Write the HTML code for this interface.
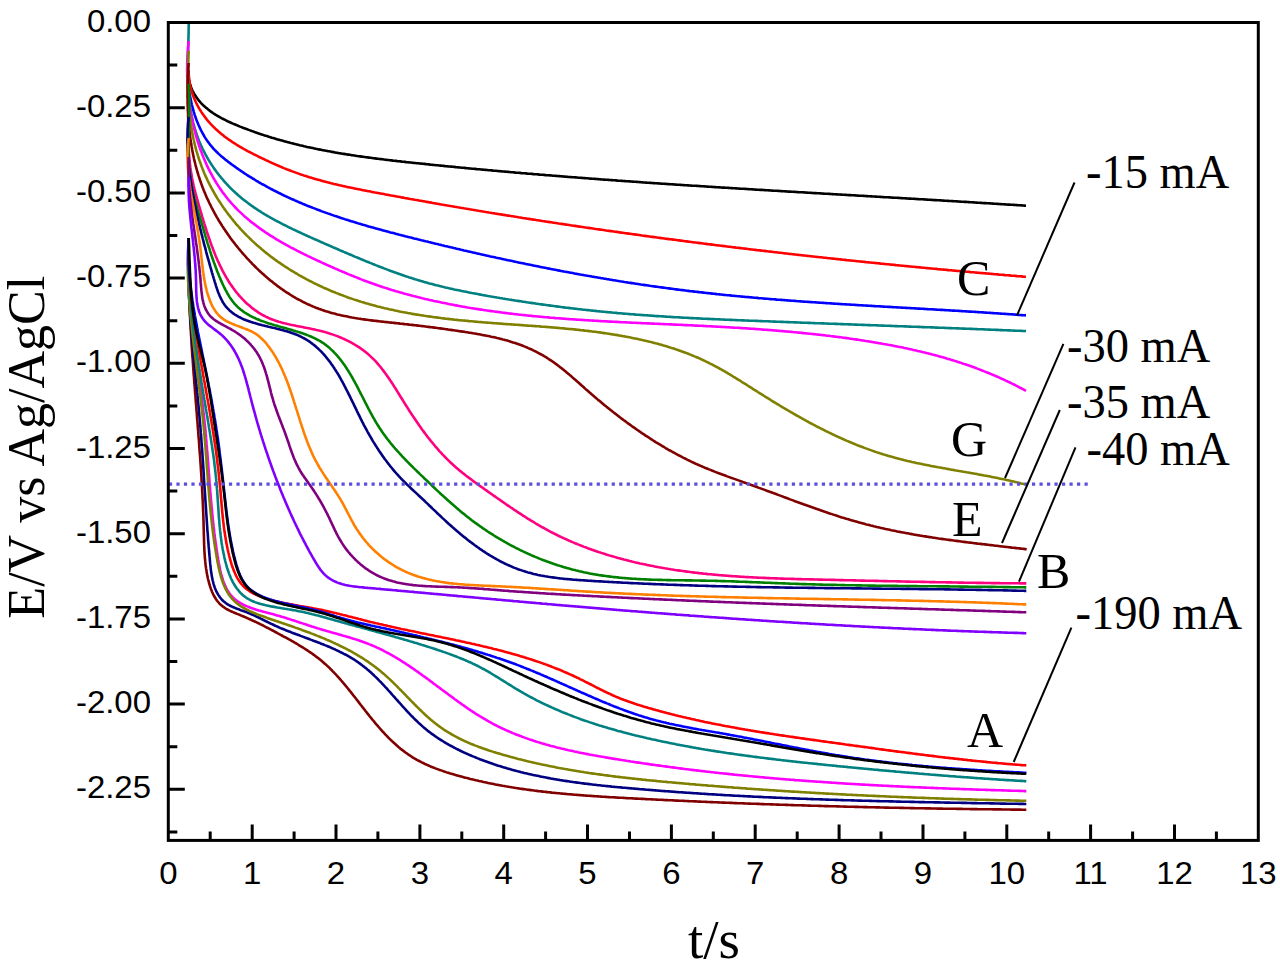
<!DOCTYPE html>
<html><head><meta charset="utf-8"><title>Chronopotentiometry</title>
<style>html,body{margin:0;padding:0;background:#fff;width:1280px;height:969px;overflow:hidden}svg{display:block}</style>
</head><body>
<svg width="1280" height="969" viewBox="0 0 1280 969"><path d="M188.7 78.0L189.0 79.6 189.3 81.1 189.6 82.6 190.0 84.1 190.5 85.5 191.0 87.0 191.5 88.3 192.1 89.7 192.7 91.0 193.4 92.3 194.1 93.6 194.8 94.8 195.6 96.0 196.4 97.2 197.2 98.4 198.1 99.5 198.9 100.6 199.9 101.7 200.8 102.8 201.8 103.8 202.8 104.8 203.8 105.8 204.9 106.8 206.0 107.7 207.1 108.6 208.2 109.5 209.4 110.4 210.5 111.3 211.7 112.1 212.9 113.0 214.2 113.8 215.4 114.6 216.7 115.4 218.0 116.1 219.3 116.9 220.6 117.6 221.9 118.3 223.3 119.0 224.6 119.7 226.0 120.4 227.3 121.1 228.7 121.7 230.1 122.3 231.5 123.0 232.9 123.6 234.4 124.2 235.8 124.8 237.2 125.4 238.6 126.0 240.1 126.6 241.5 127.1 242.9 127.7 244.4 128.2 245.8 128.8 247.2 129.3 248.7 129.9 250.1 130.4 251.6 130.9 253.0 131.4 254.5 132.0 255.9 132.5 257.3 133.0 258.8 133.5 260.2 133.9 261.7 134.4 263.1 134.9 264.6 135.4 266.0 135.8 267.5 136.3 268.9 136.8 270.4 137.2 271.8 137.7 273.3 138.1 274.8 138.5 276.2 139.0 277.7 139.4 279.1 139.8 280.6 140.2 282.0 140.6 283.5 141.0 285.0 141.4 286.4 141.8 287.9 142.2 289.3 142.6 290.8 143.0 292.3 143.3 293.7 143.7 295.2 144.1 296.7 144.4 298.1 144.8 299.6 145.2 301.1 145.5 302.5 145.8 304.0 146.2 305.5 146.5 306.9 146.9 308.4 147.2 309.9 147.5 311.3 147.8 312.8 148.1 314.3 148.4 315.8 148.8 317.2 149.1 318.7 149.4 320.2 149.6 321.7 149.9 323.1 150.2 324.6 150.5 326.1 150.8 327.6 151.1 329.0 151.3 330.5 151.6 332.0 151.9 333.5 152.1 334.9 152.4 336.4 152.7 337.9 152.9 339.4 153.2 340.9 153.4 342.4 153.7 343.8 153.9 345.3 154.1 346.8 154.4 348.3 154.6 349.8 154.8 351.2 155.1 352.7 155.3 354.2 155.5 355.7 155.7 357.2 156.0 358.7 156.2 360.2 156.4 361.6 156.6 363.1 156.8 364.6 157.0 366.1 157.2 367.6 157.4 369.1 157.6 370.6 157.8 372.1 158.0 373.5 158.2 375.0 158.4 376.5 158.6 378.0 158.8 379.5 159.0 381.0 159.1 382.5 159.3 384.0 159.5 385.5 159.7 387.0 159.9 388.4 160.0 389.9 160.2 391.4 160.4 392.9 160.6 394.4 160.7 395.9 160.9 397.4 161.1 398.9 161.2 400.4 161.4 401.9 161.6 403.4 161.7 404.9 161.9 406.3 162.1 407.8 162.2 409.3 162.4 410.8 162.5 412.3 162.7 413.8 162.9 415.3 163.0 416.8 163.2 418.3 163.3 419.8 163.5 421.3 163.6 422.8 163.8 424.3 163.9 425.8 164.1 427.3 164.3 428.8 164.4 430.3 164.6 431.7 164.7 433.2 164.9 434.7 165.0 436.2 165.2 437.7 165.3 439.2 165.5 440.7 165.6 442.2 165.8 443.7 165.9 445.2 166.1 446.7 166.2 448.2 166.4 449.7 166.5 451.2 166.6 452.7 166.8 454.2 166.9 455.7 167.1 457.2 167.2 458.7 167.4 460.2 167.5 461.6 167.7 463.1 167.8 464.6 167.9 466.1 168.1 467.6 168.2 469.1 168.4 470.6 168.5 472.1 168.7 473.6 168.8 475.1 168.9 476.6 169.1 478.1 169.2 479.6 169.3 481.1 169.5 482.6 169.6 484.1 169.8 485.6 169.9 487.1 170.0 488.6 170.2 490.1 170.3 491.6 170.4 493.1 170.6 494.6 170.7 496.1 170.8 497.6 171.0 499.1 171.1 500.6 171.2 502.1 171.4 503.6 171.5 505.1 171.6 506.6 171.8 508.0 171.9 509.5 172.0 511.0 172.2 512.5 172.3 514.0 172.4 515.5 172.6 517.0 172.7 518.5 172.8 520.0 172.9 521.5 173.1 523.0 173.2 524.5 173.3 526.0 173.4 527.5 173.6 529.0 173.7 530.5 173.8 532.0 173.9 533.5 174.1 535.0 174.2 536.5 174.3 538.0 174.4 539.5 174.6 541.0 174.7 542.5 174.8 544.0 174.9 545.5 175.1 547.0 175.2 548.5 175.3 550.0 175.4 551.5 175.5 553.0 175.7 554.5 175.8 556.0 175.9 557.5 176.0 559.0 176.1 560.5 176.3 562.0 176.4 563.5 176.5 565.0 176.6 566.5 176.7 568.0 176.9 569.5 177.0 571.0 177.1 572.5 177.2 574.0 177.3 575.5 177.4 577.0 177.5 578.5 177.7 580.0 177.8 581.5 177.9 583.0 178.0 584.5 178.1 586.0 178.2 587.5 178.3 589.0 178.5 590.5 178.6 592.0 178.7 593.5 178.8 595.0 178.9 596.5 179.0 598.0 179.1 599.5 179.2 601.0 179.4 602.5 179.5 604.0 179.6 605.5 179.7 607.0 179.8 608.5 179.9 610.0 180.0 611.5 180.1 613.0 180.2 614.5 180.3 616.0 180.4 617.5 180.6 619.0 180.7 620.5 180.8 622.0 180.9 623.5 181.0 625.0 181.1 626.5 181.2 628.0 181.3 629.5 181.4 631.0 181.5 632.5 181.6 634.0 181.7 635.5 181.8 637.0 181.9 638.5 182.0 640.0 182.1 641.5 182.2 643.0 182.4 644.5 182.5 646.0 182.6 647.5 182.7 649.0 182.8 650.5 182.9 652.0 183.0 653.5 183.1 655.0 183.2 656.5 183.3 658.0 183.4 659.5 183.5 661.0 183.6 662.5 183.7 664.0 183.8 665.5 183.9 667.0 184.0 668.6 184.1 670.1 184.2 671.6 184.3 673.1 184.4 674.6 184.5 676.1 184.6 677.6 184.7 679.1 184.8 680.6 184.9 682.1 185.0 683.6 185.1 685.1 185.2 686.6 185.3 688.1 185.4 689.6 185.5 691.1 185.6 692.6 185.7 694.1 185.7 695.6 185.8 697.1 185.9 698.6 186.0 700.1 186.1 701.6 186.2 703.1 186.3 704.6 186.4 706.1 186.5 707.6 186.6 709.1 186.7 710.6 186.8 712.1 186.9 713.6 187.0 715.1 187.1 716.6 187.2 718.1 187.3 719.6 187.4 721.1 187.5 722.6 187.6 724.1 187.6 725.6 187.7 727.1 187.8 728.6 187.9 730.1 188.0 731.6 188.1 733.1 188.2 734.7 188.3 736.2 188.4 737.7 188.5 739.2 188.6 740.7 188.7 742.2 188.8 743.7 188.8 745.2 188.9 746.7 189.0 748.2 189.1 749.7 189.2 751.2 189.3 752.7 189.4 754.2 189.5 755.7 189.6 757.2 189.7 758.7 189.8 760.2 189.9 761.7 189.9 763.2 190.0 764.7 190.1 766.2 190.2 767.7 190.3 769.2 190.4 770.7 190.5 772.2 190.6 773.7 190.7 775.2 190.8 776.7 190.8 778.2 190.9 779.7 191.0 781.2 191.1 782.7 191.2 784.2 191.3 785.7 191.4 787.2 191.5 788.7 191.6 790.3 191.6 791.8 191.7 793.3 191.8 794.8 191.9 796.3 192.0 797.8 192.1 799.3 192.2 800.8 192.3 802.3 192.3 803.8 192.4 805.3 192.5 806.8 192.6 808.3 192.7 809.8 192.8 811.3 192.9 812.8 193.0 814.3 193.1 815.8 193.1 817.3 193.2 818.8 193.3 820.3 193.4 821.8 193.5 823.3 193.6 824.8 193.7 826.3 193.8 827.8 193.8 829.3 193.9 830.8 194.0 832.3 194.1 833.8 194.2 835.3 194.3 836.8 194.4 838.3 194.5 839.8 194.5 841.3 194.6 842.8 194.7 844.3 194.8 845.9 194.9 847.4 195.0 848.9 195.1 850.4 195.1 851.9 195.2 853.4 195.3 854.9 195.4 856.4 195.5 857.9 195.6 859.4 195.7 860.9 195.8 862.4 195.8 863.9 195.9 865.4 196.0 866.9 196.1 868.4 196.2 869.9 196.3 871.4 196.4 872.9 196.5 874.4 196.5 875.9 196.6 877.4 196.7 878.9 196.8 880.4 196.9 881.9 197.0 883.4 197.1 884.9 197.2 886.4 197.2 887.9 197.3 889.4 197.4 890.9 197.5 892.4 197.6 893.9 197.7 895.4 197.8 896.9 197.8 898.4 197.9 899.9 198.0 901.4 198.1 902.9 198.2 904.4 198.3 905.9 198.4 907.4 198.5 908.9 198.6 910.4 198.6 911.9 198.7 913.5 198.8 915.0 198.9 916.5 199.0 918.0 199.1 919.5 199.2 921.0 199.3 922.5 199.3 924.0 199.4 925.5 199.5 927.0 199.6 928.5 199.7 930.0 199.8 931.5 199.9 933.0 200.0 934.5 200.1 936.0 200.1 937.5 200.2 939.0 200.3 940.5 200.4 942.0 200.5 943.5 200.6 945.0 200.7 946.5 200.8 948.0 200.9 949.5 201.0 951.0 201.0 952.5 201.1 954.0 201.2 955.5 201.3 957.0 201.4 958.5 201.5 960.0 201.6 961.5 201.7 963.0 201.8 964.5 201.9 966.0 201.9 967.5 202.0 969.0 202.1 970.5 202.2 972.0 202.3 973.5 202.4 975.0 202.5 976.5 202.6 978.0 202.7 979.5 202.8 981.0 202.9 982.5 203.0 984.0 203.1 985.5 203.1 987.0 203.2 988.5 203.3 990.0 203.4 991.5 203.5 993.0 203.6 994.5 203.7 996.0 203.8 997.5 203.9 999.0 204.0 1000.5 204.1 1002.0 204.2 1003.5 204.3 1005.0 204.4 1006.5 204.5 1008.0 204.6 1009.5 204.6 1011.0 204.7 1012.5 204.8 1014.0 204.9 1015.5 205.0 1017.0 205.1 1018.5 205.2 1020.0 205.3 1021.5 205.4 1023.0 205.5 1024.5 205.6 1026.0 205.7" stroke="#000000" stroke-width="2.6" fill="none" stroke-linejoin="round"/>
<path d="M188.7 70.0L188.7 71.5 188.7 73.1 188.8 74.6 188.9 76.1 189.0 77.6 189.1 79.1 189.3 80.6 189.6 82.1 189.8 83.6 190.1 85.1 190.4 86.5 190.8 88.0 191.1 89.4 191.5 90.9 192.0 92.3 192.4 93.7 192.9 95.1 193.4 96.5 194.0 97.9 194.6 99.3 195.1 100.6 195.8 102.0 196.4 103.3 197.1 104.7 197.8 106.0 198.5 107.3 199.2 108.6 200.0 109.8 200.8 111.1 201.6 112.4 202.4 113.6 203.3 114.8 204.2 116.0 205.1 117.2 206.0 118.4 206.9 119.6 207.8 120.7 208.8 121.9 209.8 123.0 210.8 124.1 211.8 125.2 212.8 126.2 213.9 127.3 215.0 128.3 216.0 129.3 217.1 130.3 218.2 131.3 219.4 132.3 220.5 133.3 221.7 134.2 222.8 135.1 224.0 136.1 225.2 137.0 226.4 137.8 227.6 138.7 228.8 139.6 230.0 140.4 231.3 141.3 232.5 142.1 233.8 142.9 235.0 143.7 236.3 144.5 237.6 145.3 238.9 146.1 240.2 146.8 241.5 147.6 242.8 148.4 244.1 149.1 245.5 149.8 246.8 150.6 248.1 151.3 249.5 152.0 250.8 152.7 252.2 153.4 253.5 154.1 254.9 154.8 256.2 155.4 257.6 156.1 259.0 156.8 260.3 157.5 261.7 158.1 263.1 158.8 264.4 159.4 265.8 160.1 267.2 160.7 268.6 161.4 269.9 162.0 271.3 162.6 272.7 163.3 274.1 163.9 275.5 164.5 276.9 165.1 278.3 165.7 279.6 166.3 281.0 166.9 282.4 167.5 283.8 168.1 285.2 168.6 286.6 169.2 288.0 169.7 289.4 170.3 290.8 170.8 292.3 171.4 293.7 171.9 295.1 172.4 296.5 172.9 297.9 173.4 299.3 173.9 300.8 174.4 302.2 174.9 303.6 175.4 305.0 175.8 306.5 176.3 307.9 176.7 309.3 177.2 310.7 177.6 312.2 178.1 313.6 178.5 315.1 178.9 316.5 179.3 317.9 179.7 319.4 180.1 320.8 180.5 322.3 180.9 323.7 181.3 325.2 181.7 326.6 182.1 328.1 182.4 329.5 182.8 331.0 183.2 332.4 183.5 333.9 183.9 335.3 184.2 336.8 184.6 338.3 184.9 339.7 185.3 341.2 185.6 342.6 185.9 344.1 186.2 345.6 186.6 347.0 186.9 348.5 187.2 350.0 187.5 351.4 187.8 352.9 188.1 354.4 188.4 355.8 188.7 357.3 189.0 358.8 189.3 360.3 189.6 361.7 189.9 363.2 190.2 364.7 190.5 366.1 190.8 367.6 191.1 369.1 191.3 370.6 191.6 372.0 191.9 373.5 192.2 375.0 192.5 376.5 192.7 377.9 193.0 379.4 193.3 380.9 193.6 382.4 193.8 383.9 194.1 385.3 194.4 386.8 194.7 388.3 194.9 389.8 195.2 391.2 195.5 392.7 195.7 394.2 196.0 395.7 196.3 397.1 196.6 398.6 196.8 400.1 197.1 401.6 197.4 403.1 197.6 404.5 197.9 406.0 198.2 407.5 198.4 409.0 198.7 410.4 199.0 411.9 199.2 413.4 199.5 414.9 199.8 416.4 200.0 417.8 200.3 419.3 200.6 420.8 200.8 422.3 201.1 423.7 201.3 425.2 201.6 426.7 201.9 428.2 202.1 429.7 202.4 431.1 202.6 432.6 202.9 434.1 203.2 435.6 203.4 437.1 203.7 438.5 203.9 440.0 204.2 441.5 204.5 443.0 204.7 444.5 205.0 445.9 205.2 447.4 205.5 448.9 205.7 450.4 206.0 451.9 206.2 453.3 206.5 454.8 206.8 456.3 207.0 457.8 207.3 459.3 207.5 460.7 207.8 462.2 208.0 463.7 208.3 465.2 208.5 466.7 208.8 468.2 209.0 469.6 209.3 471.1 209.5 472.6 209.8 474.1 210.0 475.6 210.3 477.0 210.5 478.5 210.8 480.0 211.0 481.5 211.2 483.0 211.5 484.5 211.7 485.9 212.0 487.4 212.2 488.9 212.5 490.4 212.7 491.9 213.0 493.3 213.2 494.8 213.4 496.3 213.7 497.8 213.9 499.3 214.2 500.8 214.4 502.2 214.6 503.7 214.9 505.2 215.1 506.7 215.4 508.2 215.6 509.7 215.8 511.1 216.1 512.6 216.3 514.1 216.5 515.6 216.8 517.1 217.0 518.6 217.3 520.1 217.5 521.5 217.7 523.0 218.0 524.5 218.2 526.0 218.4 527.5 218.7 529.0 218.9 530.4 219.1 531.9 219.4 533.4 219.6 534.9 219.8 536.4 220.1 537.9 220.3 539.4 220.5 540.8 220.7 542.3 221.0 543.8 221.2 545.3 221.4 546.8 221.7 548.3 221.9 549.7 222.1 551.2 222.3 552.7 222.6 554.2 222.8 555.7 223.0 557.2 223.2 558.7 223.5 560.1 223.7 561.6 223.9 563.1 224.1 564.6 224.4 566.1 224.6 567.6 224.8 569.1 225.0 570.6 225.3 572.0 225.5 573.5 225.7 575.0 225.9 576.5 226.1 578.0 226.4 579.5 226.6 581.0 226.8 582.4 227.0 583.9 227.2 585.4 227.5 586.9 227.7 588.4 227.9 589.9 228.1 591.4 228.3 592.9 228.5 594.3 228.8 595.8 229.0 597.3 229.2 598.8 229.4 600.3 229.6 601.8 229.8 603.3 230.0 604.8 230.2 606.2 230.5 607.7 230.7 609.2 230.9 610.7 231.1 612.2 231.3 613.7 231.5 615.2 231.7 616.7 231.9 618.2 232.1 619.6 232.4 621.1 232.6 622.6 232.8 624.1 233.0 625.6 233.2 627.1 233.4 628.6 233.6 630.1 233.8 631.6 234.0 633.0 234.2 634.5 234.4 636.0 234.6 637.5 234.8 639.0 235.0 640.5 235.2 642.0 235.5 643.5 235.7 645.0 235.9 646.4 236.1 647.9 236.3 649.4 236.5 650.9 236.7 652.4 236.9 653.9 237.1 655.4 237.3 656.9 237.5 658.4 237.7 659.9 237.9 661.3 238.1 662.8 238.3 664.3 238.5 665.8 238.7 667.3 238.9 668.8 239.1 670.3 239.3 671.8 239.4 673.3 239.6 674.8 239.8 676.3 240.0 677.7 240.2 679.2 240.4 680.7 240.6 682.2 240.8 683.7 241.0 685.2 241.2 686.7 241.4 688.2 241.6 689.7 241.8 691.2 242.0 692.7 242.2 694.1 242.4 695.6 242.5 697.1 242.7 698.6 242.9 700.1 243.1 701.6 243.3 703.1 243.5 704.6 243.7 706.1 243.9 707.6 244.1 709.1 244.2 710.6 244.4 712.0 244.6 713.5 244.8 715.0 245.0 716.5 245.2 718.0 245.4 719.5 245.5 721.0 245.7 722.5 245.9 724.0 246.1 725.5 246.3 727.0 246.5 728.5 246.7 730.0 246.8 731.4 247.0 732.9 247.2 734.4 247.4 735.9 247.6 737.4 247.7 738.9 247.9 740.4 248.1 741.9 248.3 743.4 248.5 744.9 248.6 746.4 248.8 747.9 249.0 749.4 249.2 750.8 249.4 752.3 249.5 753.8 249.7 755.3 249.9 756.8 250.1 758.3 250.2 759.8 250.4 761.3 250.6 762.8 250.8 764.3 250.9 765.8 251.1 767.3 251.3 768.8 251.5 770.3 251.6 771.8 251.8 773.2 252.0 774.7 252.2 776.2 252.3 777.7 252.5 779.2 252.7 780.7 252.8 782.2 253.0 783.7 253.2 785.2 253.4 786.7 253.5 788.2 253.7 789.7 253.9 791.2 254.0 792.7 254.2 794.2 254.4 795.7 254.5 797.1 254.7 798.6 254.9 800.1 255.0 801.6 255.2 803.1 255.4 804.6 255.5 806.1 255.7 807.6 255.9 809.1 256.0 810.6 256.2 812.1 256.4 813.6 256.5 815.1 256.7 816.6 256.9 818.1 257.0 819.6 257.2 821.1 257.3 822.6 257.5 824.0 257.7 825.5 257.8 827.0 258.0 828.5 258.2 830.0 258.3 831.5 258.5 833.0 258.6 834.5 258.8 836.0 259.0 837.5 259.1 839.0 259.3 840.5 259.4 842.0 259.6 843.5 259.7 845.0 259.9 846.5 260.1 848.0 260.2 849.5 260.4 851.0 260.5 852.5 260.7 853.9 260.8 855.4 261.0 856.9 261.2 858.4 261.3 859.9 261.5 861.4 261.6 862.9 261.8 864.4 261.9 865.9 262.1 867.4 262.2 868.9 262.4 870.4 262.5 871.9 262.7 873.4 262.8 874.9 263.0 876.4 263.1 877.9 263.3 879.4 263.4 880.9 263.6 882.4 263.7 883.9 263.9 885.4 264.0 886.8 264.2 888.3 264.3 889.8 264.5 891.3 264.6 892.8 264.8 894.3 264.9 895.8 265.1 897.3 265.2 898.8 265.4 900.3 265.5 901.8 265.7 903.3 265.8 904.8 266.0 906.3 266.1 907.8 266.2 909.3 266.4 910.8 266.5 912.3 266.7 913.8 266.8 915.3 267.0 916.8 267.1 918.3 267.3 919.8 267.4 921.3 267.5 922.7 267.7 924.2 267.8 925.7 268.0 927.2 268.1 928.7 268.2 930.2 268.4 931.7 268.5 933.2 268.7 934.7 268.8 936.2 268.9 937.7 269.1 939.2 269.2 940.7 269.4 942.2 269.5 943.7 269.6 945.2 269.8 946.7 269.9 948.2 270.1 949.7 270.2 951.2 270.3 952.7 270.5 954.2 270.6 955.7 270.7 957.2 270.9 958.7 271.0 960.2 271.1 961.7 271.3 963.1 271.4 964.6 271.5 966.1 271.7 967.6 271.8 969.1 271.9 970.6 272.1 972.1 272.2 973.6 272.3 975.1 272.5 976.6 272.6 978.1 272.7 979.6 272.9 981.1 273.0 982.6 273.1 984.1 273.3 985.6 273.4 987.1 273.5 988.6 273.6 990.1 273.8 991.6 273.9 993.1 274.0 994.6 274.2 996.1 274.3 997.6 274.4 999.1 274.6 1000.6 274.7 1002.1 274.8 1003.6 274.9 1005.0 275.1 1006.5 275.2 1008.0 275.3 1009.5 275.4 1011.0 275.6 1012.5 275.7 1014.0 275.8 1015.5 275.9 1017.0 276.1 1018.5 276.2 1020.0 276.3 1021.5 276.4 1023.0 276.6 1024.5 276.7 1026.0 276.8" stroke="#ff0000" stroke-width="2.6" fill="none" stroke-linejoin="round"/>
<path d="M188.7 88.0L188.9 89.5 189.1 90.9 189.4 92.4 189.6 93.9 189.9 95.4 190.2 96.9 190.5 98.3 190.8 99.8 191.1 101.3 191.4 102.8 191.7 104.3 192.1 105.8 192.5 107.2 192.9 108.7 193.3 110.2 193.7 111.7 194.2 113.1 194.6 114.6 195.1 116.0 195.6 117.5 196.1 118.9 196.6 120.3 197.2 121.7 197.8 123.1 198.3 124.5 199.0 125.9 199.6 127.3 200.2 128.7 200.9 130.0 201.6 131.4 202.3 132.7 203.0 134.0 203.8 135.3 204.5 136.6 205.3 137.9 206.1 139.1 207.0 140.4 207.8 141.6 208.7 142.8 209.6 144.0 210.5 145.2 211.5 146.3 212.4 147.4 213.4 148.6 214.4 149.7 215.5 150.7 216.5 151.8 217.6 152.8 218.7 153.9 219.8 154.9 220.9 155.9 222.0 156.8 223.2 157.8 224.4 158.8 225.5 159.7 226.7 160.6 227.9 161.6 229.1 162.5 230.3 163.4 231.5 164.3 232.7 165.2 234.0 166.0 235.2 166.9 236.4 167.8 237.6 168.6 238.9 169.5 240.1 170.3 241.3 171.2 242.6 172.0 243.8 172.8 245.1 173.7 246.3 174.5 247.6 175.3 248.8 176.1 250.1 176.9 251.4 177.7 252.6 178.5 253.9 179.2 255.2 180.0 256.5 180.8 257.8 181.5 259.0 182.3 260.3 183.0 261.6 183.8 262.9 184.5 264.2 185.2 265.5 185.9 266.8 186.7 268.1 187.4 269.5 188.1 270.8 188.8 272.1 189.5 273.4 190.2 274.7 190.8 276.1 191.5 277.4 192.2 278.7 192.8 280.1 193.5 281.4 194.2 282.7 194.8 284.1 195.5 285.4 196.1 286.8 196.7 288.1 197.4 289.5 198.0 290.8 198.6 292.2 199.2 293.6 199.8 294.9 200.4 296.3 201.0 297.7 201.6 299.0 202.2 300.4 202.8 301.8 203.4 303.2 204.0 304.5 204.5 305.9 205.1 307.3 205.7 308.7 206.2 310.1 206.8 311.5 207.3 312.9 207.9 314.3 208.4 315.7 208.9 317.1 209.5 318.5 210.0 319.9 210.5 321.3 211.1 322.7 211.6 324.1 212.1 325.5 212.6 326.9 213.1 328.3 213.6 329.8 214.1 331.2 214.6 332.6 215.1 334.0 215.6 335.4 216.1 336.9 216.5 338.3 217.0 339.7 217.5 341.1 218.0 342.6 218.4 344.0 218.9 345.4 219.4 346.9 219.8 348.3 220.3 349.8 220.7 351.2 221.2 352.6 221.6 354.1 222.1 355.5 222.5 357.0 222.9 358.4 223.4 359.9 223.8 361.3 224.2 362.8 224.7 364.2 225.1 365.7 225.5 367.1 225.9 368.6 226.4 370.0 226.8 371.5 227.2 372.9 227.6 374.4 228.0 375.8 228.4 377.3 228.8 378.8 229.2 380.2 229.6 381.7 230.0 383.1 230.4 384.6 230.8 386.1 231.2 387.5 231.6 389.0 232.0 390.5 232.4 391.9 232.7 393.4 233.1 394.9 233.5 396.3 233.9 397.8 234.3 399.3 234.7 400.7 235.0 402.2 235.4 403.7 235.8 405.1 236.2 406.6 236.5 408.1 236.9 409.6 237.3 411.0 237.6 412.5 238.0 414.0 238.4 415.4 238.7 416.9 239.1 418.4 239.5 419.8 239.8 421.3 240.2 422.8 240.5 424.2 240.9 425.7 241.3 427.2 241.6 428.7 242.0 430.1 242.3 431.6 242.7 433.1 243.1 434.5 243.4 436.0 243.8 437.5 244.1 438.9 244.5 440.4 244.8 441.9 245.2 443.4 245.5 444.8 245.9 446.3 246.2 447.8 246.6 449.2 246.9 450.7 247.3 452.2 247.6 453.6 248.0 455.1 248.3 456.6 248.7 458.0 249.0 459.5 249.3 461.0 249.7 462.5 250.0 463.9 250.4 465.4 250.7 466.9 251.1 468.3 251.4 469.8 251.7 471.3 252.1 472.7 252.4 474.2 252.7 475.7 253.1 477.1 253.4 478.6 253.7 480.1 254.1 481.6 254.4 483.0 254.7 484.5 255.1 486.0 255.4 487.4 255.7 488.9 256.0 490.4 256.4 491.8 256.7 493.3 257.0 494.8 257.3 496.3 257.7 497.7 258.0 499.2 258.3 500.7 258.6 502.1 258.9 503.6 259.3 505.1 259.6 506.5 259.9 508.0 260.2 509.5 260.5 511.0 260.8 512.4 261.1 513.9 261.4 515.4 261.8 516.8 262.1 518.3 262.4 519.8 262.7 521.2 263.0 522.7 263.3 524.2 263.6 525.7 263.9 527.1 264.2 528.6 264.5 530.1 264.8 531.5 265.1 533.0 265.4 534.5 265.7 536.0 266.0 537.4 266.3 538.9 266.6 540.4 266.9 541.8 267.2 543.3 267.5 544.8 267.8 546.3 268.1 547.7 268.4 549.2 268.6 550.7 268.9 552.2 269.2 553.6 269.5 555.1 269.8 556.6 270.1 558.0 270.4 559.5 270.6 561.0 270.9 562.5 271.2 563.9 271.5 565.4 271.7 566.9 272.0 568.4 272.3 569.8 272.6 571.3 272.8 572.8 273.1 574.3 273.4 575.7 273.7 577.2 273.9 578.7 274.2 580.2 274.5 581.6 274.7 583.1 275.0 584.6 275.3 586.1 275.5 587.5 275.8 589.0 276.0 590.5 276.3 592.0 276.6 593.4 276.8 594.9 277.1 596.4 277.3 597.9 277.6 599.3 277.8 600.8 278.1 602.3 278.3 603.8 278.6 605.3 278.8 606.7 279.1 608.2 279.3 609.7 279.6 611.2 279.8 612.6 280.1 614.1 280.3 615.6 280.5 617.1 280.8 618.6 281.0 620.0 281.3 621.5 281.5 623.0 281.7 624.5 282.0 626.0 282.2 627.4 282.4 628.9 282.7 630.4 282.9 631.9 283.1 633.4 283.3 634.9 283.6 636.3 283.8 637.8 284.0 639.3 284.2 640.8 284.5 642.3 284.7 643.7 284.9 645.2 285.1 646.7 285.3 648.2 285.5 649.7 285.8 651.2 286.0 652.6 286.2 654.1 286.4 655.6 286.6 657.1 286.8 658.6 287.0 660.1 287.2 661.6 287.4 663.0 287.6 664.5 287.8 666.0 288.0 667.5 288.2 669.0 288.4 670.5 288.6 672.0 288.8 673.5 289.0 674.9 289.2 676.4 289.4 677.9 289.6 679.4 289.8 680.9 290.0 682.4 290.1 683.9 290.3 685.4 290.5 686.9 290.7 688.3 290.9 689.8 291.1 691.3 291.2 692.8 291.4 694.3 291.6 695.8 291.8 697.3 291.9 698.8 292.1 700.3 292.3 701.8 292.4 703.3 292.6 704.8 292.8 706.2 293.0 707.7 293.1 709.2 293.3 710.7 293.4 712.2 293.6 713.7 293.8 715.2 293.9 716.7 294.1 718.2 294.2 719.7 294.4 721.2 294.5 722.7 294.7 724.2 294.9 725.7 295.0 727.2 295.2 728.7 295.3 730.2 295.4 731.7 295.6 733.2 295.7 734.7 295.9 736.2 296.0 737.7 296.2 739.2 296.3 740.7 296.5 742.2 296.6 743.7 296.7 745.2 296.9 746.7 297.0 748.2 297.1 749.7 297.3 751.2 297.4 752.7 297.5 754.2 297.7 755.7 297.8 757.2 297.9 758.7 298.1 760.2 298.2 761.7 298.3 763.2 298.5 764.7 298.6 766.2 298.7 767.7 298.8 769.2 299.0 770.7 299.1 772.2 299.2 773.7 299.3 775.2 299.4 776.7 299.6 778.2 299.7 779.7 299.8 781.2 299.9 782.7 300.0 784.2 300.1 785.7 300.3 787.2 300.4 788.7 300.5 790.2 300.6 791.7 300.7 793.2 300.8 794.7 300.9 796.2 301.0 797.7 301.2 799.2 301.3 800.7 301.4 802.2 301.5 803.7 301.6 805.2 301.7 806.7 301.8 808.2 301.9 809.7 302.0 811.3 302.1 812.8 302.2 814.3 302.3 815.8 302.4 817.3 302.5 818.8 302.6 820.3 302.7 821.8 302.8 823.3 302.9 824.8 303.0 826.3 303.1 827.8 303.2 829.3 303.3 830.8 303.4 832.3 303.5 833.8 303.6 835.3 303.7 836.8 303.8 838.3 303.9 839.9 304.0 841.4 304.1 842.9 304.2 844.4 304.3 845.9 304.4 847.4 304.5 848.9 304.5 850.4 304.6 851.9 304.7 853.4 304.8 854.9 304.9 856.4 305.0 857.9 305.1 859.4 305.2 860.9 305.3 862.4 305.4 863.9 305.5 865.4 305.5 867.0 305.6 868.5 305.7 870.0 305.8 871.5 305.9 873.0 306.0 874.5 306.1 876.0 306.2 877.5 306.2 879.0 306.3 880.5 306.4 882.0 306.5 883.5 306.6 885.0 306.7 886.5 306.8 888.0 306.9 889.5 306.9 891.0 307.0 892.5 307.1 894.1 307.2 895.6 307.3 897.1 307.4 898.6 307.5 900.1 307.5 901.6 307.6 903.1 307.7 904.6 307.8 906.1 307.9 907.6 308.0 909.1 308.0 910.6 308.1 912.1 308.2 913.6 308.3 915.1 308.4 916.6 308.5 918.1 308.6 919.6 308.6 921.1 308.7 922.6 308.8 924.1 308.9 925.6 309.0 927.1 309.1 928.6 309.2 930.2 309.2 931.7 309.3 933.2 309.4 934.7 309.5 936.2 309.6 937.7 309.7 939.2 309.8 940.7 309.9 942.2 309.9 943.7 310.0 945.2 310.1 946.7 310.2 948.2 310.3 949.7 310.4 951.2 310.5 952.7 310.6 954.2 310.6 955.7 310.7 957.2 310.8 958.7 310.9 960.2 311.0 961.7 311.1 963.2 311.2 964.7 311.3 966.2 311.4 967.7 311.5 969.2 311.6 970.7 311.6 972.2 311.7 973.7 311.8 975.2 311.9 976.7 312.0 978.2 312.1 979.7 312.2 981.2 312.3 982.7 312.4 984.2 312.5 985.7 312.6 987.2 312.7 988.7 312.8 990.2 312.9 991.6 313.0 993.1 313.1 994.6 313.2 996.1 313.3 997.6 313.4 999.1 313.5 1000.6 313.6 1002.1 313.7 1003.6 313.8 1005.1 313.9 1006.6 314.0 1008.1 314.1 1009.6 314.2 1011.1 314.3 1012.6 314.4 1014.1 314.5 1015.6 314.6 1017.0 314.7 1018.5 314.9 1020.0 315.0 1021.5 315.1 1023.0 315.2 1024.5 315.3 1026.0 315.4" stroke="#0000ff" stroke-width="2.6" fill="none" stroke-linejoin="round"/>
<path d="M188.7 95.0L188.7 96.5 188.6 98.0 188.6 99.5 188.6 101.0 188.5 102.5 188.5 104.0 188.4 105.5 188.4 107.0 188.4 108.6 188.3 110.1 188.3 111.6 188.3 113.1 188.3 114.6 188.2 116.1 188.2 117.6 188.2 119.2 188.2 120.7 188.2 122.2 188.1 123.7 188.1 125.2 188.1 126.7 188.1 128.2 188.1 129.8 188.2 131.3 188.2 132.8 188.2 134.3 188.2 135.8 188.2 137.3 188.3 138.8 188.3 140.3 188.4 141.8 188.4 143.3 188.5 144.9 188.6 146.4 188.6 147.9 188.7 149.4 188.8 150.9 188.9 152.4 189.0 153.9 189.1 155.3 189.2 156.8 189.4 158.3 189.5 159.8 189.7 161.3 189.8 162.8 190.0 164.3 190.2 165.7 190.3 167.2 190.5 168.7 190.7 170.2 191.0 171.6 191.2 173.1 191.4 174.6 191.7 176.0 191.9 177.5 192.2 178.9 192.5 180.4 192.8 181.8 193.1 183.3 193.4 184.7 193.7 186.1 194.1 187.6 194.4 189.0 194.8 190.4 195.1 191.9 195.5 193.3 195.9 194.7 196.3 196.1 196.7 197.6 197.1 199.0 197.5 200.4 197.9 201.9 198.3 203.3 198.7 204.7 199.1 206.2 199.6 207.6 200.0 209.1 200.4 210.5 200.8 211.9 201.3 213.4 201.7 214.9 202.1 216.3 202.6 217.8 203.0 219.2 203.4 220.7 203.9 222.1 204.3 223.6 204.8 225.1 205.2 226.5 205.7 228.0 206.2 229.5 206.6 230.9 207.1 232.4 207.6 233.9 208.1 235.3 208.6 236.8 209.1 238.2 209.6 239.7 210.1 241.1 210.6 242.6 211.1 244.0 211.6 245.5 212.2 246.9 212.7 248.3 213.2 249.8 213.8 251.2 214.4 252.6 214.9 254.0 215.5 255.5 216.1 256.9 216.7 258.3 217.3 259.7 217.9 261.1 218.6 262.4 219.2 263.8 219.8 265.2 220.5 266.5 221.2 267.9 221.8 269.2 222.5 270.6 223.2 271.9 223.9 273.2 224.7 274.6 225.4 275.9 226.1 277.2 226.9 278.4 227.7 279.7 228.4 281.0 229.2 282.2 230.0 283.5 230.9 284.7 231.7 285.9 232.6 287.1 233.4 288.3 234.3 289.5 235.2 290.7 236.1 291.9 237.0 293.0 238.0 294.1 238.9 295.3 239.9 296.4 240.9 297.5 241.9 298.5 242.9 299.6 243.9 300.6 244.9 301.7 246.0 302.7 247.1 303.7 248.1 304.6 249.3 305.6 250.4 306.5 251.5 307.5 252.6 308.4 253.8 309.2 255.0 310.1 256.2 310.9 257.4 311.8 258.6 312.6 259.8 313.3 261.1 314.1 262.3 314.8 263.6 315.5 264.9 316.2 266.2 316.9 267.6 317.5 268.9 318.1 270.2 318.7 271.6 319.2 273.0 319.8 274.4 320.3 275.8 320.7 277.2 321.2 278.6 321.7 280.1 322.1 281.5 322.5 283.0 322.9 284.5 323.3 285.9 323.6 287.4 324.0 288.9 324.3 290.4 324.7 291.9 325.0 293.4 325.3 294.9 325.6 296.4 325.9 298.0 326.2 299.5 326.5 301.0 326.8 302.5 327.1 304.0 327.4 305.6 327.7 307.1 328.0 308.6 328.3 310.1 328.6 311.6 328.9 313.2 329.2 314.7 329.5 316.2 329.9 317.7 330.2 319.2 330.6 320.6 330.9 322.1 331.3 323.6 331.7 325.1 332.1 326.5 332.6 328.0 333.0 329.4 333.4 330.9 333.9 332.3 334.4 333.7 334.9 335.1 335.4 336.5 335.9 337.9 336.4 339.3 337.0 340.7 337.5 342.0 338.1 343.4 338.7 344.7 339.3 346.1 340.0 347.4 340.6 348.7 341.3 350.0 341.9 351.3 342.6 352.6 343.3 353.9 344.1 355.1 344.8 356.4 345.6 357.6 346.3 358.8 347.1 360.0 347.9 361.2 348.8 362.4 349.6 363.6 350.5 364.7 351.4 365.9 352.3 367.0 353.2 368.1 354.1 369.2 355.1 370.3 356.1 371.3 357.1 372.4 358.1 373.4 359.1 374.5 360.2 375.5 361.2 376.5 362.3 377.4 363.4 378.4 364.6 379.4 365.7 380.3 366.8 381.3 368.0 382.2 369.2 383.1 370.4 384.0 371.6 384.9 372.8 385.8 374.0 386.7 375.2 387.6 376.5 388.4 377.7 389.3 379.0 390.1 380.3 391.0 381.5 391.8 382.8 392.7 384.1 393.5 385.4 394.3 386.7 395.2 388.0 396.0 389.3 396.8 390.6 397.6 391.9 398.4 393.2 399.2 394.5 400.0 395.9 400.9 397.2 401.7 398.5 402.5 399.8 403.3 401.1 404.1 402.4 404.9 403.7 405.7 405.0 406.5 406.3 407.4 407.6 408.2 408.9 409.0 410.2 409.8 411.5 410.7 412.8 411.5 414.0 412.3 415.3 413.2 416.6 414.0 417.8 414.9 419.1 415.7 420.3 416.6 421.6 417.4 422.8 418.3 424.1 419.1 425.3 420.0 426.5 420.9 427.8 421.7 429.0 422.6 430.2 423.5 431.4 424.4 432.6 425.3 433.8 426.2 435.0 427.1 436.2 428.0 437.4 428.9 438.5 429.9 439.7 430.8 440.9 431.7 442.0 432.7 443.2 433.6 444.3 434.6 445.5 435.5 446.6 436.5 447.7 437.5 448.8 438.4 449.9 439.4 451.1 440.4 452.1 441.4 453.2 442.4 454.3 443.5 455.4 444.5 456.5 445.5 457.5 446.6 458.6 447.6 459.6 448.7 460.7 449.7 461.7 450.8 462.7 451.9 463.7 453.0 464.7 454.1 465.7 455.2 466.7 456.3 467.7 457.5 468.7 458.6 469.6 459.7 470.6 460.9 471.5 462.1 472.5 463.2 473.4 464.4 474.3 465.6 475.3 466.8 476.2 468.0 477.1 469.2 478.0 470.4 478.9 471.6 479.8 472.8 480.7 474.0 481.6 475.2 482.5 476.4 483.4 477.7 484.2 478.9 485.1 480.1 486.0 481.3 486.9 482.6 487.7 483.8 488.6 485.0 489.5 486.3 490.4 487.5 491.2 488.7 492.1 490.0 493.0 491.2 493.8 492.4 494.7 493.7 495.6 494.9 496.4 496.1 497.3 497.4 498.2 498.6 499.0 499.9 499.9 501.1 500.8 502.3 501.6 503.6 502.5 504.8 503.3 506.0 504.2 507.3 505.1 508.5 505.9 509.8 506.8 511.0 507.6 512.3 508.4 513.5 509.3 514.7 510.1 516.0 510.9 517.2 511.8 518.5 512.6 519.8 513.4 521.0 514.2 522.3 515.1 523.5 515.9 524.8 516.7 526.1 517.5 527.3 518.3 528.6 519.1 529.9 519.9 531.1 520.7 532.4 521.4 533.7 522.2 535.0 523.0 536.3 523.8 537.6 524.5 538.9 525.3 540.2 526.0 541.5 526.8 542.8 527.5 544.1 528.2 545.4 529.0 546.7 529.7 548.0 530.4 549.3 531.1 550.7 531.8 552.0 532.5 553.3 533.2 554.7 533.8 556.0 534.5 557.3 535.2 558.7 535.8 560.0 536.5 561.4 537.1 562.8 537.8 564.1 538.4 565.5 539.0 566.9 539.6 568.2 540.3 569.6 540.9 571.0 541.5 572.4 542.1 573.8 542.6 575.1 543.2 576.5 543.8 577.9 544.4 579.3 544.9 580.7 545.5 582.1 546.0 583.5 546.6 584.9 547.1 586.4 547.6 587.8 548.2 589.2 548.7 590.6 549.2 592.0 549.7 593.4 550.2 594.9 550.7 596.3 551.2 597.7 551.7 599.2 552.2 600.6 552.6 602.0 553.1 603.5 553.6 604.9 554.0 606.3 554.5 607.8 554.9 609.2 555.4 610.7 555.8 612.1 556.2 613.6 556.6 615.0 557.1 616.5 557.5 617.9 557.9 619.4 558.3 620.8 558.7 622.3 559.1 623.7 559.5 625.2 559.8 626.6 560.2 628.1 560.6 629.6 561.0 631.0 561.3 632.5 561.7 633.9 562.0 635.4 562.4 636.9 562.7 638.3 563.0 639.8 563.4 641.3 563.7 642.7 564.0 644.2 564.3 645.7 564.6 647.1 565.0 648.6 565.3 650.1 565.6 651.5 565.8 653.0 566.1 654.5 566.4 656.0 566.7 657.4 567.0 658.9 567.3 660.4 567.5 661.9 567.8 663.3 568.0 664.8 568.3 666.3 568.5 667.8 568.8 669.2 569.0 670.7 569.3 672.2 569.5 673.7 569.7 675.2 570.0 676.7 570.2 678.1 570.4 679.6 570.6 681.1 570.8 682.6 571.0 684.1 571.2 685.6 571.4 687.0 571.6 688.5 571.8 690.0 572.0 691.5 572.2 693.0 572.4 694.5 572.6 696.0 572.8 697.5 572.9 698.9 573.1 700.4 573.3 701.9 573.4 703.4 573.6 704.9 573.7 706.4 573.9 707.9 574.1 709.4 574.2 710.9 574.3 712.4 574.5 713.9 574.6 715.4 574.8 716.9 574.9 718.3 575.0 719.8 575.2 721.3 575.3 722.8 575.4 724.3 575.5 725.8 575.6 727.3 575.8 728.8 575.9 730.3 576.0 731.8 576.1 733.3 576.2 734.8 576.3 736.3 576.4 737.8 576.5 739.3 576.6 740.8 576.7 742.3 576.8 743.8 576.9 745.3 577.0 746.8 577.1 748.3 577.1 749.8 577.2 751.3 577.3 752.8 577.4 754.3 577.5 755.8 577.5 757.3 577.6 758.8 577.7 760.3 577.7 761.8 577.8 763.3 577.9 764.9 577.9 766.4 578.0 767.9 578.1 769.4 578.1 770.9 578.2 772.4 578.2 773.9 578.3 775.4 578.4 776.9 578.4 778.4 578.5 779.9 578.5 781.4 578.6 782.9 578.6 784.4 578.7 785.9 578.7 787.4 578.8 788.9 578.8 790.4 578.8 791.9 578.9 793.4 578.9 794.9 579.0 796.4 579.0 798.0 579.1 799.5 579.1 801.0 579.1 802.5 579.2 804.0 579.2 805.5 579.3 807.0 579.3 808.5 579.3 810.0 579.4 811.5 579.4 813.0 579.4 814.5 579.5 816.0 579.5 817.5 579.5 819.0 579.6 820.5 579.6 822.0 579.6 823.5 579.7 825.0 579.7 826.5 579.8 828.0 579.8 829.6 579.8 831.1 579.9 832.6 579.9 834.1 579.9 835.6 580.0 837.1 580.0 838.6 580.0 840.1 580.1 841.6 580.1 843.1 580.1 844.6 580.2 846.1 580.2 847.6 580.2 849.1 580.3 850.6 580.3 852.1 580.3 853.6 580.4 855.1 580.4 856.6 580.5 858.1 580.5 859.6 580.5 861.1 580.6 862.6 580.6 864.1 580.6 865.6 580.7 867.1 580.7 868.6 580.7 870.1 580.8 871.6 580.8 873.1 580.8 874.6 580.9 876.1 580.9 877.6 580.9 879.1 581.0 880.6 581.0 882.1 581.0 883.6 581.1 885.1 581.1 886.6 581.1 888.1 581.2 889.6 581.2 891.1 581.2 892.6 581.3 894.1 581.3 895.6 581.3 897.1 581.4 898.6 581.4 900.1 581.4 901.6 581.5 903.1 581.5 904.6 581.5 906.1 581.6 907.6 581.6 909.1 581.6 910.6 581.7 912.1 581.7 913.6 581.7 915.1 581.8 916.6 581.8 918.1 581.8 919.6 581.8 921.1 581.9 922.6 581.9 924.1 581.9 925.6 582.0 927.1 582.0 928.6 582.0 930.1 582.1 931.6 582.1 933.1 582.1 934.6 582.1 936.1 582.2 937.6 582.2 939.1 582.2 940.6 582.3 942.1 582.3 943.6 582.3 945.1 582.3 946.6 582.4 948.1 582.4 949.6 582.4 951.1 582.4 952.6 582.5 954.1 582.5 955.6 582.5 957.1 582.5 958.6 582.6 960.1 582.6 961.6 582.6 963.1 582.6 964.6 582.7 966.1 582.7 967.6 582.7 969.1 582.7 970.7 582.8 972.2 582.8 973.7 582.8 975.2 582.8 976.7 582.9 978.2 582.9 979.7 582.9 981.2 582.9 982.7 582.9 984.2 583.0 985.7 583.0 987.2 583.0 988.7 583.0 990.2 583.0 991.7 583.1 993.2 583.1 994.7 583.1 996.2 583.1 997.7 583.1 999.2 583.1 1000.7 583.2 1002.2 583.2 1003.7 583.2 1005.2 583.2 1006.7 583.2 1008.2 583.2 1009.7 583.3 1011.2 583.3 1012.7 583.3 1014.3 583.3 1015.8 583.3 1017.3 583.3 1018.8 583.3 1020.3 583.4 1021.8 583.4 1023.3 583.4 1024.8 583.4 1026.3 583.4" stroke="#ff0080" stroke-width="2.6" fill="none" stroke-linejoin="round"/>
<path d="M188.7 22.0L188.7 23.4 188.7 24.9 188.7 26.3 188.7 27.8 188.6 29.2 188.6 30.7 188.6 32.1 188.6 33.6 188.5 35.1 188.5 36.6 188.5 38.0 188.4 39.5 188.4 41.0 188.3 42.5 188.3 44.0 188.3 45.5 188.2 47.0 188.2 48.5 188.2 50.0 188.1 51.6 188.1 53.1 188.1 54.6 188.0 56.1 188.0 57.6 188.0 59.2 188.0 60.7 187.9 62.2 187.9 63.8 187.9 65.3 187.9 66.8 187.9 68.4 187.9 69.9 187.9 71.4 187.9 73.0 187.9 74.5 188.0 76.0 188.0 77.6 188.0 79.1 188.1 80.7 188.1 82.2 188.2 83.7 188.2 85.3 188.3 86.8 188.4 88.3 188.5 89.9 188.6 91.4 188.7 92.9 188.8 94.4 188.9 96.0 189.1 97.5 189.2 99.0 189.4 100.5 189.5 102.0 189.7 103.5 189.9 105.0 190.1 106.5 190.3 108.0 190.6 109.5 190.8 111.0 191.1 112.5 191.3 114.0 191.6 115.5 191.9 117.0 192.2 118.4 192.5 119.9 192.9 121.3 193.2 122.8 193.6 124.3 194.0 125.7 194.4 127.1 194.8 128.6 195.2 130.0 195.7 131.4 196.1 132.8 196.6 134.2 197.1 135.6 197.6 137.0 198.1 138.4 198.7 139.8 199.2 141.2 199.8 142.5 200.4 143.9 201.0 145.3 201.6 146.6 202.2 147.9 202.8 149.3 203.5 150.6 204.2 151.9 204.8 153.2 205.5 154.5 206.2 155.8 207.0 157.1 207.7 158.4 208.4 159.7 209.2 160.9 210.0 162.2 210.8 163.4 211.6 164.7 212.4 165.9 213.2 167.1 214.0 168.4 214.9 169.6 215.8 170.8 216.6 172.0 217.5 173.1 218.4 174.3 219.3 175.5 220.3 176.6 221.2 177.8 222.2 178.9 223.1 180.0 224.1 181.2 225.1 182.3 226.1 183.4 227.1 184.5 228.1 185.5 229.1 186.6 230.1 187.7 231.2 188.7 232.3 189.8 233.3 190.8 234.4 191.8 235.5 192.8 236.6 193.8 237.7 194.8 238.8 195.8 240.0 196.7 241.1 197.7 242.3 198.7 243.4 199.6 244.6 200.5 245.8 201.4 247.0 202.3 248.2 203.2 249.4 204.1 250.6 205.0 251.8 205.9 253.0 206.7 254.3 207.6 255.5 208.4 256.8 209.2 258.0 210.1 259.3 210.9 260.6 211.7 261.8 212.5 263.1 213.3 264.4 214.1 265.7 214.8 267.0 215.6 268.3 216.4 269.6 217.1 271.0 217.9 272.3 218.6 273.6 219.3 275.0 220.1 276.3 220.8 277.6 221.5 279.0 222.2 280.3 222.9 281.7 223.6 283.0 224.3 284.4 225.0 285.8 225.7 287.1 226.4 288.5 227.1 289.9 227.7 291.2 228.4 292.6 229.1 294.0 229.7 295.4 230.4 296.8 231.0 298.1 231.7 299.5 232.3 300.9 232.9 302.3 233.6 303.7 234.2 305.0 234.9 306.4 235.5 307.8 236.1 309.2 236.7 310.6 237.4 312.0 238.0 313.4 238.6 314.7 239.2 316.1 239.8 317.5 240.4 318.9 241.0 320.3 241.7 321.7 242.3 323.1 242.9 324.4 243.5 325.8 244.1 327.2 244.7 328.6 245.3 330.0 245.9 331.4 246.5 332.7 247.1 334.1 247.7 335.5 248.3 336.9 248.9 338.3 249.5 339.6 250.1 341.0 250.7 342.4 251.3 343.8 251.9 345.2 252.5 346.5 253.0 347.9 253.6 349.3 254.2 350.7 254.8 352.1 255.4 353.4 256.0 354.8 256.6 356.2 257.1 357.6 257.7 359.0 258.3 360.4 258.9 361.7 259.5 363.1 260.0 364.5 260.6 365.9 261.2 367.3 261.7 368.7 262.3 370.1 262.9 371.4 263.4 372.8 264.0 374.2 264.5 375.6 265.1 377.0 265.6 378.4 266.2 379.8 266.7 381.2 267.3 382.6 267.8 384.0 268.4 385.4 268.9 386.7 269.4 388.1 269.9 389.5 270.5 390.9 271.0 392.3 271.5 393.7 272.0 395.2 272.5 396.6 273.0 398.0 273.5 399.4 274.0 400.8 274.5 402.2 275.0 403.6 275.5 405.0 276.0 406.4 276.4 407.8 276.9 409.3 277.4 410.7 277.8 412.1 278.3 413.5 278.7 415.0 279.2 416.4 279.6 417.8 280.1 419.2 280.5 420.7 280.9 422.1 281.3 423.5 281.8 425.0 282.2 426.4 282.6 427.9 283.0 429.3 283.4 430.8 283.7 432.2 284.1 433.6 284.5 435.1 284.9 436.5 285.3 438.0 285.6 439.5 286.0 440.9 286.3 442.4 286.7 443.8 287.0 445.3 287.4 446.8 287.7 448.2 288.1 449.7 288.4 451.1 288.7 452.6 289.0 454.1 289.4 455.5 289.7 457.0 290.0 458.5 290.3 460.0 290.6 461.4 290.9 462.9 291.2 464.4 291.5 465.9 291.8 467.3 292.1 468.8 292.4 470.3 292.7 471.8 293.0 473.2 293.2 474.7 293.5 476.2 293.8 477.7 294.1 479.2 294.4 480.6 294.6 482.1 294.9 483.6 295.2 485.1 295.4 486.6 295.7 488.1 296.0 489.5 296.2 491.0 296.5 492.5 296.7 494.0 297.0 495.5 297.2 497.0 297.5 498.4 297.7 499.9 298.0 501.4 298.2 502.9 298.5 504.4 298.7 505.9 299.0 507.4 299.2 508.8 299.5 510.3 299.7 511.8 299.9 513.3 300.2 514.8 300.4 516.3 300.7 517.8 300.9 519.3 301.1 520.7 301.3 522.2 301.6 523.7 301.8 525.2 302.0 526.7 302.3 528.2 302.5 529.7 302.7 531.2 302.9 532.6 303.1 534.1 303.3 535.6 303.6 537.1 303.8 538.6 304.0 540.1 304.2 541.6 304.4 543.1 304.6 544.6 304.8 546.1 305.0 547.5 305.2 549.0 305.4 550.5 305.6 552.0 305.8 553.5 306.0 555.0 306.2 556.5 306.4 558.0 306.6 559.5 306.8 561.0 307.0 562.5 307.2 563.9 307.4 565.4 307.6 566.9 307.7 568.4 307.9 569.9 308.1 571.4 308.3 572.9 308.5 574.4 308.6 575.9 308.8 577.4 309.0 578.9 309.2 580.4 309.3 581.9 309.5 583.4 309.7 584.9 309.8 586.3 310.0 587.8 310.1 589.3 310.3 590.8 310.5 592.3 310.6 593.8 310.8 595.3 310.9 596.8 311.1 598.3 311.2 599.8 311.4 601.3 311.5 602.8 311.7 604.3 311.8 605.8 312.0 607.3 312.1 608.8 312.3 610.3 312.4 611.8 312.5 613.3 312.7 614.8 312.8 616.2 312.9 617.7 313.1 619.2 313.2 620.7 313.3 622.2 313.5 623.7 313.6 625.2 313.7 626.7 313.8 628.2 314.0 629.7 314.1 631.2 314.2 632.7 314.3 634.2 314.4 635.7 314.6 637.2 314.7 638.7 314.8 640.2 314.9 641.7 315.0 643.2 315.1 644.7 315.2 646.2 315.3 647.7 315.4 649.2 315.5 650.7 315.6 652.2 315.8 653.7 315.9 655.2 316.0 656.7 316.1 658.2 316.1 659.7 316.2 661.2 316.3 662.7 316.4 664.2 316.5 665.7 316.6 667.2 316.7 668.7 316.8 670.2 316.9 671.7 317.0 673.2 317.1 674.7 317.2 676.2 317.2 677.7 317.3 679.2 317.4 680.7 317.5 682.2 317.6 683.7 317.7 685.2 317.7 686.7 317.8 688.2 317.9 689.7 318.0 691.2 318.1 692.7 318.1 694.2 318.2 695.7 318.3 697.2 318.4 698.7 318.4 700.2 318.5 701.7 318.6 703.2 318.7 704.7 318.7 706.2 318.8 707.7 318.9 709.2 318.9 710.7 319.0 712.2 319.1 713.7 319.1 715.2 319.2 716.7 319.3 718.2 319.3 719.7 319.4 721.2 319.5 722.7 319.5 724.2 319.6 725.7 319.7 727.2 319.7 728.7 319.8 730.2 319.9 731.7 319.9 733.2 320.0 734.7 320.0 736.2 320.1 737.7 320.2 739.2 320.2 740.7 320.3 742.2 320.4 743.7 320.4 745.2 320.5 746.7 320.5 748.2 320.6 749.7 320.7 751.2 320.7 752.7 320.8 754.2 320.8 755.7 320.9 757.2 320.9 758.7 321.0 760.2 321.1 761.7 321.1 763.2 321.2 764.7 321.2 766.2 321.3 767.7 321.3 769.2 321.4 770.7 321.5 772.2 321.5 773.7 321.6 775.2 321.6 776.7 321.7 778.2 321.8 779.7 321.8 781.2 321.9 782.7 321.9 784.2 322.0 785.7 322.0 787.2 322.1 788.7 322.1 790.2 322.2 791.7 322.3 793.2 322.3 794.7 322.4 796.2 322.4 797.7 322.5 799.2 322.5 800.7 322.6 802.2 322.7 803.7 322.7 805.3 322.8 806.8 322.8 808.3 322.9 809.8 322.9 811.3 323.0 812.8 323.0 814.3 323.1 815.8 323.2 817.3 323.2 818.8 323.3 820.3 323.3 821.8 323.4 823.3 323.4 824.8 323.5 826.3 323.5 827.8 323.6 829.3 323.7 830.8 323.7 832.3 323.8 833.8 323.8 835.3 323.9 836.8 323.9 838.3 324.0 839.8 324.0 841.3 324.1 842.8 324.1 844.3 324.2 845.8 324.3 847.3 324.3 848.8 324.4 850.3 324.4 851.8 324.5 853.3 324.5 854.8 324.6 856.3 324.6 857.8 324.7 859.3 324.7 860.8 324.8 862.3 324.9 863.8 324.9 865.3 325.0 866.8 325.0 868.3 325.1 869.8 325.1 871.3 325.2 872.8 325.2 874.3 325.3 875.8 325.3 877.3 325.4 878.8 325.5 880.3 325.5 881.8 325.6 883.4 325.6 884.9 325.7 886.4 325.7 887.9 325.8 889.4 325.8 890.9 325.9 892.4 326.0 893.9 326.0 895.4 326.1 896.9 326.1 898.4 326.2 899.9 326.2 901.4 326.3 902.9 326.3 904.4 326.4 905.9 326.4 907.4 326.5 908.9 326.6 910.4 326.6 911.9 326.7 913.4 326.7 914.9 326.8 916.4 326.8 917.9 326.9 919.4 326.9 920.9 327.0 922.4 327.1 923.9 327.1 925.4 327.2 926.9 327.2 928.4 327.3 929.9 327.3 931.4 327.4 932.9 327.4 934.4 327.5 935.9 327.6 937.4 327.6 938.9 327.7 940.4 327.7 941.9 327.8 943.4 327.8 944.9 327.9 946.4 328.0 947.9 328.0 949.4 328.1 950.9 328.1 952.4 328.2 953.9 328.2 955.4 328.3 956.9 328.4 958.4 328.4 959.9 328.5 961.4 328.5 962.9 328.6 964.4 328.6 965.9 328.7 967.5 328.8 969.0 328.8 970.5 328.9 972.0 328.9 973.5 329.0 975.0 329.0 976.5 329.1 978.0 329.2 979.5 329.2 981.0 329.3 982.5 329.3 984.0 329.4 985.5 329.5 987.0 329.5 988.5 329.6 990.0 329.6 991.5 329.7 993.0 329.8 994.5 329.8 996.0 329.9 997.5 329.9 999.0 330.0 1000.5 330.1 1002.0 330.1 1003.5 330.2 1005.0 330.2 1006.5 330.3 1008.0 330.4 1009.5 330.4 1011.0 330.5 1012.5 330.5 1014.0 330.6 1015.5 330.7 1017.0 330.7 1018.5 330.8 1020.0 330.8 1021.5 330.9 1023.0 331.0 1024.5 331.0 1026.0 331.1" stroke="#008080" stroke-width="2.6" fill="none" stroke-linejoin="round"/>
<path d="M188.7 41.0L188.5 42.5 188.4 43.9 188.3 45.4 188.1 46.8 188.0 48.3 187.9 49.8 187.8 51.2 187.7 52.7 187.6 54.2 187.5 55.7 187.4 57.2 187.4 58.7 187.3 60.1 187.3 61.6 187.2 63.1 187.2 64.6 187.2 66.1 187.2 67.6 187.1 69.1 187.1 70.6 187.2 72.2 187.2 73.7 187.2 75.2 187.2 76.7 187.3 78.2 187.3 79.7 187.4 81.2 187.5 82.7 187.6 84.3 187.7 85.8 187.8 87.3 187.9 88.8 188.0 90.3 188.1 91.9 188.3 93.4 188.4 94.9 188.6 96.4 188.7 97.9 188.9 99.4 189.1 101.0 189.3 102.5 189.5 104.0 189.7 105.5 189.9 107.0 190.1 108.5 190.4 110.0 190.6 111.5 190.9 113.0 191.1 114.6 191.4 116.1 191.7 117.6 192.0 119.1 192.3 120.5 192.6 122.0 192.9 123.5 193.3 125.0 193.6 126.5 194.0 128.0 194.4 129.5 194.7 130.9 195.1 132.4 195.5 133.9 195.9 135.3 196.3 136.8 196.8 138.3 197.2 139.7 197.6 141.2 198.1 142.6 198.6 144.1 199.0 145.5 199.5 146.9 200.0 148.3 200.5 149.8 201.0 151.2 201.6 152.6 202.1 154.0 202.7 155.4 203.2 156.8 203.8 158.2 204.4 159.6 205.0 161.0 205.6 162.3 206.2 163.7 206.8 165.1 207.4 166.4 208.1 167.8 208.7 169.1 209.4 170.4 210.1 171.8 210.8 173.1 211.5 174.4 212.2 175.7 212.9 177.0 213.6 178.3 214.4 179.6 215.1 180.8 215.9 182.1 216.7 183.4 217.5 184.6 218.3 185.9 219.1 187.1 219.9 188.3 220.7 189.5 221.6 190.8 222.4 192.0 223.3 193.1 224.2 194.3 225.1 195.5 226.0 196.7 226.9 197.8 227.8 199.0 228.7 200.1 229.7 201.2 230.7 202.3 231.6 203.4 232.6 204.5 233.6 205.6 234.6 206.7 235.6 207.8 236.7 208.8 237.7 209.9 238.7 210.9 239.8 211.9 240.9 212.9 242.0 213.9 243.0 214.9 244.1 215.9 245.3 216.9 246.4 217.9 247.5 218.8 248.6 219.8 249.8 220.7 250.9 221.7 252.1 222.6 253.3 223.5 254.5 224.4 255.7 225.3 256.9 226.2 258.1 227.1 259.3 228.0 260.5 228.9 261.7 229.7 263.0 230.6 264.2 231.4 265.4 232.3 266.7 233.1 268.0 233.9 269.2 234.8 270.5 235.6 271.8 236.4 273.1 237.2 274.4 238.0 275.7 238.8 277.0 239.6 278.3 240.3 279.6 241.1 280.9 241.9 282.2 242.6 283.6 243.4 284.9 244.1 286.2 244.9 287.6 245.6 288.9 246.3 290.3 247.1 291.6 247.8 293.0 248.5 294.3 249.2 295.7 249.9 297.0 250.6 298.4 251.3 299.8 252.0 301.1 252.7 302.5 253.4 303.9 254.1 305.3 254.7 306.6 255.4 308.0 256.1 309.4 256.7 310.8 257.4 312.2 258.1 313.6 258.7 314.9 259.4 316.3 260.0 317.7 260.7 319.1 261.3 320.5 261.9 321.9 262.6 323.2 263.2 324.6 263.8 326.0 264.5 327.4 265.1 328.8 265.7 330.2 266.3 331.5 266.9 332.9 267.5 334.3 268.1 335.7 268.8 337.1 269.4 338.5 270.0 339.8 270.6 341.2 271.1 342.6 271.7 344.0 272.3 345.4 272.9 346.8 273.5 348.1 274.1 349.5 274.6 350.9 275.2 352.3 275.8 353.7 276.3 355.1 276.9 356.5 277.4 357.8 278.0 359.2 278.5 360.6 279.1 362.0 279.6 363.4 280.2 364.8 280.7 366.2 281.2 367.6 281.7 369.0 282.2 370.4 282.8 371.8 283.3 373.2 283.8 374.6 284.3 376.0 284.8 377.4 285.3 378.9 285.7 380.3 286.2 381.7 286.7 383.1 287.2 384.5 287.6 385.9 288.1 387.4 288.5 388.8 289.0 390.2 289.4 391.7 289.9 393.1 290.3 394.5 290.7 396.0 291.2 397.4 291.6 398.8 292.0 400.3 292.4 401.7 292.8 403.2 293.3 404.6 293.7 406.1 294.0 407.5 294.4 409.0 294.8 410.4 295.2 411.9 295.6 413.3 296.0 414.8 296.3 416.2 296.7 417.7 297.1 419.1 297.4 420.6 297.8 422.1 298.2 423.5 298.5 425.0 298.9 426.4 299.2 427.9 299.5 429.4 299.9 430.8 300.2 432.3 300.5 433.8 300.9 435.2 301.2 436.7 301.5 438.2 301.8 439.6 302.1 441.1 302.4 442.6 302.7 444.0 303.0 445.5 303.3 447.0 303.6 448.4 303.9 449.9 304.2 451.4 304.5 452.9 304.8 454.3 305.1 455.8 305.4 457.3 305.6 458.8 305.9 460.2 306.2 461.7 306.4 463.2 306.7 464.7 306.9 466.1 307.2 467.6 307.5 469.1 307.7 470.6 308.0 472.1 308.2 473.5 308.4 475.0 308.7 476.5 308.9 478.0 309.1 479.5 309.4 480.9 309.6 482.4 309.8 483.9 310.1 485.4 310.3 486.9 310.5 488.4 310.7 489.8 310.9 491.3 311.1 492.8 311.3 494.3 311.5 495.8 311.7 497.3 311.9 498.8 312.1 500.3 312.3 501.7 312.5 503.2 312.7 504.7 312.9 506.2 313.1 507.7 313.3 509.2 313.5 510.7 313.6 512.2 313.8 513.7 314.0 515.2 314.2 516.6 314.3 518.1 314.5 519.6 314.7 521.1 314.8 522.6 315.0 524.1 315.1 525.6 315.3 527.1 315.5 528.6 315.6 530.1 315.8 531.6 315.9 533.1 316.1 534.6 316.2 536.1 316.3 537.6 316.5 539.1 316.6 540.6 316.8 542.1 316.9 543.6 317.0 545.1 317.2 546.6 317.3 548.1 317.4 549.6 317.6 551.0 317.7 552.5 317.8 554.0 317.9 555.5 318.1 557.0 318.2 558.5 318.3 560.0 318.4 561.5 318.5 563.0 318.6 564.6 318.7 566.1 318.9 567.6 319.0 569.1 319.1 570.6 319.2 572.1 319.3 573.6 319.4 575.1 319.5 576.6 319.6 578.1 319.7 579.6 319.8 581.1 319.9 582.6 320.0 584.1 320.1 585.6 320.2 587.1 320.3 588.6 320.4 590.1 320.5 591.6 320.5 593.1 320.6 594.6 320.7 596.1 320.8 597.6 320.9 599.1 321.0 600.6 321.1 602.1 321.2 603.6 321.2 605.1 321.3 606.7 321.4 608.2 321.5 609.7 321.6 611.2 321.6 612.7 321.7 614.2 321.8 615.7 321.9 617.2 321.9 618.7 322.0 620.2 322.1 621.7 322.2 623.2 322.2 624.7 322.3 626.2 322.4 627.7 322.5 629.2 322.5 630.7 322.6 632.3 322.7 633.8 322.7 635.3 322.8 636.8 322.9 638.3 323.0 639.8 323.0 641.3 323.1 642.8 323.2 644.3 323.2 645.8 323.3 647.3 323.4 648.8 323.4 650.3 323.5 651.8 323.6 653.3 323.6 654.8 323.7 656.4 323.8 657.9 323.8 659.4 323.9 660.9 324.0 662.4 324.0 663.9 324.1 665.4 324.2 666.9 324.2 668.4 324.3 669.9 324.4 671.4 324.4 672.9 324.5 674.4 324.6 675.9 324.6 677.4 324.7 678.9 324.8 680.4 324.8 681.9 324.9 683.4 325.0 685.0 325.1 686.5 325.1 688.0 325.2 689.5 325.3 691.0 325.3 692.5 325.4 694.0 325.5 695.5 325.6 697.0 325.6 698.5 325.7 700.0 325.8 701.5 325.8 703.0 325.9 704.5 326.0 706.0 326.1 707.5 326.2 709.0 326.2 710.5 326.3 712.0 326.4 713.5 326.5 715.0 326.5 716.5 326.6 718.0 326.7 719.5 326.8 721.0 326.9 722.5 327.0 724.0 327.0 725.5 327.1 727.0 327.2 728.5 327.3 730.0 327.4 731.5 327.5 733.0 327.6 734.5 327.7 736.0 327.8 737.5 327.8 739.0 327.9 740.5 328.0 742.0 328.1 743.5 328.2 745.0 328.3 746.5 328.4 748.0 328.5 749.5 328.6 751.0 328.7 752.5 328.8 754.0 328.9 755.5 329.0 757.0 329.1 758.5 329.2 760.0 329.3 761.5 329.5 763.0 329.6 764.5 329.7 766.0 329.8 767.5 329.9 769.0 330.0 770.5 330.1 772.0 330.3 773.5 330.4 775.0 330.5 776.5 330.6 778.0 330.7 779.5 330.9 781.0 331.0 782.5 331.1 783.9 331.2 785.4 331.4 786.9 331.5 788.4 331.6 789.9 331.8 791.4 331.9 792.9 332.0 794.4 332.2 795.9 332.3 797.4 332.5 798.9 332.6 800.4 332.8 801.9 332.9 803.4 333.1 804.9 333.2 806.4 333.4 807.8 333.5 809.3 333.7 810.8 333.8 812.3 334.0 813.8 334.1 815.3 334.3 816.8 334.5 818.3 334.6 819.8 334.8 821.3 335.0 822.8 335.1 824.3 335.3 825.7 335.5 827.2 335.7 828.7 335.8 830.2 336.0 831.7 336.2 833.2 336.4 834.7 336.6 836.2 336.8 837.7 337.0 839.2 337.1 840.6 337.3 842.1 337.5 843.6 337.7 845.1 337.9 846.6 338.1 848.1 338.3 849.6 338.6 851.1 338.8 852.5 339.0 854.0 339.2 855.5 339.4 857.0 339.6 858.5 339.8 860.0 340.1 861.5 340.3 863.0 340.5 864.4 340.7 865.9 341.0 867.4 341.2 868.9 341.4 870.4 341.7 871.9 341.9 873.4 342.2 874.8 342.4 876.3 342.7 877.8 342.9 879.3 343.2 880.8 343.4 882.3 343.7 883.7 344.0 885.2 344.2 886.7 344.5 888.2 344.8 889.7 345.0 891.1 345.3 892.6 345.6 894.1 345.9 895.6 346.2 897.0 346.5 898.5 346.8 900.0 347.0 901.5 347.3 902.9 347.6 904.4 348.0 905.9 348.3 907.4 348.6 908.8 348.9 910.3 349.2 911.8 349.5 913.2 349.9 914.7 350.2 916.2 350.5 917.6 350.9 919.1 351.2 920.6 351.6 922.0 351.9 923.5 352.3 924.9 352.6 926.4 353.0 927.8 353.3 929.3 353.7 930.8 354.1 932.2 354.5 933.7 354.8 935.1 355.2 936.6 355.6 938.0 356.0 939.5 356.4 940.9 356.8 942.4 357.2 943.8 357.6 945.2 358.0 946.7 358.5 948.1 358.9 949.6 359.3 951.0 359.8 952.4 360.2 953.9 360.6 955.3 361.1 956.7 361.5 958.2 362.0 959.6 362.4 961.0 362.9 962.5 363.4 963.9 363.9 965.3 364.3 966.7 364.8 968.1 365.3 969.6 365.8 971.0 366.3 972.4 366.8 973.8 367.3 975.2 367.8 976.6 368.4 978.0 368.9 979.4 369.4 980.8 370.0 982.2 370.5 983.6 371.1 985.0 371.6 986.4 372.2 987.8 372.7 989.2 373.3 990.6 373.9 992.0 374.5 993.4 375.0 994.8 375.6 996.1 376.2 997.5 376.8 998.9 377.4 1000.3 378.1 1001.7 378.7 1003.0 379.3 1004.4 379.9 1005.8 380.6 1007.1 381.2 1008.5 381.9 1009.9 382.5 1011.2 383.2 1012.6 383.9 1013.9 384.5 1015.3 385.2 1016.6 385.9 1018.0 386.6 1019.3 387.3 1020.7 388.0 1022.0 388.7 1023.3 389.4 1024.7 390.2 1026.0 390.9" stroke="#ff00ff" stroke-width="2.6" fill="none" stroke-linejoin="round"/>
<path d="M188.7 51.0L188.6 52.5 188.5 54.0 188.4 55.4 188.4 56.9 188.3 58.4 188.2 59.9 188.2 61.4 188.1 62.9 188.0 64.4 188.0 65.9 187.9 67.4 187.9 68.9 187.9 70.4 187.8 71.9 187.8 73.4 187.8 74.9 187.8 76.4 187.8 77.9 187.8 79.4 187.8 80.9 187.8 82.4 187.8 83.9 187.8 85.5 187.8 87.0 187.9 88.5 187.9 90.0 188.0 91.5 188.0 93.0 188.1 94.5 188.1 96.0 188.2 97.6 188.3 99.1 188.4 100.6 188.5 102.1 188.6 103.6 188.7 105.1 188.8 106.6 188.9 108.1 189.1 109.6 189.2 111.1 189.4 112.7 189.5 114.2 189.7 115.7 189.9 117.2 190.1 118.7 190.3 120.2 190.5 121.7 190.7 123.2 190.9 124.6 191.1 126.1 191.4 127.6 191.6 129.1 191.9 130.6 192.1 132.1 192.4 133.6 192.7 135.0 193.0 136.5 193.3 138.0 193.6 139.5 194.0 140.9 194.3 142.4 194.6 143.9 195.0 145.3 195.4 146.8 195.7 148.2 196.1 149.7 196.5 151.1 197.0 152.6 197.4 154.0 197.8 155.4 198.3 156.9 198.7 158.3 199.2 159.7 199.7 161.1 200.2 162.5 200.7 163.9 201.2 165.3 201.7 166.7 202.3 168.1 202.8 169.5 203.4 170.9 203.9 172.3 204.5 173.7 205.1 175.0 205.7 176.4 206.4 177.8 207.0 179.1 207.6 180.5 208.3 181.8 208.9 183.2 209.6 184.5 210.3 185.8 211.0 187.2 211.7 188.5 212.4 189.8 213.2 191.1 213.9 192.4 214.6 193.7 215.4 195.0 216.2 196.3 216.9 197.6 217.7 198.9 218.5 200.1 219.3 201.4 220.2 202.6 221.0 203.9 221.8 205.1 222.7 206.4 223.5 207.6 224.4 208.9 225.3 210.1 226.1 211.3 227.0 212.5 227.9 213.7 228.8 214.9 229.8 216.1 230.7 217.3 231.6 218.5 232.6 219.6 233.5 220.8 234.5 222.0 235.4 223.1 236.4 224.3 237.4 225.4 238.4 226.5 239.4 227.6 240.4 228.8 241.4 229.9 242.4 231.0 243.5 232.1 244.5 233.2 245.6 234.2 246.6 235.3 247.7 236.4 248.8 237.4 249.8 238.5 250.9 239.5 252.0 240.6 253.1 241.6 254.2 242.6 255.3 243.6 256.4 244.7 257.6 245.7 258.7 246.6 259.8 247.6 261.0 248.6 262.1 249.6 263.3 250.5 264.4 251.5 265.6 252.4 266.8 253.4 268.0 254.3 269.2 255.2 270.4 256.2 271.6 257.1 272.8 258.0 274.0 258.9 275.2 259.8 276.4 260.6 277.6 261.5 278.9 262.4 280.1 263.2 281.4 264.1 282.6 264.9 283.9 265.8 285.1 266.6 286.4 267.4 287.7 268.2 288.9 269.0 290.2 269.8 291.5 270.6 292.8 271.4 294.1 272.2 295.4 273.0 296.7 273.7 298.0 274.5 299.3 275.3 300.6 276.0 301.9 276.7 303.2 277.5 304.6 278.2 305.9 278.9 307.2 279.6 308.6 280.3 309.9 281.0 311.3 281.7 312.6 282.4 314.0 283.1 315.3 283.7 316.7 284.4 318.0 285.0 319.4 285.7 320.8 286.3 322.1 286.9 323.5 287.6 324.9 288.2 326.3 288.8 327.7 289.4 329.1 290.0 330.4 290.6 331.8 291.2 333.2 291.8 334.6 292.3 336.0 292.9 337.4 293.4 338.8 294.0 340.2 294.5 341.6 295.1 343.1 295.6 344.5 296.1 345.9 296.6 347.3 297.2 348.7 297.7 350.1 298.2 351.6 298.6 353.0 299.1 354.4 299.6 355.8 300.1 357.3 300.5 358.7 301.0 360.1 301.4 361.5 301.9 363.0 302.3 364.4 302.7 365.8 303.2 367.3 303.6 368.7 304.0 370.2 304.4 371.6 304.8 373.0 305.2 374.5 305.6 375.9 306.0 377.4 306.4 378.8 306.7 380.3 307.1 381.7 307.5 383.2 307.8 384.6 308.2 386.1 308.5 387.5 308.8 389.0 309.2 390.5 309.5 391.9 309.8 393.4 310.1 394.8 310.5 396.3 310.8 397.8 311.1 399.2 311.4 400.7 311.7 402.2 312.0 403.6 312.2 405.1 312.5 406.6 312.8 408.0 313.1 409.5 313.3 411.0 313.6 412.4 313.9 413.9 314.1 415.4 314.4 416.9 314.6 418.3 314.8 419.8 315.1 421.3 315.3 422.8 315.5 424.3 315.8 425.7 316.0 427.2 316.2 428.7 316.4 430.2 316.6 431.7 316.8 433.2 317.1 434.6 317.3 436.1 317.4 437.6 317.6 439.1 317.8 440.6 318.0 442.1 318.2 443.6 318.4 445.1 318.6 446.5 318.7 448.0 318.9 449.5 319.1 451.0 319.3 452.5 319.4 454.0 319.6 455.5 319.7 457.0 319.9 458.5 320.1 460.0 320.2 461.5 320.4 463.0 320.5 464.5 320.6 466.0 320.8 467.5 320.9 469.0 321.1 470.5 321.2 472.0 321.3 473.5 321.5 475.0 321.6 476.5 321.7 478.0 321.9 479.5 322.0 481.0 322.1 482.5 322.2 484.0 322.4 485.5 322.5 487.0 322.6 488.5 322.7 490.0 322.8 491.5 323.0 493.0 323.1 494.5 323.2 496.0 323.3 497.5 323.4 499.0 323.5 500.5 323.6 502.0 323.7 503.6 323.9 505.1 324.0 506.6 324.1 508.1 324.2 509.6 324.3 511.1 324.4 512.6 324.5 514.1 324.6 515.6 324.7 517.1 324.8 518.6 324.9 520.1 325.0 521.6 325.1 523.1 325.2 524.6 325.4 526.2 325.5 527.7 325.6 529.2 325.7 530.7 325.8 532.2 325.9 533.7 326.0 535.2 326.1 536.7 326.2 538.2 326.3 539.7 326.4 541.2 326.6 542.7 326.7 544.2 326.8 545.7 326.9 547.2 327.0 548.7 327.1 550.2 327.3 551.7 327.4 553.2 327.5 554.8 327.6 556.3 327.8 557.8 327.9 559.3 328.0 560.8 328.2 562.3 328.3 563.8 328.4 565.3 328.6 566.8 328.7 568.3 328.9 569.8 329.0 571.3 329.1 572.8 329.3 574.3 329.4 575.8 329.6 577.3 329.8 578.8 329.9 580.2 330.1 581.7 330.2 583.2 330.4 584.7 330.6 586.2 330.7 587.7 330.9 589.2 331.1 590.7 331.3 592.2 331.5 593.7 331.7 595.2 331.8 596.7 332.0 598.2 332.2 599.7 332.4 601.1 332.6 602.6 332.9 604.1 333.1 605.6 333.3 607.1 333.5 608.6 333.7 610.1 333.9 611.5 334.2 613.0 334.4 614.5 334.7 616.0 334.9 617.5 335.1 618.9 335.4 620.4 335.7 621.9 335.9 623.4 336.2 624.8 336.4 626.3 336.7 627.8 337.0 629.3 337.3 630.7 337.6 632.2 337.9 633.7 338.2 635.1 338.5 636.6 338.8 638.1 339.1 639.5 339.4 641.0 339.7 642.5 340.1 643.9 340.4 645.4 340.7 646.9 341.1 648.3 341.4 649.8 341.8 651.2 342.1 652.7 342.5 654.1 342.9 655.6 343.3 657.0 343.6 658.5 344.0 659.9 344.4 661.4 344.8 662.8 345.3 664.3 345.7 665.7 346.1 667.1 346.5 668.6 347.0 670.0 347.4 671.4 347.9 672.8 348.3 674.3 348.8 675.7 349.3 677.1 349.7 678.5 350.2 679.9 350.7 681.3 351.2 682.7 351.7 684.1 352.2 685.5 352.8 686.9 353.3 688.3 353.8 689.7 354.4 691.1 354.9 692.5 355.5 693.9 356.1 695.2 356.6 696.6 357.2 698.0 357.8 699.4 358.4 700.7 359.0 702.1 359.7 703.4 360.3 704.8 360.9 706.1 361.6 707.5 362.2 708.8 362.9 710.1 363.6 711.5 364.2 712.8 364.9 714.1 365.6 715.4 366.3 716.7 367.0 718.0 367.7 719.4 368.5 720.7 369.2 722.0 369.9 723.3 370.7 724.6 371.4 725.9 372.2 727.2 372.9 728.4 373.7 729.7 374.4 731.0 375.2 732.3 376.0 733.6 376.8 734.9 377.5 736.2 378.3 737.4 379.1 738.7 379.9 740.0 380.7 741.3 381.5 742.5 382.3 743.8 383.1 745.1 383.9 746.4 384.7 747.6 385.5 748.9 386.3 750.2 387.1 751.5 387.9 752.7 388.8 754.0 389.6 755.3 390.4 756.6 391.2 757.8 392.0 759.1 392.8 760.4 393.6 761.7 394.4 763.0 395.2 764.2 396.0 765.5 396.8 766.8 397.6 768.1 398.4 769.4 399.2 770.7 400.0 771.9 400.8 773.2 401.6 774.5 402.4 775.8 403.2 777.1 404.0 778.4 404.7 779.7 405.5 781.0 406.3 782.3 407.1 783.6 407.9 784.9 408.6 786.2 409.4 787.5 410.2 788.8 410.9 790.1 411.7 791.4 412.4 792.7 413.2 794.0 414.0 795.3 414.7 796.7 415.5 798.0 416.2 799.3 416.9 800.6 417.7 801.9 418.4 803.2 419.2 804.6 419.9 805.9 420.6 807.2 421.3 808.5 422.0 809.9 422.8 811.2 423.5 812.5 424.2 813.9 424.9 815.2 425.6 816.5 426.3 817.9 427.0 819.2 427.7 820.6 428.4 821.9 429.0 823.2 429.7 824.6 430.4 825.9 431.1 827.3 431.7 828.6 432.4 830.0 433.0 831.3 433.7 832.7 434.3 834.1 435.0 835.4 435.6 836.8 436.3 838.1 436.9 839.5 437.5 840.9 438.1 842.2 438.7 843.6 439.3 845.0 440.0 846.4 440.6 847.7 441.1 849.1 441.7 850.5 442.3 851.9 442.9 853.3 443.5 854.6 444.0 856.0 444.6 857.4 445.2 858.8 445.7 860.2 446.3 861.6 446.8 863.0 447.3 864.4 447.9 865.8 448.4 867.2 448.9 868.6 449.4 870.0 449.9 871.4 450.4 872.8 450.9 874.3 451.4 875.7 451.9 877.1 452.4 878.5 452.8 879.9 453.3 881.4 453.7 882.8 454.2 884.2 454.6 885.6 455.1 887.1 455.5 888.5 455.9 890.0 456.3 891.4 456.7 892.8 457.1 894.3 457.5 895.7 457.9 897.2 458.3 898.6 458.7 900.1 459.1 901.5 459.4 903.0 459.8 904.4 460.2 905.9 460.5 907.4 460.9 908.8 461.2 910.3 461.5 911.7 461.9 913.2 462.2 914.7 462.5 916.1 462.9 917.6 463.2 919.1 463.5 920.6 463.8 922.0 464.1 923.5 464.4 925.0 464.7 926.5 465.0 927.9 465.3 929.4 465.6 930.9 465.9 932.4 466.2 933.9 466.4 935.3 466.7 936.8 467.0 938.3 467.3 939.8 467.5 941.3 467.8 942.8 468.1 944.2 468.3 945.7 468.6 947.2 468.9 948.7 469.1 950.2 469.4 951.7 469.7 953.2 469.9 954.7 470.2 956.1 470.5 957.6 470.7 959.1 471.0 960.6 471.2 962.1 471.5 963.6 471.8 965.1 472.0 966.6 472.3 968.0 472.5 969.5 472.8 971.0 473.1 972.5 473.3 974.0 473.6 975.5 473.8 977.0 474.1 978.4 474.4 979.9 474.7 981.4 474.9 982.9 475.2 984.4 475.5 985.9 475.7 987.3 476.0 988.8 476.3 990.3 476.6 991.8 476.9 993.2 477.2 994.7 477.5 996.2 477.8 997.7 478.1 999.1 478.4 1000.6 478.7 1002.1 479.0 1003.6 479.3 1005.0 479.6 1006.5 479.9 1007.9 480.2 1009.4 480.6 1010.9 480.9 1012.3 481.2 1013.8 481.6 1015.2 481.9 1016.7 482.3 1018.2 482.6 1019.6 483.0 1021.1 483.4 1022.5 483.7 1024.0 484.1 1025.4 484.5" stroke="#808000" stroke-width="2.6" fill="none" stroke-linejoin="round"/>
<path d="M188.7 63.0L188.6 64.5 188.5 66.0 188.4 67.5 188.3 68.9 188.2 70.4 188.2 71.9 188.1 73.4 188.0 74.9 187.9 76.4 187.9 77.9 187.8 79.4 187.8 80.9 187.7 82.4 187.7 83.9 187.6 85.4 187.6 86.9 187.6 88.4 187.6 90.0 187.6 91.5 187.5 93.0 187.5 94.5 187.5 96.0 187.5 97.5 187.6 99.0 187.6 100.5 187.6 102.0 187.6 103.5 187.7 105.0 187.7 106.5 187.8 108.1 187.8 109.6 187.9 111.1 188.0 112.6 188.1 114.1 188.1 115.6 188.2 117.1 188.3 118.6 188.4 120.1 188.6 121.6 188.7 123.1 188.8 124.6 188.9 126.1 189.1 127.6 189.2 129.1 189.4 130.6 189.6 132.1 189.7 133.6 189.9 135.1 190.1 136.6 190.3 138.1 190.5 139.6 190.7 141.1 191.0 142.6 191.2 144.1 191.5 145.5 191.7 147.0 192.0 148.5 192.2 150.0 192.5 151.5 192.8 152.9 193.1 154.4 193.4 155.9 193.7 157.3 194.0 158.8 194.4 160.3 194.7 161.7 195.1 163.2 195.4 164.6 195.8 166.1 196.2 167.5 196.6 169.0 197.0 170.4 197.4 171.8 197.8 173.3 198.3 174.7 198.7 176.1 199.2 177.5 199.6 179.0 200.1 180.4 200.6 181.8 201.1 183.2 201.6 184.6 202.1 186.0 202.6 187.4 203.2 188.8 203.7 190.2 204.3 191.6 204.9 192.9 205.4 194.3 206.0 195.7 206.6 197.1 207.2 198.4 207.9 199.8 208.5 201.1 209.1 202.5 209.8 203.8 210.5 205.2 211.1 206.5 211.8 207.9 212.5 209.2 213.2 210.5 213.9 211.8 214.6 213.2 215.3 214.5 216.1 215.8 216.8 217.1 217.6 218.4 218.3 219.7 219.1 221.0 219.9 222.2 220.7 223.5 221.5 224.8 222.3 226.1 223.1 227.3 223.9 228.6 224.8 229.8 225.6 231.1 226.5 232.3 227.3 233.6 228.2 234.8 229.1 236.0 229.9 237.2 230.8 238.5 231.7 239.7 232.6 240.9 233.6 242.1 234.5 243.3 235.4 244.5 236.3 245.6 237.3 246.8 238.2 248.0 239.2 249.2 240.2 250.3 241.1 251.5 242.1 252.6 243.1 253.8 244.1 254.9 245.1 256.0 246.1 257.2 247.1 258.3 248.2 259.4 249.2 260.5 250.2 261.6 251.3 262.7 252.3 263.8 253.4 264.9 254.5 266.0 255.5 267.0 256.6 268.1 257.7 269.1 258.8 270.2 259.9 271.2 261.0 272.2 262.1 273.3 263.3 274.3 264.4 275.3 265.5 276.3 266.7 277.3 267.8 278.2 269.0 279.2 270.1 280.2 271.3 281.1 272.5 282.1 273.6 283.0 274.8 283.9 276.0 284.8 277.2 285.8 278.4 286.6 279.6 287.5 280.8 288.4 282.1 289.3 283.3 290.1 284.5 291.0 285.8 291.8 287.0 292.6 288.3 293.4 289.5 294.2 290.8 295.0 292.1 295.8 293.4 296.6 294.7 297.3 295.9 298.1 297.2 298.8 298.5 299.5 299.9 300.2 301.2 300.9 302.5 301.6 303.8 302.3 305.1 302.9 306.5 303.6 307.8 304.2 309.2 304.8 310.5 305.4 311.9 306.0 313.3 306.6 314.6 307.1 316.0 307.7 317.4 308.2 318.8 308.8 320.2 309.3 321.6 309.8 323.0 310.2 324.4 310.7 325.8 311.2 327.2 311.6 328.7 312.0 330.1 312.5 331.5 312.9 333.0 313.3 334.4 313.6 335.8 314.0 337.3 314.4 338.7 314.7 340.2 315.1 341.7 315.4 343.1 315.7 344.6 316.0 346.1 316.3 347.5 316.6 349.0 316.9 350.5 317.2 352.0 317.5 353.5 317.7 355.0 318.0 356.4 318.2 357.9 318.5 359.4 318.7 360.9 318.9 362.4 319.2 363.9 319.4 365.4 319.6 366.9 319.8 368.4 320.0 369.9 320.2 371.4 320.4 373.0 320.6 374.5 320.8 376.0 320.9 377.5 321.1 379.0 321.3 380.5 321.5 382.0 321.6 383.5 321.8 385.0 322.0 386.5 322.1 388.0 322.3 389.5 322.5 391.1 322.6 392.6 322.8 394.1 322.9 395.6 323.1 397.1 323.3 398.6 323.4 400.1 323.6 401.6 323.7 403.1 323.9 404.6 324.1 406.1 324.2 407.6 324.4 409.1 324.6 410.5 324.7 412.0 324.9 413.5 325.1 415.0 325.3 416.5 325.4 418.0 325.6 419.5 325.8 421.0 326.0 422.4 326.1 423.9 326.3 425.4 326.5 426.9 326.7 428.4 326.9 429.9 327.1 431.4 327.3 432.8 327.4 434.3 327.6 435.8 327.8 437.3 328.0 438.8 328.2 440.3 328.4 441.7 328.6 443.2 328.8 444.7 329.0 446.2 329.2 447.7 329.4 449.2 329.7 450.7 329.9 452.2 330.1 453.6 330.3 455.1 330.5 456.6 330.7 458.1 330.9 459.6 331.2 461.1 331.4 462.6 331.6 464.1 331.8 465.6 332.1 467.1 332.3 468.6 332.6 470.1 332.8 471.6 333.0 473.1 333.3 474.6 333.5 476.1 333.8 477.6 334.1 479.1 334.3 480.6 334.6 482.1 334.9 483.6 335.2 485.1 335.4 486.6 335.7 488.1 336.0 489.6 336.3 491.1 336.7 492.6 337.0 494.0 337.3 495.5 337.6 497.0 338.0 498.5 338.3 499.9 338.7 501.4 339.1 502.9 339.5 504.3 339.8 505.8 340.2 507.2 340.6 508.7 341.1 510.1 341.5 511.5 341.9 513.0 342.4 514.4 342.8 515.8 343.3 517.2 343.8 518.7 344.3 520.1 344.8 521.5 345.3 522.8 345.8 524.2 346.4 525.6 346.9 527.0 347.5 528.3 348.1 529.7 348.7 531.1 349.3 532.4 349.9 533.7 350.6 535.1 351.2 536.4 351.9 537.7 352.6 539.0 353.3 540.3 354.0 541.6 354.7 542.9 355.4 544.1 356.2 545.4 356.9 546.7 357.7 547.9 358.5 549.2 359.3 550.4 360.1 551.6 360.9 552.9 361.8 554.1 362.6 555.3 363.5 556.5 364.4 557.7 365.3 558.9 366.2 560.0 367.1 561.2 368.0 562.4 368.9 563.5 369.8 564.7 370.8 565.9 371.7 567.0 372.7 568.2 373.7 569.3 374.6 570.4 375.6 571.6 376.6 572.7 377.6 573.8 378.6 575.0 379.5 576.1 380.5 577.2 381.5 578.4 382.5 579.5 383.5 580.6 384.5 581.7 385.5 582.9 386.5 584.0 387.5 585.1 388.6 586.2 389.6 587.4 390.5 588.5 391.5 589.6 392.5 590.8 393.5 591.9 394.5 593.1 395.5 594.2 396.5 595.4 397.5 596.5 398.4 597.6 399.4 598.8 400.4 600.0 401.3 601.1 402.3 602.3 403.3 603.4 404.2 604.6 405.2 605.8 406.1 606.9 407.1 608.1 408.0 609.3 409.0 610.5 409.9 611.6 410.8 612.8 411.8 614.0 412.7 615.2 413.6 616.4 414.5 617.6 415.5 618.8 416.4 619.9 417.3 621.1 418.2 622.3 419.1 623.5 420.0 624.8 420.9 626.0 421.8 627.2 422.7 628.4 423.6 629.6 424.4 630.8 425.3 632.0 426.2 633.3 427.1 634.5 427.9 635.7 428.8 636.9 429.7 638.2 430.5 639.4 431.4 640.7 432.2 641.9 433.1 643.1 433.9 644.4 434.7 645.6 435.6 646.9 436.4 648.2 437.2 649.4 438.0 650.7 438.9 651.9 439.7 653.2 440.5 654.5 441.3 655.7 442.1 657.0 442.9 658.3 443.6 659.6 444.4 660.9 445.2 662.1 446.0 663.4 446.7 664.7 447.5 666.0 448.3 667.3 449.0 668.6 449.8 669.9 450.5 671.2 451.2 672.5 452.0 673.9 452.7 675.2 453.4 676.5 454.1 677.8 454.8 679.1 455.5 680.5 456.2 681.8 456.9 683.1 457.6 684.5 458.3 685.8 458.9 687.1 459.6 688.5 460.3 689.8 460.9 691.2 461.6 692.5 462.2 693.9 462.8 695.2 463.5 696.6 464.1 698.0 464.7 699.3 465.3 700.7 465.9 702.1 466.5 703.5 467.1 704.9 467.7 706.2 468.2 707.6 468.8 709.0 469.4 710.4 469.9 711.8 470.5 713.2 471.0 714.6 471.6 716.0 472.1 717.4 472.7 718.8 473.2 720.2 473.7 721.6 474.3 723.0 474.8 724.4 475.3 725.8 475.8 727.2 476.4 728.6 476.9 730.0 477.4 731.5 477.9 732.9 478.4 734.3 478.9 735.7 479.4 737.1 479.9 738.5 480.4 739.9 480.9 741.4 481.4 742.8 482.0 744.2 482.5 745.6 483.0 747.0 483.5 748.4 484.0 749.9 484.5 751.3 485.0 752.7 485.5 754.1 486.0 755.5 486.5 756.9 487.0 758.4 487.6 759.8 488.1 761.2 488.6 762.6 489.1 764.0 489.6 765.4 490.1 766.8 490.7 768.2 491.2 769.7 491.7 771.1 492.2 772.5 492.8 773.9 493.3 775.3 493.8 776.7 494.3 778.1 494.9 779.5 495.4 780.9 495.9 782.3 496.4 783.8 497.0 785.2 497.5 786.6 498.0 788.0 498.5 789.4 499.1 790.8 499.6 792.2 500.1 793.6 500.6 795.0 501.2 796.5 501.7 797.9 502.2 799.3 502.7 800.7 503.2 802.1 503.7 803.5 504.3 804.9 504.8 806.3 505.3 807.8 505.8 809.2 506.3 810.6 506.8 812.0 507.3 813.4 507.8 814.8 508.3 816.2 508.8 817.7 509.3 819.1 509.8 820.5 510.3 821.9 510.8 823.3 511.3 824.8 511.8 826.2 512.2 827.6 512.7 829.0 513.2 830.4 513.7 831.9 514.1 833.3 514.6 834.7 515.1 836.2 515.5 837.6 516.0 839.0 516.5 840.4 516.9 841.9 517.4 843.3 517.8 844.7 518.2 846.2 518.7 847.6 519.1 849.0 519.5 850.5 520.0 851.9 520.4 853.4 520.8 854.8 521.2 856.2 521.6 857.7 522.0 859.1 522.4 860.6 522.8 862.0 523.2 863.5 523.6 864.9 524.0 866.4 524.4 867.8 524.7 869.3 525.1 870.7 525.5 872.2 525.8 873.6 526.2 875.1 526.5 876.6 526.9 878.0 527.2 879.5 527.6 880.9 527.9 882.4 528.2 883.9 528.6 885.3 528.9 886.8 529.2 888.3 529.5 889.7 529.8 891.2 530.2 892.7 530.5 894.2 530.8 895.6 531.1 897.1 531.4 898.6 531.7 900.1 531.9 901.5 532.2 903.0 532.5 904.5 532.8 906.0 533.1 907.4 533.3 908.9 533.6 910.4 533.9 911.9 534.1 913.4 534.4 914.8 534.7 916.3 534.9 917.8 535.2 919.3 535.4 920.8 535.7 922.3 535.9 923.8 536.2 925.2 536.4 926.7 536.6 928.2 536.9 929.7 537.1 931.2 537.3 932.7 537.6 934.2 537.8 935.7 538.0 937.2 538.2 938.6 538.5 940.1 538.7 941.6 538.9 943.1 539.1 944.6 539.3 946.1 539.5 947.6 539.7 949.1 539.9 950.6 540.1 952.1 540.3 953.6 540.5 955.1 540.7 956.6 540.9 958.1 541.1 959.6 541.3 961.0 541.5 962.5 541.7 964.0 541.9 965.5 542.1 967.0 542.3 968.5 542.5 970.0 542.6 971.5 542.8 973.0 543.0 974.5 543.2 976.0 543.4 977.5 543.6 979.0 543.7 980.5 543.9 982.0 544.1 983.5 544.3 985.0 544.4 986.5 544.6 988.0 544.8 989.5 545.0 990.9 545.1 992.4 545.3 993.9 545.5 995.4 545.7 996.9 545.8 998.4 546.0 999.9 546.2 1001.4 546.4 1002.9 546.5 1004.4 546.7 1005.9 546.9 1007.4 547.0 1008.9 547.2 1010.3 547.4 1011.8 547.6 1013.3 547.7 1014.8 547.9 1016.3 548.1 1017.8 548.3 1019.3 548.4 1020.8 548.6 1022.2 548.8 1023.7 548.9 1025.2 549.1 1026.7 549.3" stroke="#800000" stroke-width="2.6" fill="none" stroke-linejoin="round"/>
<path d="M188.7 84.0L188.8 85.5 188.9 86.9 189.0 88.4 189.0 89.9 189.1 91.4 189.1 92.8 189.2 94.3 189.2 95.8 189.2 97.3 189.2 98.8 189.3 100.3 189.3 101.8 189.3 103.3 189.3 104.8 189.2 106.3 189.2 107.8 189.2 109.3 189.2 110.8 189.2 112.3 189.1 113.8 189.1 115.4 189.1 116.9 189.0 118.4 189.0 119.9 188.9 121.4 188.9 123.0 188.9 124.5 188.8 126.0 188.8 127.5 188.7 129.0 188.7 130.6 188.7 132.1 188.6 133.6 188.6 135.1 188.6 136.7 188.6 138.2 188.5 139.7 188.5 141.2 188.5 142.7 188.5 144.3 188.5 145.8 188.5 147.3 188.5 148.8 188.5 150.3 188.5 151.9 188.6 153.4 188.6 154.9 188.6 156.4 188.7 157.9 188.7 159.4 188.8 160.9 188.9 162.4 189.0 163.9 189.1 165.4 189.2 166.9 189.3 168.4 189.4 169.9 189.6 171.4 189.7 172.8 189.9 174.3 190.1 175.8 190.3 177.3 190.5 178.7 190.7 180.2 191.0 181.7 191.2 183.1 191.5 184.6 191.7 186.0 192.0 187.5 192.3 188.9 192.6 190.4 193.0 191.8 193.3 193.3 193.6 194.7 194.0 196.1 194.4 197.6 194.7 199.0 195.1 200.4 195.5 201.9 195.9 203.3 196.3 204.7 196.7 206.1 197.1 207.6 197.5 209.0 197.9 210.4 198.3 211.9 198.7 213.3 199.1 214.7 199.6 216.1 200.0 217.6 200.4 219.0 200.8 220.4 201.3 221.9 201.7 223.3 202.1 224.8 202.5 226.2 203.0 227.6 203.4 229.1 203.8 230.5 204.2 232.0 204.7 233.4 205.1 234.9 205.5 236.3 206.0 237.8 206.4 239.2 206.8 240.7 207.3 242.1 207.7 243.6 208.2 245.0 208.6 246.5 209.1 247.9 209.6 249.4 210.0 250.8 210.5 252.3 211.0 253.7 211.4 255.2 211.9 256.6 212.4 258.0 212.9 259.5 213.4 260.9 213.9 262.4 214.5 263.8 215.0 265.2 215.5 266.7 216.0 268.1 216.6 269.5 217.1 271.0 217.7 272.4 218.3 273.8 218.8 275.2 219.4 276.7 220.0 278.1 220.6 279.5 221.2 280.9 221.9 282.3 222.5 283.7 223.1 285.1 223.8 286.5 224.5 287.9 225.1 289.2 225.9 290.6 226.6 291.9 227.3 293.2 228.1 294.5 228.8 295.8 229.6 297.1 230.4 298.3 231.3 299.5 232.2 300.7 233.0 301.9 234.0 303.0 234.9 304.1 235.9 305.1 236.9 306.2 237.9 307.2 238.9 308.1 240.0 309.0 241.1 309.9 242.3 310.8 243.4 311.6 244.6 312.5 245.8 313.2 247.0 314.0 248.3 314.7 249.5 315.4 250.8 316.1 252.1 316.8 253.4 317.4 254.8 318.0 256.1 318.7 257.5 319.2 258.9 319.8 260.2 320.4 261.7 320.9 263.1 321.4 264.5 321.9 265.9 322.4 267.4 322.9 268.9 323.4 270.3 323.8 271.8 324.3 273.3 324.7 274.8 325.2 276.2 325.6 277.7 326.0 279.2 326.5 280.7 326.9 282.2 327.3 283.7 327.7 285.2 328.1 286.7 328.6 288.2 329.0 289.7 329.4 291.2 329.8 292.7 330.3 294.2 330.7 295.7 331.2 297.2 331.6 298.6 332.1 300.1 332.5 301.5 333.0 303.0 333.5 304.4 334.0 305.8 334.5 307.2 335.1 308.6 335.6 310.0 336.2 311.4 336.8 312.7 337.4 314.1 338.0 315.4 338.6 316.7 339.3 318.0 340.0 319.2 340.7 320.5 341.4 321.7 342.2 322.9 342.9 324.1 343.7 325.2 344.6 326.4 345.4 327.5 346.3 328.6 347.2 329.7 348.1 330.7 349.1 331.8 350.1 332.8 351.0 333.8 352.0 334.8 353.1 335.8 354.1 336.7 355.2 337.7 356.3 338.6 357.4 339.5 358.5 340.4 359.6 341.3 360.8 342.2 362.0 343.1 363.2 343.9 364.3 344.8 365.6 345.6 366.8 346.4 368.0 347.2 369.3 348.0 370.5 348.8 371.8 349.6 373.1 350.4 374.4 351.2 375.7 351.9 377.0 352.7 378.3 353.4 379.7 354.2 381.0 354.9 382.4 355.6 383.7 356.4 385.1 357.1 386.4 357.8 387.8 358.5 389.2 359.2 390.6 359.9 391.9 360.6 393.3 361.3 394.7 362.1 396.1 362.8 397.5 363.5 398.9 364.2 400.3 364.9 401.7 365.6 403.1 366.3 404.4 367.0 405.8 367.7 407.2 368.4 408.6 369.2 410.0 369.9 411.3 370.6 412.7 371.4 414.1 372.1 415.4 372.8 416.8 373.6 418.1 374.4 419.4 375.1 420.8 375.9 422.1 376.7 423.4 377.5 424.7 378.3 426.0 379.1 427.3 379.9 428.5 380.8 429.8 381.6 431.0 382.4 432.3 383.3 433.5 384.2 434.7 385.1 435.9 385.9 437.1 386.8 438.3 387.7 439.5 388.7 440.6 389.6 441.8 390.5 443.0 391.4 444.1 392.4 445.2 393.3 446.4 394.3 447.5 395.2 448.6 396.2 449.7 397.2 450.8 398.2 451.9 399.2 453.0 400.2 454.1 401.2 455.2 402.2 456.3 403.2 457.3 404.2 458.4 405.2 459.5 406.2 460.5 407.3 461.6 408.3 462.6 409.3 463.7 410.4 464.7 411.4 465.8 412.5 466.8 413.5 467.9 414.6 468.9 415.7 469.9 416.7 471.0 417.8 472.0 418.9 473.0 419.9 474.1 421.0 475.1 422.1 476.1 423.2 477.2 424.2 478.2 425.3 479.2 426.4 480.3 427.5 481.3 428.6 482.3 429.7 483.4 430.8 484.4 431.8 485.4 432.9 486.5 434.0 487.5 435.1 488.5 436.2 489.6 437.3 490.6 438.4 491.6 439.5 492.7 440.6 493.7 441.7 494.7 442.9 495.7 444.0 496.8 445.1 497.8 446.2 498.8 447.3 499.8 448.4 500.8 449.6 501.8 450.7 502.8 451.8 503.8 453.0 504.8 454.1 505.8 455.3 506.8 456.4 507.8 457.6 508.8 458.7 509.8 459.9 510.7 461.0 511.7 462.2 512.7 463.4 513.6 464.6 514.6 465.7 515.5 466.9 516.5 468.1 517.4 469.3 518.3 470.5 519.2 471.7 520.2 472.9 521.1 474.1 522.0 475.3 522.9 476.5 523.7 477.8 524.6 479.0 525.5 480.2 526.4 481.5 527.2 482.7 528.1 483.9 528.9 485.2 529.8 486.4 530.6 487.7 531.5 489.0 532.3 490.2 533.1 491.5 533.9 492.8 534.7 494.0 535.5 495.3 536.3 496.6 537.1 497.9 537.9 499.2 538.6 500.5 539.4 501.8 540.2 503.1 540.9 504.4 541.7 505.7 542.4 507.0 543.1 508.3 543.9 509.6 544.6 510.9 545.3 512.2 546.0 513.6 546.7 514.9 547.4 516.2 548.1 517.6 548.7 518.9 549.4 520.3 550.1 521.6 550.7 523.0 551.4 524.3 552.0 525.7 552.6 527.0 553.3 528.4 553.9 529.8 554.5 531.1 555.1 532.5 555.7 533.9 556.3 535.2 556.9 536.6 557.4 538.0 558.0 539.4 558.6 540.8 559.1 542.2 559.7 543.6 560.2 545.0 560.7 546.4 561.3 547.8 561.8 549.2 562.3 550.6 562.8 552.0 563.3 553.4 563.8 554.8 564.2 556.2 564.7 557.6 565.2 559.1 565.6 560.5 566.1 561.9 566.5 563.3 567.0 564.8 567.4 566.2 567.8 567.6 568.2 569.1 568.6 570.5 569.0 572.0 569.4 573.4 569.8 574.9 570.1 576.3 570.5 577.8 570.8 579.2 571.2 580.7 571.5 582.1 571.8 583.6 572.2 585.0 572.5 586.5 572.8 588.0 573.1 589.4 573.4 590.9 573.7 592.4 573.9 593.8 574.2 595.3 574.4 596.8 574.7 598.3 574.9 599.7 575.2 601.2 575.4 602.7 575.6 604.2 575.8 605.7 576.0 607.1 576.2 608.6 576.4 610.1 576.6 611.6 576.8 613.1 577.0 614.6 577.1 616.1 577.3 617.6 577.4 619.1 577.6 620.6 577.7 622.1 577.9 623.6 578.0 625.1 578.1 626.6 578.3 628.1 578.4 629.6 578.5 631.1 578.6 632.6 578.7 634.1 578.8 635.6 578.9 637.1 579.0 638.6 579.1 640.1 579.1 641.6 579.2 643.1 579.3 644.6 579.4 646.1 579.4 647.6 579.5 649.1 579.6 650.7 579.6 652.2 579.7 653.7 579.7 655.2 579.8 656.7 579.8 658.2 579.9 659.7 579.9 661.3 579.9 662.8 580.0 664.3 580.0 665.8 580.0 667.3 580.1 668.8 580.1 670.3 580.1 671.9 580.2 673.4 580.2 674.9 580.2 676.4 580.2 677.9 580.3 679.4 580.3 680.9 580.3 682.5 580.3 684.0 580.3 685.5 580.4 687.0 580.4 688.5 580.4 690.0 580.4 691.5 580.4 693.1 580.5 694.6 580.5 696.1 580.5 697.6 580.5 699.1 580.5 700.6 580.6 702.1 580.6 703.6 580.6 705.1 580.6 706.6 580.7 708.2 580.7 709.7 580.7 711.2 580.8 712.7 580.8 714.2 580.8 715.7 580.9 717.2 580.9 718.7 581.0 720.2 581.0 721.7 581.1 723.2 581.1 724.7 581.1 726.2 581.2 727.7 581.2 729.2 581.3 730.7 581.3 732.2 581.4 733.7 581.4 735.2 581.5 736.7 581.6 738.2 581.6 739.7 581.7 741.2 581.7 742.7 581.8 744.2 581.8 745.6 581.9 747.1 581.9 748.6 582.0 750.1 582.1 751.6 582.1 753.1 582.2 754.6 582.2 756.1 582.3 757.6 582.4 759.1 582.4 760.6 582.5 762.1 582.5 763.6 582.6 765.1 582.7 766.6 582.7 768.1 582.8 769.5 582.8 771.0 582.9 772.5 583.0 774.0 583.0 775.5 583.1 777.0 583.1 778.5 583.2 780.0 583.3 781.5 583.3 783.0 583.4 784.5 583.4 786.0 583.5 787.5 583.5 789.0 583.6 790.5 583.7 792.0 583.7 793.5 583.8 795.0 583.8 796.4 583.9 797.9 583.9 799.4 584.0 800.9 584.0 802.4 584.1 803.9 584.1 805.4 584.1 806.9 584.2 808.4 584.2 809.9 584.3 811.4 584.3 812.9 584.4 814.4 584.4 815.9 584.5 817.4 584.5 818.9 584.5 820.4 584.6 821.9 584.6 823.4 584.7 824.9 584.7 826.4 584.7 827.9 584.8 829.4 584.8 830.9 584.8 832.4 584.9 833.9 584.9 835.4 584.9 836.9 585.0 838.4 585.0 839.9 585.0 841.4 585.1 842.9 585.1 844.4 585.1 845.9 585.2 847.4 585.2 848.9 585.2 850.4 585.2 852.0 585.3 853.5 585.3 855.0 585.3 856.5 585.4 858.0 585.4 859.5 585.4 861.0 585.4 862.5 585.5 864.0 585.5 865.5 585.5 867.0 585.5 868.5 585.6 870.0 585.6 871.5 585.6 873.0 585.6 874.5 585.6 876.0 585.7 877.5 585.7 879.0 585.7 880.5 585.7 882.0 585.8 883.5 585.8 885.0 585.8 886.6 585.8 888.1 585.8 889.6 585.8 891.1 585.9 892.6 585.9 894.1 585.9 895.6 585.9 897.1 585.9 898.6 586.0 900.1 586.0 901.6 586.0 903.1 586.0 904.6 586.0 906.1 586.0 907.6 586.1 909.1 586.1 910.6 586.1 912.1 586.1 913.7 586.1 915.2 586.1 916.7 586.1 918.2 586.2 919.7 586.2 921.2 586.2 922.7 586.2 924.2 586.2 925.7 586.2 927.2 586.3 928.7 586.3 930.2 586.3 931.7 586.3 933.2 586.3 934.7 586.3 936.2 586.3 937.7 586.4 939.2 586.4 940.7 586.4 942.3 586.4 943.8 586.4 945.3 586.4 946.8 586.4 948.3 586.4 949.8 586.5 951.3 586.5 952.8 586.5 954.3 586.5 955.8 586.5 957.3 586.5 958.8 586.5 960.3 586.6 961.8 586.6 963.3 586.6 964.8 586.6 966.3 586.6 967.8 586.6 969.3 586.7 970.8 586.7 972.3 586.7 973.8 586.7 975.3 586.7 976.8 586.7 978.3 586.7 979.8 586.8 981.3 586.8 982.8 586.8 984.3 586.8 985.8 586.8 987.3 586.8 988.8 586.9 990.3 586.9 991.8 586.9 993.3 586.9 994.8 586.9 996.3 587.0 997.8 587.0 999.3 587.0 1000.8 587.0 1002.3 587.0 1003.8 587.1 1005.3 587.1 1006.8 587.1 1008.3 587.1 1009.8 587.1 1011.3 587.2 1012.8 587.2 1014.3 587.2 1015.8 587.2 1017.3 587.3 1018.8 587.3 1020.3 587.3 1021.8 587.3 1023.3 587.3 1024.8 587.4 1026.3 587.4" stroke="#008000" stroke-width="2.6" fill="none" stroke-linejoin="round"/>
<path d="M188.7 117.0L188.5 118.5 188.4 120.1 188.2 121.6 188.1 123.1 188.0 124.6 187.9 126.2 187.8 127.7 187.7 129.2 187.6 130.7 187.6 132.3 187.5 133.8 187.5 135.3 187.5 136.8 187.4 138.3 187.4 139.8 187.4 141.3 187.4 142.8 187.5 144.3 187.5 145.9 187.5 147.4 187.6 148.9 187.6 150.4 187.7 151.9 187.8 153.4 187.9 154.8 188.0 156.3 188.1 157.8 188.2 159.3 188.3 160.8 188.4 162.3 188.5 163.8 188.7 165.3 188.8 166.8 189.0 168.3 189.2 169.7 189.3 171.2 189.5 172.7 189.7 174.2 189.9 175.7 190.1 177.1 190.3 178.6 190.5 180.1 190.7 181.6 191.0 183.0 191.2 184.5 191.4 186.0 191.7 187.5 191.9 188.9 192.2 190.4 192.4 191.9 192.7 193.3 193.0 194.8 193.2 196.3 193.5 197.7 193.8 199.2 194.1 200.7 194.4 202.1 194.7 203.6 195.0 205.0 195.3 206.5 195.6 208.0 195.9 209.4 196.2 210.9 196.5 212.3 196.8 213.8 197.2 215.2 197.5 216.7 197.8 218.2 198.2 219.6 198.5 221.1 198.8 222.5 199.2 224.0 199.5 225.4 199.9 226.9 200.2 228.3 200.6 229.8 200.9 231.2 201.3 232.7 201.6 234.1 202.0 235.6 202.4 237.1 202.7 238.5 203.1 240.0 203.5 241.4 203.8 242.9 204.2 244.3 204.6 245.8 205.0 247.2 205.4 248.7 205.8 250.2 206.1 251.6 206.5 253.1 206.9 254.6 207.3 256.0 207.7 257.5 208.1 259.0 208.6 260.4 209.0 261.9 209.4 263.4 209.8 264.9 210.2 266.3 210.7 267.8 211.1 269.3 211.5 270.8 211.9 272.3 212.4 273.8 212.8 275.3 213.3 276.8 213.7 278.3 214.2 279.8 214.6 281.3 215.1 282.8 215.6 284.3 216.0 285.8 216.5 287.3 217.0 288.8 217.5 290.3 218.0 291.7 218.6 293.2 219.2 294.6 219.7 296.0 220.4 297.4 221.0 298.7 221.7 300.0 222.4 301.3 223.1 302.6 223.9 303.8 224.7 305.0 225.5 306.1 226.4 307.2 227.3 308.2 228.3 309.2 229.3 310.2 230.3 311.1 231.4 312.0 232.4 312.9 233.6 313.7 234.7 314.5 235.9 315.2 237.1 315.9 238.3 316.6 239.6 317.3 240.9 317.9 242.2 318.6 243.5 319.2 244.9 319.7 246.2 320.3 247.6 320.8 249.0 321.3 250.5 321.8 251.9 322.2 253.4 322.7 254.8 323.1 256.3 323.6 257.8 324.0 259.3 324.4 260.8 324.8 262.3 325.2 263.8 325.5 265.4 325.9 266.9 326.3 268.4 326.7 270.0 327.0 271.5 327.4 273.1 327.8 274.6 328.1 276.1 328.5 277.7 328.9 279.2 329.3 280.7 329.7 282.2 330.1 283.7 330.5 285.2 330.9 286.7 331.3 288.2 331.8 289.7 332.2 291.1 332.7 292.6 333.2 294.0 333.7 295.4 334.3 296.8 334.8 298.2 335.4 299.5 336.0 300.8 336.6 302.2 337.3 303.4 338.0 304.7 338.7 305.9 339.4 307.2 340.2 308.4 340.9 309.6 341.7 310.7 342.5 311.9 343.4 313.0 344.3 314.1 345.1 315.2 346.0 316.3 347.0 317.4 347.9 318.4 348.9 319.4 349.9 320.5 350.9 321.5 351.9 322.4 352.9 323.4 354.0 324.4 355.0 325.3 356.1 326.2 357.2 327.1 358.4 328.0 359.5 328.9 360.6 329.8 361.8 330.7 363.0 331.5 364.2 332.4 365.4 333.2 366.6 334.0 367.8 334.8 369.1 335.6 370.3 336.4 371.6 337.2 372.8 338.0 374.1 338.8 375.4 339.5 376.7 340.3 378.0 341.0 379.4 341.7 380.7 342.5 382.0 343.2 383.4 343.9 384.7 344.6 386.1 345.3 387.4 346.0 388.8 346.7 390.2 347.4 391.5 348.1 392.9 348.8 394.3 349.5 395.7 350.2 397.1 350.9 398.5 351.5 399.9 352.2 401.2 352.9 402.6 353.6 404.0 354.2 405.4 354.9 406.8 355.6 408.2 356.3 409.6 356.9 411.0 357.6 412.4 358.3 413.8 359.0 415.2 359.7 416.6 360.3 417.9 361.0 419.3 361.7 420.7 362.4 422.1 363.1 423.4 363.8 424.8 364.5 426.1 365.2 427.5 366.0 428.8 366.7 430.1 367.4 431.5 368.1 432.8 368.9 434.1 369.6 435.4 370.4 436.7 371.1 438.0 371.9 439.3 372.6 440.6 373.4 441.9 374.2 443.1 375.0 444.4 375.8 445.7 376.6 446.9 377.4 448.2 378.2 449.4 379.0 450.7 379.8 451.9 380.7 453.1 381.5 454.3 382.3 455.6 383.2 456.8 384.1 458.0 384.9 459.2 385.8 460.3 386.7 461.5 387.6 462.7 388.5 463.9 389.4 465.0 390.3 466.2 391.2 467.3 392.2 468.5 393.1 469.6 394.1 470.8 395.0 471.9 396.0 473.0 397.0 474.1 398.0 475.2 399.0 476.3 400.0 477.4 401.0 478.5 402.1 479.6 403.1 480.6 404.2 481.7 405.2 482.8 406.3 483.8 407.4 484.9 408.5 485.9 409.6 486.9 410.6 488.0 411.7 489.0 412.8 490.0 414.0 491.1 415.1 492.1 416.2 493.1 417.3 494.1 418.4 495.2 419.5 496.2 420.6 497.2 421.7 498.2 422.8 499.3 423.9 500.3 425.0 501.3 426.0 502.4 427.1 503.4 428.2 504.4 429.3 505.5 430.4 506.5 431.4 507.5 432.5 508.6 433.6 509.6 434.7 510.6 435.8 511.7 436.8 512.7 437.9 513.7 439.0 514.8 440.1 515.8 441.2 516.8 442.3 517.9 443.4 518.9 444.5 519.9 445.6 520.9 446.7 522.0 447.8 523.0 448.9 524.0 450.1 525.0 451.2 526.0 452.3 527.0 453.5 528.0 454.6 529.0 455.8 530.0 456.9 531.0 458.1 532.0 459.3 533.0 460.4 534.0 461.6 534.9 462.8 535.9 464.0 536.9 465.2 537.8 466.4 538.8 467.5 539.7 468.8 540.7 470.0 541.6 471.2 542.5 472.4 543.4 473.6 544.3 474.8 545.2 476.1 546.1 477.3 547.0 478.6 547.9 479.8 548.8 481.1 549.6 482.3 550.5 483.6 551.3 484.8 552.1 486.1 553.0 487.4 553.8 488.7 554.6 489.9 555.4 491.2 556.1 492.5 556.9 493.8 557.7 495.1 558.4 496.4 559.2 497.8 559.9 499.1 560.6 500.4 561.3 501.7 562.0 503.1 562.6 504.4 563.3 505.7 564.0 507.1 564.6 508.5 565.2 509.8 565.8 511.2 566.4 512.5 567.0 513.9 567.6 515.3 568.1 516.7 568.6 518.1 569.2 519.5 569.7 520.9 570.1 522.3 570.6 523.7 571.1 525.1 571.5 526.5 571.9 527.9 572.4 529.3 572.7 530.8 573.1 532.2 573.5 533.6 573.9 535.1 574.2 536.5 574.5 538.0 574.9 539.4 575.2 540.9 575.5 542.4 575.7 543.8 576.0 545.3 576.3 546.8 576.5 548.2 576.8 549.7 577.0 551.2 577.2 552.7 577.4 554.1 577.6 555.6 577.8 557.1 578.0 558.6 578.2 560.1 578.4 561.6 578.5 563.1 578.7 564.6 578.9 566.1 579.0 567.6 579.1 569.1 579.3 570.6 579.4 572.1 579.5 573.6 579.7 575.1 579.8 576.6 579.9 578.1 580.0 579.6 580.1 581.1 580.2 582.7 580.3 584.2 580.4 585.7 580.5 587.2 580.6 588.7 580.7 590.2 580.8 591.7 580.9 593.2 581.0 594.7 581.1 596.3 581.2 597.8 581.3 599.3 581.4 600.8 581.4 602.3 581.5 603.8 581.6 605.3 581.7 606.8 581.8 608.3 581.9 609.8 582.0 611.4 582.0 612.9 582.1 614.4 582.2 615.9 582.3 617.4 582.4 618.9 582.4 620.4 582.5 621.9 582.6 623.4 582.7 624.9 582.8 626.4 582.8 627.9 582.9 629.5 583.0 631.0 583.1 632.5 583.1 634.0 583.2 635.5 583.3 637.0 583.3 638.5 583.4 640.0 583.5 641.5 583.5 643.0 583.6 644.5 583.7 646.0 583.7 647.5 583.8 649.0 583.9 650.6 583.9 652.1 584.0 653.6 584.1 655.1 584.1 656.6 584.2 658.1 584.3 659.6 584.3 661.1 584.4 662.6 584.4 664.1 584.5 665.6 584.5 667.1 584.6 668.6 584.7 670.1 584.7 671.6 584.8 673.1 584.8 674.6 584.9 676.1 584.9 677.7 585.0 679.2 585.0 680.7 585.1 682.2 585.1 683.7 585.2 685.2 585.2 686.7 585.3 688.2 585.3 689.7 585.4 691.2 585.4 692.7 585.5 694.2 585.5 695.7 585.6 697.2 585.6 698.7 585.7 700.2 585.7 701.7 585.8 703.2 585.8 704.7 585.8 706.2 585.9 707.7 585.9 709.2 586.0 710.7 586.0 712.2 586.1 713.7 586.1 715.2 586.1 716.8 586.2 718.3 586.2 719.8 586.3 721.3 586.3 722.8 586.3 724.3 586.4 725.8 586.4 727.3 586.4 728.8 586.5 730.3 586.5 731.8 586.5 733.3 586.6 734.8 586.6 736.3 586.6 737.8 586.7 739.3 586.7 740.8 586.7 742.3 586.8 743.8 586.8 745.3 586.8 746.8 586.9 748.3 586.9 749.8 586.9 751.3 587.0 752.8 587.0 754.3 587.0 755.8 587.0 757.3 587.1 758.8 587.1 760.3 587.1 761.8 587.2 763.3 587.2 764.8 587.2 766.3 587.2 767.8 587.3 769.3 587.3 770.8 587.3 772.3 587.3 773.8 587.4 775.3 587.4 776.8 587.4 778.3 587.4 779.8 587.5 781.3 587.5 782.8 587.5 784.3 587.5 785.8 587.6 787.3 587.6 788.8 587.6 790.3 587.6 791.8 587.6 793.3 587.7 794.8 587.7 796.4 587.7 797.9 587.7 799.4 587.7 800.9 587.8 802.4 587.8 803.9 587.8 805.4 587.8 806.9 587.8 808.4 587.9 809.9 587.9 811.4 587.9 812.9 587.9 814.4 587.9 815.9 588.0 817.4 588.0 818.9 588.0 820.4 588.0 821.9 588.0 823.4 588.0 824.9 588.1 826.4 588.1 827.9 588.1 829.4 588.1 830.9 588.1 832.4 588.1 833.9 588.2 835.4 588.2 836.9 588.2 838.4 588.2 839.9 588.2 841.4 588.2 842.9 588.3 844.4 588.3 845.9 588.3 847.4 588.3 848.9 588.3 850.4 588.3 851.9 588.4 853.4 588.4 854.9 588.4 856.4 588.4 857.9 588.4 859.4 588.4 860.9 588.4 862.4 588.5 863.9 588.5 865.4 588.5 866.9 588.5 868.4 588.5 869.9 588.5 871.4 588.5 872.9 588.6 874.4 588.6 875.9 588.6 877.4 588.6 878.9 588.6 880.4 588.6 881.9 588.7 883.4 588.7 884.9 588.7 886.4 588.7 887.9 588.7 889.4 588.7 890.9 588.7 892.4 588.8 893.9 588.8 895.4 588.8 896.9 588.8 898.4 588.8 899.9 588.8 901.4 588.9 902.9 588.9 904.4 588.9 905.9 588.9 907.4 588.9 908.9 588.9 910.4 589.0 911.9 589.0 913.4 589.0 914.9 589.0 916.5 589.0 918.0 589.0 919.5 589.1 921.0 589.1 922.5 589.1 924.0 589.1 925.5 589.1 927.0 589.1 928.5 589.2 930.0 589.2 931.5 589.2 933.0 589.2 934.5 589.2 936.0 589.3 937.5 589.3 939.0 589.3 940.5 589.3 942.0 589.3 943.5 589.3 945.0 589.4 946.5 589.4 948.0 589.4 949.5 589.4 951.0 589.5 952.5 589.5 954.0 589.5 955.5 589.5 957.0 589.5 958.5 589.6 960.0 589.6 961.5 589.6 963.1 589.6 964.6 589.7 966.1 589.7 967.6 589.7 969.1 589.7 970.6 589.7 972.1 589.8 973.6 589.8 975.1 589.8 976.6 589.9 978.1 589.9 979.6 589.9 981.1 589.9 982.6 590.0 984.1 590.0 985.6 590.0 987.1 590.0 988.6 590.1 990.1 590.1 991.6 590.1 993.2 590.2 994.7 590.2 996.2 590.2 997.7 590.2 999.2 590.3 1000.7 590.3 1002.2 590.3 1003.7 590.4 1005.2 590.4 1006.7 590.4 1008.2 590.5 1009.7 590.5 1011.2 590.5 1012.7 590.6 1014.2 590.6 1015.7 590.6 1017.3 590.7 1018.8 590.7 1020.3 590.8 1021.8 590.8 1023.3 590.8 1024.8 590.9 1026.3 590.9" stroke="#000080" stroke-width="2.6" fill="none" stroke-linejoin="round"/>
<path d="M188.7 138.0L188.5 139.6 188.3 141.1 188.2 142.7 188.0 144.2 187.9 145.8 187.8 147.3 187.7 148.8 187.7 150.3 187.6 151.9 187.6 153.4 187.5 154.9 187.5 156.4 187.5 157.9 187.6 159.4 187.6 160.9 187.6 162.4 187.7 163.9 187.8 165.4 187.8 166.9 187.9 168.4 188.0 169.9 188.2 171.4 188.3 172.9 188.4 174.4 188.6 175.8 188.7 177.3 188.9 178.8 189.1 180.2 189.3 181.7 189.5 183.2 189.7 184.7 189.9 186.1 190.1 187.6 190.3 189.0 190.5 190.5 190.8 192.0 191.0 193.4 191.2 194.9 191.5 196.4 191.7 197.8 192.0 199.3 192.3 200.7 192.5 202.2 192.8 203.7 193.1 205.1 193.3 206.6 193.6 208.0 193.9 209.5 194.2 211.0 194.4 212.4 194.7 213.9 195.0 215.3 195.3 216.8 195.5 218.3 195.8 219.8 196.1 221.2 196.4 222.7 196.6 224.2 196.9 225.6 197.2 227.1 197.4 228.6 197.7 230.1 197.9 231.6 198.2 233.1 198.4 234.5 198.7 236.0 198.9 237.5 199.1 239.0 199.4 240.5 199.6 242.0 199.8 243.5 200.0 245.0 200.2 246.6 200.4 248.1 200.6 249.6 200.7 251.1 200.9 252.6 201.1 254.2 201.3 255.7 201.4 257.2 201.6 258.7 201.8 260.3 201.9 261.8 202.1 263.3 202.3 264.9 202.5 266.4 202.7 267.9 202.8 269.4 203.0 270.9 203.2 272.5 203.5 274.0 203.7 275.5 203.9 277.0 204.2 278.5 204.4 280.0 204.7 281.5 205.0 282.9 205.3 284.4 205.6 285.9 205.9 287.4 206.3 288.8 206.6 290.3 207.0 291.7 207.4 293.2 207.9 294.6 208.3 296.0 208.8 297.4 209.3 298.8 209.8 300.2 210.3 301.6 210.9 302.9 211.5 304.3 212.1 305.6 212.8 306.9 213.5 308.1 214.3 309.4 215.0 310.6 215.8 311.7 216.7 312.9 217.6 314.0 218.5 315.0 219.5 316.0 220.6 317.0 221.6 317.9 222.8 318.7 224.0 319.6 225.2 320.3 226.4 321.1 227.7 321.7 229.1 322.4 230.4 323.0 231.8 323.6 233.2 324.2 234.6 324.8 236.1 325.4 237.5 325.9 239.0 326.4 240.5 327.0 241.9 327.5 243.4 328.1 244.8 328.6 246.3 329.2 247.7 329.8 249.1 330.4 250.5 331.0 251.9 331.7 253.2 332.4 254.5 333.1 255.8 333.9 257.0 334.7 258.2 335.6 259.3 336.5 260.4 337.5 261.5 338.5 262.6 339.5 263.6 340.5 264.6 341.6 265.6 342.7 266.5 343.8 267.4 345.0 268.3 346.1 269.2 347.3 270.1 348.5 270.9 349.7 271.8 350.9 272.6 352.1 273.4 353.3 274.1 354.6 274.9 355.8 275.7 357.1 276.4 358.3 277.1 359.6 277.8 360.9 278.5 362.2 279.2 363.5 279.9 364.8 280.5 366.2 281.2 367.5 281.8 368.8 282.4 370.2 283.0 371.5 283.6 372.9 284.2 374.3 284.8 375.7 285.4 377.0 285.9 378.4 286.5 379.8 287.0 381.2 287.5 382.6 288.1 384.0 288.6 385.5 289.1 386.9 289.6 388.3 290.1 389.7 290.6 391.2 291.1 392.6 291.6 394.1 292.1 395.5 292.5 397.0 293.0 398.4 293.5 399.9 293.9 401.3 294.4 402.8 294.9 404.2 295.3 405.7 295.8 407.2 296.2 408.6 296.7 410.1 297.2 411.5 297.6 413.0 298.1 414.5 298.5 415.9 299.0 417.4 299.5 418.9 299.9 420.3 300.4 421.8 300.8 423.2 301.3 424.7 301.8 426.1 302.3 427.6 302.8 429.0 303.2 430.5 303.7 431.9 304.2 433.4 304.7 434.8 305.2 436.2 305.8 437.7 306.3 439.1 306.8 440.5 307.3 441.9 307.9 443.3 308.4 444.8 309.0 446.2 309.6 447.5 310.2 448.9 310.8 450.3 311.4 451.7 312.0 453.1 312.6 454.4 313.2 455.8 313.9 457.1 314.5 458.5 315.2 459.8 315.9 461.1 316.6 462.4 317.3 463.7 318.0 465.0 318.8 466.3 319.5 467.6 320.3 468.8 321.1 470.1 321.9 471.4 322.7 472.6 323.5 473.9 324.3 475.1 325.1 476.3 325.9 477.6 326.8 478.8 327.6 480.0 328.4 481.2 329.3 482.5 330.1 483.7 331.0 484.9 331.8 486.1 332.6 487.4 333.5 488.6 334.3 489.8 335.1 491.1 336.0 492.3 336.8 493.6 337.6 494.8 338.4 496.1 339.2 497.3 340.0 498.6 340.7 499.9 341.5 501.2 342.2 502.5 343.0 503.8 343.7 505.1 344.4 506.4 345.1 507.8 345.8 509.1 346.5 510.4 347.2 511.8 347.9 513.1 348.6 514.5 349.3 515.8 350.0 517.2 350.7 518.5 351.4 519.8 352.1 521.2 352.8 522.5 353.6 523.8 354.3 525.2 355.1 526.5 355.9 527.8 356.7 529.1 357.5 530.3 358.4 531.6 359.2 532.9 360.1 534.1 361.0 535.3 361.9 536.6 362.8 537.8 363.8 539.0 364.7 540.2 365.7 541.3 366.7 542.5 367.7 543.6 368.7 544.8 369.7 545.9 370.8 547.0 371.9 548.1 372.9 549.2 374.0 550.2 375.1 551.3 376.2 552.3 377.4 553.3 378.5 554.3 379.7 555.3 380.8 556.3 382.0 557.2 383.2 558.2 384.4 559.1 385.6 560.0 386.8 560.9 388.1 561.7 389.3 562.6 390.6 563.4 391.8 564.2 393.1 565.0 394.4 565.8 395.7 566.6 396.9 567.3 398.3 568.0 399.6 568.8 400.9 569.4 402.2 570.1 403.5 570.7 404.9 571.4 406.2 572.0 407.6 572.6 408.9 573.1 410.3 573.7 411.7 574.2 413.0 574.7 414.4 575.2 415.8 575.7 417.2 576.2 418.6 576.7 420.0 577.1 421.4 577.5 422.8 577.9 424.3 578.3 425.7 578.7 427.1 579.1 428.6 579.4 430.0 579.7 431.5 580.1 432.9 580.4 434.4 580.7 435.8 581.0 437.3 581.2 438.7 581.5 440.2 581.8 441.7 582.0 443.2 582.2 444.7 582.4 446.1 582.7 447.6 582.9 449.1 583.1 450.6 583.2 452.1 583.4 453.6 583.6 455.1 583.7 456.6 583.9 458.1 584.0 459.6 584.2 461.1 584.3 462.6 584.4 464.2 584.5 465.7 584.7 467.2 584.8 468.7 584.9 470.2 585.0 471.8 585.0 473.3 585.1 474.8 585.2 476.3 585.3 477.8 585.4 479.4 585.5 480.9 585.5 482.4 585.6 484.0 585.7 485.5 585.7 487.0 585.8 488.5 585.9 490.1 585.9 491.6 586.0 493.1 586.1 494.6 586.1 496.2 586.2 497.7 586.3 499.2 586.3 500.7 586.4 502.2 586.5 503.8 586.5 505.3 586.6 506.8 586.7 508.3 586.8 509.8 586.8 511.3 586.9 512.9 587.0 514.4 587.1 515.9 587.1 517.4 587.2 518.9 587.3 520.4 587.4 521.9 587.5 523.4 587.6 524.9 587.7 526.4 587.7 527.9 587.8 529.5 587.9 531.0 588.0 532.5 588.1 534.0 588.2 535.5 588.3 537.0 588.4 538.5 588.5 540.0 588.6 541.5 588.7 543.0 588.8 544.5 588.9 546.0 589.0 547.5 589.1 549.0 589.2 550.5 589.3 551.9 589.4 553.4 589.4 554.9 589.5 556.4 589.6 557.9 589.7 559.4 589.8 560.9 589.9 562.4 590.0 563.9 590.1 565.4 590.2 566.9 590.3 568.4 590.4 569.9 590.5 571.4 590.6 572.9 590.7 574.4 590.8 575.9 590.9 577.3 591.0 578.8 591.1 580.3 591.2 581.8 591.3 583.3 591.4 584.8 591.5 586.3 591.6 587.8 591.6 589.3 591.7 590.8 591.8 592.3 591.9 593.8 592.0 595.3 592.1 596.8 592.2 598.3 592.3 599.7 592.3 601.2 592.4 602.7 592.5 604.2 592.6 605.7 592.7 607.2 592.7 608.7 592.8 610.2 592.9 611.7 593.0 613.2 593.1 614.7 593.1 616.2 593.2 617.7 593.3 619.2 593.4 620.7 593.4 622.2 593.5 623.7 593.6 625.2 593.7 626.7 593.7 628.2 593.8 629.7 593.9 631.2 593.9 632.7 594.0 634.2 594.1 635.7 594.1 637.1 594.2 638.6 594.3 640.1 594.3 641.6 594.4 643.1 594.5 644.6 594.5 646.1 594.6 647.6 594.6 649.1 594.7 650.6 594.8 652.1 594.8 653.6 594.9 655.1 594.9 656.6 595.0 658.1 595.1 659.6 595.1 661.1 595.2 662.6 595.2 664.1 595.3 665.6 595.3 667.1 595.4 668.6 595.5 670.1 595.5 671.6 595.6 673.1 595.6 674.6 595.7 676.1 595.7 677.6 595.8 679.1 595.8 680.6 595.9 682.1 595.9 683.6 596.0 685.1 596.0 686.6 596.1 688.1 596.1 689.6 596.1 691.1 596.2 692.6 596.2 694.1 596.3 695.6 596.3 697.1 596.4 698.6 596.4 700.1 596.5 701.6 596.5 703.1 596.5 704.6 596.6 706.1 596.6 707.7 596.7 709.2 596.7 710.7 596.8 712.2 596.8 713.7 596.8 715.2 596.9 716.7 596.9 718.2 597.0 719.7 597.0 721.2 597.0 722.7 597.1 724.2 597.1 725.7 597.1 727.2 597.2 728.7 597.2 730.2 597.2 731.7 597.3 733.2 597.3 734.7 597.4 736.2 597.4 737.7 597.4 739.2 597.5 740.7 597.5 742.2 597.5 743.7 597.6 745.2 597.6 746.7 597.6 748.2 597.7 749.7 597.7 751.2 597.7 752.7 597.7 754.2 597.8 755.8 597.8 757.3 597.8 758.8 597.9 760.3 597.9 761.8 597.9 763.3 598.0 764.8 598.0 766.3 598.0 767.8 598.1 769.3 598.1 770.8 598.1 772.3 598.1 773.8 598.2 775.3 598.2 776.8 598.2 778.3 598.3 779.8 598.3 781.3 598.3 782.8 598.3 784.3 598.4 785.8 598.4 787.3 598.4 788.8 598.4 790.4 598.5 791.9 598.5 793.4 598.5 794.9 598.5 796.4 598.6 797.9 598.6 799.4 598.6 800.9 598.7 802.4 598.7 803.9 598.7 805.4 598.7 806.9 598.8 808.4 598.8 809.9 598.8 811.4 598.8 812.9 598.9 814.4 598.9 815.9 598.9 817.4 598.9 818.9 599.0 820.5 599.0 822.0 599.0 823.5 599.0 825.0 599.1 826.5 599.1 828.0 599.1 829.5 599.1 831.0 599.2 832.5 599.2 834.0 599.2 835.5 599.2 837.0 599.3 838.5 599.3 840.0 599.3 841.5 599.3 843.0 599.4 844.5 599.4 846.0 599.4 847.5 599.4 849.0 599.5 850.6 599.5 852.1 599.5 853.6 599.5 855.1 599.6 856.6 599.6 858.1 599.6 859.6 599.7 861.1 599.7 862.6 599.7 864.1 599.7 865.6 599.8 867.1 599.8 868.6 599.8 870.1 599.8 871.6 599.9 873.1 599.9 874.6 599.9 876.1 600.0 877.6 600.0 879.1 600.0 880.6 600.0 882.2 600.1 883.7 600.1 885.2 600.1 886.7 600.2 888.2 600.2 889.7 600.2 891.2 600.2 892.7 600.3 894.2 600.3 895.7 600.3 897.2 600.4 898.7 600.4 900.2 600.4 901.7 600.5 903.2 600.5 904.7 600.5 906.2 600.6 907.7 600.6 909.2 600.6 910.7 600.7 912.2 600.7 913.7 600.7 915.2 600.8 916.7 600.8 918.2 600.8 919.8 600.9 921.3 600.9 922.8 600.9 924.3 601.0 925.8 601.0 927.3 601.0 928.8 601.1 930.3 601.1 931.8 601.2 933.3 601.2 934.8 601.2 936.3 601.3 937.8 601.3 939.3 601.4 940.8 601.4 942.3 601.4 943.8 601.5 945.3 601.5 946.8 601.6 948.3 601.6 949.8 601.6 951.3 601.7 952.8 601.7 954.3 601.8 955.8 601.8 957.3 601.9 958.8 601.9 960.3 602.0 961.8 602.0 963.3 602.0 964.8 602.1 966.3 602.1 967.8 602.2 969.3 602.2 970.8 602.3 972.3 602.3 973.8 602.4 975.3 602.4 976.8 602.5 978.3 602.5 979.8 602.6 981.3 602.6 982.8 602.7 984.3 602.8 985.8 602.8 987.3 602.9 988.8 602.9 990.3 603.0 991.8 603.0 993.3 603.1 994.8 603.1 996.3 603.2 997.8 603.3 999.3 603.3 1000.8 603.4 1002.3 603.4 1003.8 603.5 1005.3 603.6 1006.8 603.6 1008.3 603.7 1009.8 603.8 1011.3 603.8 1012.8 603.9 1014.3 604.0 1015.8 604.0 1017.3 604.1 1018.8 604.2 1020.3 604.2 1021.8 604.3 1023.3 604.4 1024.8 604.4 1026.3 604.5" stroke="#ff8000" stroke-width="2.6" fill="none" stroke-linejoin="round"/>
<path d="M188.7 157.0L188.6 158.6 188.6 160.1 188.5 161.6 188.5 163.2 188.5 164.7 188.5 166.2 188.5 167.8 188.5 169.3 188.5 170.8 188.5 172.3 188.5 173.8 188.6 175.3 188.6 176.9 188.7 178.4 188.7 179.9 188.8 181.3 188.9 182.8 189.0 184.3 189.1 185.8 189.2 187.3 189.3 188.8 189.4 190.3 189.5 191.7 189.6 193.2 189.8 194.7 189.9 196.2 190.0 197.6 190.2 199.1 190.3 200.6 190.5 202.0 190.7 203.5 190.8 205.0 191.0 206.4 191.2 207.9 191.4 209.4 191.6 210.8 191.7 212.3 191.9 213.8 192.1 215.2 192.3 216.7 192.5 218.1 192.7 219.6 192.9 221.1 193.1 222.5 193.3 224.0 193.6 225.5 193.8 226.9 194.0 228.4 194.2 229.9 194.4 231.3 194.6 232.8 194.8 234.3 195.1 235.7 195.3 237.2 195.5 238.7 195.7 240.2 195.9 241.7 196.1 243.1 196.3 244.6 196.6 246.1 196.8 247.6 197.0 249.1 197.2 250.6 197.4 252.1 197.6 253.6 197.8 255.1 198.0 256.6 198.2 258.1 198.4 259.6 198.6 261.1 198.8 262.7 198.9 264.2 199.1 265.7 199.3 267.3 199.5 268.8 199.6 270.3 199.8 271.9 199.9 273.4 200.1 275.0 200.2 276.6 200.4 278.1 200.5 279.7 200.6 281.3 200.7 282.9 200.9 284.4 201.0 286.0 201.1 287.6 201.3 289.2 201.4 290.7 201.6 292.3 201.8 293.8 202.0 295.4 202.2 296.9 202.4 298.4 202.7 299.9 203.1 301.3 203.4 302.8 203.8 304.2 204.2 305.6 204.7 306.9 205.3 308.2 205.8 309.5 206.5 310.7 207.2 311.9 207.9 313.1 208.7 314.2 209.6 315.3 210.5 316.3 211.5 317.3 212.6 318.3 213.7 319.2 214.8 320.0 216.0 320.9 217.3 321.7 218.5 322.5 219.8 323.2 221.1 324.0 222.5 324.7 223.8 325.4 225.2 326.1 226.6 326.8 227.9 327.6 229.3 328.3 230.6 329.0 232.0 329.8 233.3 330.6 234.6 331.3 235.9 332.2 237.1 333.0 238.3 333.8 239.6 334.7 240.8 335.6 241.9 336.5 243.1 337.4 244.2 338.3 245.3 339.3 246.4 340.3 247.4 341.3 248.5 342.3 249.5 343.3 250.5 344.4 251.4 345.5 252.4 346.6 253.3 347.7 254.2 348.8 255.0 350.0 255.9 351.1 256.7 352.3 257.5 353.6 258.2 354.8 259.0 356.1 259.7 357.3 260.3 358.6 261.0 360.0 261.6 361.3 262.2 362.7 262.8 364.1 263.3 365.4 263.9 366.9 264.4 368.3 264.9 369.7 265.3 371.2 265.8 372.7 266.2 374.1 266.7 375.6 267.1 377.1 267.5 378.6 267.9 380.1 268.3 381.6 268.7 383.1 269.0 384.7 269.4 386.2 269.8 387.7 270.2 389.2 270.6 390.7 270.9 392.2 271.3 393.8 271.7 395.3 272.1 396.8 272.6 398.2 273.0 399.7 273.4 401.2 273.9 402.6 274.3 404.1 274.8 405.5 275.3 407.0 275.8 408.4 276.3 409.8 276.8 411.2 277.3 412.6 277.8 414.0 278.3 415.4 278.9 416.8 279.4 418.2 279.9 419.6 280.5 421.0 281.0 422.3 281.5 423.7 282.1 425.1 282.6 426.5 283.1 427.9 283.7 429.3 284.2 430.6 284.7 432.0 285.2 433.4 285.7 434.8 286.2 436.2 286.7 437.7 287.2 439.1 287.7 440.5 288.2 441.9 288.7 443.3 289.2 444.8 289.6 446.2 290.1 447.6 290.6 449.0 291.1 450.5 291.6 451.9 292.1 453.3 292.7 454.7 293.2 456.1 293.7 457.5 294.3 458.9 294.9 460.3 295.5 461.6 296.1 463.0 296.7 464.4 297.4 465.7 298.1 467.0 298.8 468.3 299.5 469.6 300.2 470.9 301.0 472.2 301.8 473.5 302.6 474.7 303.5 475.9 304.3 477.2 305.2 478.4 306.0 479.6 306.9 480.8 307.8 482.1 308.6 483.3 309.5 484.5 310.4 485.7 311.2 486.9 312.1 488.2 312.9 489.4 313.8 490.6 314.6 491.9 315.4 493.1 316.2 494.4 317.0 495.6 317.8 496.9 318.5 498.2 319.3 499.4 320.1 500.7 320.8 502.0 321.6 503.3 322.3 504.6 323.0 505.9 323.7 507.2 324.4 508.5 325.1 509.8 325.8 511.2 326.5 512.5 327.2 513.8 327.8 515.2 328.5 516.5 329.2 517.9 329.8 519.2 330.4 520.6 331.1 521.9 331.7 523.3 332.3 524.7 333.0 526.0 333.6 527.4 334.3 528.8 334.9 530.1 335.6 531.5 336.2 532.8 336.9 534.2 337.6 535.5 338.3 536.8 339.1 538.2 339.8 539.5 340.6 540.8 341.4 542.1 342.2 543.4 343.0 544.6 343.9 545.9 344.7 547.1 345.6 548.4 346.5 549.6 347.5 550.8 348.4 552.0 349.4 553.1 350.4 554.3 351.4 555.4 352.4 556.5 353.5 557.7 354.5 558.7 355.6 559.8 356.7 560.9 357.8 561.9 359.0 562.9 360.1 563.9 361.3 564.9 362.4 565.8 363.6 566.8 364.8 567.7 366.0 568.6 367.3 569.4 368.5 570.3 369.8 571.1 371.0 571.9 372.3 572.7 373.6 573.4 374.9 574.1 376.2 574.8 377.5 575.5 378.9 576.2 380.2 576.8 381.6 577.4 382.9 577.9 384.3 578.5 385.7 579.0 387.1 579.5 388.4 580.0 389.9 580.4 391.3 580.8 392.7 581.3 394.1 581.6 395.5 582.0 397.0 582.4 398.4 582.7 399.9 583.0 401.3 583.3 402.8 583.6 404.3 583.8 405.7 584.1 407.2 584.3 408.7 584.5 410.2 584.7 411.7 584.9 413.2 585.1 414.7 585.2 416.2 585.4 417.7 585.5 419.2 585.7 420.7 585.8 422.2 585.9 423.7 586.0 425.3 586.1 426.8 586.2 428.3 586.3 429.8 586.3 431.4 586.4 432.9 586.5 434.4 586.5 436.0 586.6 437.5 586.6 439.0 586.7 440.6 586.7 442.1 586.8 443.6 586.8 445.2 586.9 446.7 586.9 448.2 587.0 449.7 587.0 451.3 587.1 452.8 587.1 454.3 587.2 455.8 587.2 457.4 587.3 458.9 587.4 460.4 587.5 461.9 587.5 463.4 587.6 464.9 587.7 466.4 587.8 467.9 587.9 469.4 588.0 470.9 588.1 472.4 588.2 473.9 588.3 475.4 588.4 476.9 588.5 478.4 588.6 479.9 588.7 481.4 588.8 482.9 588.9 484.4 589.1 485.9 589.2 487.4 589.3 488.8 589.4 490.3 589.5 491.8 589.7 493.3 589.8 494.8 589.9 496.3 590.0 497.8 590.1 499.3 590.3 500.8 590.4 502.2 590.5 503.7 590.6 505.2 590.7 506.7 590.8 508.2 590.9 509.7 591.1 511.2 591.2 512.7 591.3 514.2 591.4 515.7 591.5 517.2 591.6 518.7 591.7 520.2 591.8 521.6 591.9 523.1 592.0 524.6 592.1 526.1 592.2 527.6 592.3 529.1 592.4 530.6 592.5 532.1 592.6 533.6 592.7 535.1 592.8 536.6 592.9 538.1 593.0 539.6 593.1 541.1 593.2 542.6 593.3 544.1 593.4 545.6 593.5 547.1 593.6 548.6 593.7 550.1 593.8 551.6 593.9 553.1 593.9 554.6 594.0 556.1 594.1 557.6 594.2 559.1 594.3 560.6 594.4 562.1 594.5 563.6 594.6 565.1 594.6 566.6 594.7 568.1 594.8 569.6 594.9 571.1 595.0 572.6 595.1 574.1 595.1 575.6 595.2 577.1 595.3 578.6 595.4 580.1 595.5 581.6 595.5 583.1 595.6 584.7 595.7 586.2 595.8 587.7 595.9 589.2 595.9 590.7 596.0 592.2 596.1 593.7 596.2 595.2 596.3 596.7 596.3 598.2 596.4 599.7 596.5 601.2 596.6 602.7 596.6 604.2 596.7 605.7 596.8 607.2 596.9 608.7 596.9 610.2 597.0 611.7 597.1 613.2 597.2 614.7 597.2 616.2 597.3 617.7 597.4 619.2 597.5 620.7 597.5 622.2 597.6 623.7 597.7 625.2 597.8 626.7 597.8 628.2 597.9 629.7 598.0 631.2 598.1 632.7 598.1 634.2 598.2 635.7 598.3 637.2 598.3 638.7 598.4 640.2 598.5 641.7 598.5 643.3 598.6 644.8 598.7 646.3 598.8 647.8 598.8 649.3 598.9 650.8 599.0 652.3 599.0 653.8 599.1 655.3 599.2 656.8 599.2 658.3 599.3 659.8 599.4 661.3 599.4 662.8 599.5 664.3 599.6 665.8 599.6 667.3 599.7 668.8 599.8 670.3 599.8 671.8 599.9 673.3 600.0 674.8 600.0 676.3 600.1 677.8 600.2 679.3 600.2 680.8 600.3 682.3 600.4 683.8 600.4 685.3 600.5 686.8 600.6 688.3 600.6 689.8 600.7 691.3 600.7 692.8 600.8 694.3 600.9 695.8 600.9 697.3 601.0 698.8 601.1 700.3 601.1 701.8 601.2 703.3 601.2 704.8 601.3 706.3 601.4 707.8 601.4 709.3 601.5 710.8 601.6 712.3 601.6 713.8 601.7 715.4 601.7 716.9 601.8 718.4 601.9 719.9 601.9 721.4 602.0 722.9 602.0 724.4 602.1 725.9 602.2 727.4 602.2 728.9 602.3 730.4 602.3 731.9 602.4 733.4 602.5 734.9 602.5 736.4 602.6 737.9 602.6 739.4 602.7 740.9 602.7 742.4 602.8 743.9 602.9 745.4 602.9 746.9 603.0 748.4 603.0 749.9 603.1 751.4 603.1 752.9 603.2 754.4 603.3 755.9 603.3 757.4 603.4 758.9 603.4 760.4 603.5 761.9 603.5 763.4 603.6 764.9 603.6 766.4 603.7 767.9 603.8 769.4 603.8 770.9 603.9 772.4 603.9 773.9 604.0 775.4 604.0 776.9 604.1 778.4 604.1 779.9 604.2 781.4 604.2 782.9 604.3 784.4 604.4 785.9 604.4 787.4 604.5 788.9 604.5 790.4 604.6 791.9 604.6 793.4 604.7 794.9 604.7 796.5 604.8 798.0 604.8 799.5 604.9 801.0 604.9 802.5 605.0 804.0 605.0 805.5 605.1 807.0 605.2 808.5 605.2 810.0 605.3 811.5 605.3 813.0 605.4 814.5 605.4 816.0 605.5 817.5 605.5 819.0 605.6 820.5 605.6 822.0 605.7 823.5 605.7 825.0 605.8 826.5 605.8 828.0 605.9 829.5 605.9 831.0 606.0 832.5 606.0 834.0 606.1 835.5 606.1 837.0 606.2 838.5 606.2 840.0 606.3 841.5 606.3 843.0 606.4 844.5 606.4 846.0 606.5 847.5 606.5 849.0 606.6 850.5 606.6 852.0 606.7 853.5 606.7 855.0 606.8 856.5 606.8 858.0 606.9 859.5 606.9 861.0 607.0 862.5 607.0 864.0 607.1 865.5 607.1 867.0 607.2 868.5 607.2 870.0 607.3 871.5 607.3 873.0 607.4 874.5 607.4 876.1 607.5 877.6 607.5 879.1 607.6 880.6 607.6 882.1 607.7 883.6 607.7 885.1 607.8 886.6 607.8 888.1 607.9 889.6 607.9 891.1 608.0 892.6 608.0 894.1 608.0 895.6 608.1 897.1 608.1 898.6 608.2 900.1 608.2 901.6 608.3 903.1 608.3 904.6 608.4 906.1 608.4 907.6 608.5 909.1 608.5 910.6 608.6 912.1 608.6 913.6 608.7 915.1 608.7 916.6 608.8 918.1 608.8 919.6 608.9 921.1 608.9 922.6 609.0 924.1 609.0 925.6 609.1 927.1 609.1 928.6 609.2 930.1 609.2 931.6 609.2 933.1 609.3 934.6 609.3 936.1 609.4 937.6 609.4 939.1 609.5 940.6 609.5 942.1 609.6 943.6 609.6 945.2 609.7 946.7 609.7 948.2 609.8 949.7 609.8 951.2 609.9 952.7 609.9 954.2 610.0 955.7 610.0 957.2 610.1 958.7 610.1 960.2 610.2 961.7 610.2 963.2 610.3 964.7 610.3 966.2 610.3 967.7 610.4 969.2 610.4 970.7 610.5 972.2 610.5 973.7 610.6 975.2 610.6 976.7 610.7 978.2 610.7 979.7 610.8 981.2 610.8 982.7 610.9 984.2 610.9 985.7 611.0 987.2 611.0 988.7 611.1 990.2 611.1 991.7 611.2 993.2 611.2 994.7 611.3 996.2 611.3 997.7 611.4 999.2 611.4 1000.7 611.5 1002.3 611.5 1003.8 611.6 1005.3 611.6 1006.8 611.7 1008.3 611.7 1009.8 611.8 1011.3 611.8 1012.8 611.9 1014.3 611.9 1015.8 612.0 1017.3 612.0 1018.8 612.1 1020.3 612.1 1021.8 612.2 1023.3 612.2 1024.8 612.3 1026.3 612.3" stroke="#800080" stroke-width="2.6" fill="none" stroke-linejoin="round"/>
<path d="M188.7 177.0L188.6 178.5 188.6 180.1 188.6 181.6 188.5 183.2 188.5 184.7 188.5 186.2 188.5 187.7 188.6 189.3 188.6 190.8 188.6 192.3 188.7 193.8 188.7 195.3 188.8 196.8 188.9 198.3 188.9 199.8 189.0 201.3 189.1 202.7 189.2 204.2 189.3 205.7 189.4 207.2 189.5 208.7 189.7 210.1 189.8 211.6 189.9 213.1 190.1 214.6 190.2 216.0 190.3 217.5 190.5 219.0 190.6 220.4 190.8 221.9 191.0 223.3 191.1 224.8 191.3 226.3 191.4 227.7 191.6 229.2 191.8 230.7 191.9 232.1 192.1 233.6 192.3 235.1 192.4 236.5 192.6 238.0 192.8 239.5 193.0 240.9 193.1 242.4 193.3 243.9 193.4 245.4 193.6 246.9 193.8 248.3 193.9 249.8 194.1 251.3 194.2 252.8 194.4 254.3 194.5 255.8 194.7 257.3 194.8 258.8 194.9 260.3 195.0 261.8 195.2 263.3 195.3 264.9 195.4 266.4 195.5 267.9 195.6 269.4 195.7 271.0 195.7 272.5 195.8 274.1 195.9 275.6 195.9 277.2 196.0 278.8 196.0 280.3 196.1 281.9 196.1 283.5 196.1 285.1 196.1 286.7 196.2 288.2 196.2 289.8 196.2 291.4 196.3 293.0 196.4 294.5 196.4 296.1 196.6 297.6 196.7 299.2 196.8 300.7 197.0 302.2 197.3 303.7 197.5 305.2 197.8 306.6 198.1 308.0 198.5 309.4 198.9 310.8 199.4 312.2 199.9 313.5 200.5 314.8 201.2 316.0 201.9 317.3 202.7 318.5 203.5 319.6 204.4 320.7 205.4 321.8 206.4 322.9 207.5 323.9 208.7 324.9 209.9 325.9 211.1 326.8 212.3 327.7 213.6 328.7 214.8 329.6 216.1 330.6 217.3 331.5 218.6 332.5 219.8 333.4 221.0 334.4 222.1 335.4 223.2 336.5 224.3 337.5 225.3 338.6 226.3 339.7 227.3 340.8 228.2 341.9 229.1 343.1 230.0 344.2 230.9 345.4 231.7 346.6 232.5 347.8 233.3 349.0 234.1 350.3 234.8 351.5 235.5 352.8 236.2 354.1 236.9 355.4 237.5 356.7 238.2 358.0 238.8 359.3 239.4 360.7 240.0 362.0 240.5 363.4 241.0 364.8 241.6 366.1 242.1 367.5 242.6 368.9 243.1 370.3 243.5 371.8 244.0 373.2 244.4 374.6 244.9 376.0 245.3 377.5 245.7 378.9 246.1 380.4 246.5 381.8 246.9 383.3 247.3 384.8 247.7 386.2 248.1 387.7 248.5 389.2 248.8 390.6 249.2 392.1 249.6 393.6 250.0 395.1 250.3 396.5 250.7 398.0 251.1 399.5 251.5 401.0 251.8 402.4 252.2 403.9 252.6 405.4 253.0 406.8 253.4 408.3 253.8 409.8 254.2 411.2 254.6 412.7 255.0 414.1 255.4 415.6 255.8 417.1 256.2 418.5 256.6 420.0 257.0 421.4 257.4 422.9 257.9 424.3 258.3 425.8 258.7 427.2 259.1 428.7 259.6 430.1 260.0 431.5 260.4 433.0 260.9 434.4 261.3 435.9 261.8 437.3 262.2 438.7 262.7 440.2 263.1 441.6 263.6 443.0 264.1 444.5 264.5 445.9 265.0 447.3 265.4 448.7 265.9 450.2 266.4 451.6 266.9 453.0 267.4 454.4 267.8 455.8 268.3 457.2 268.8 458.7 269.3 460.1 269.8 461.5 270.3 462.9 270.8 464.3 271.3 465.7 271.8 467.1 272.3 468.5 272.8 469.9 273.3 471.3 273.9 472.7 274.4 474.1 274.9 475.5 275.4 476.9 276.0 478.3 276.5 479.7 277.0 481.1 277.6 482.5 278.1 483.9 278.7 485.2 279.2 486.6 279.8 488.0 280.3 489.4 280.9 490.8 281.4 492.2 282.0 493.5 282.6 494.9 283.1 496.3 283.7 497.7 284.3 499.0 284.9 500.4 285.4 501.8 286.0 503.1 286.6 504.5 287.2 505.9 287.8 507.2 288.4 508.6 289.0 509.9 289.6 511.3 290.2 512.7 290.8 514.0 291.4 515.4 292.0 516.7 292.7 518.1 293.3 519.4 293.9 520.8 294.5 522.1 295.2 523.5 295.8 524.8 296.5 526.2 297.1 527.5 297.8 528.9 298.4 530.2 299.1 531.6 299.7 532.9 300.4 534.3 301.1 535.6 301.8 537.0 302.5 538.3 303.2 539.7 303.8 541.0 304.6 542.4 305.3 543.7 306.0 545.1 306.7 546.4 307.4 547.8 308.2 549.1 308.9 550.5 309.6 551.8 310.4 553.2 311.2 554.6 311.9 555.9 312.7 557.3 313.5 558.7 314.3 560.0 315.1 561.4 315.9 562.8 316.7 564.1 317.5 565.4 318.4 566.8 319.3 568.0 320.1 569.3 321.1 570.5 322.0 571.7 323.0 572.8 324.0 573.9 325.0 574.9 326.1 575.9 327.2 576.8 328.3 577.7 329.5 578.5 330.6 579.2 331.8 579.9 333.1 580.6 334.3 581.2 335.6 581.8 336.9 582.4 338.2 582.9 339.6 583.3 341.0 583.8 342.3 584.2 343.7 584.5 345.2 584.9 346.6 585.2 348.0 585.5 349.5 585.8 351.0 586.0 352.4 586.2 353.9 586.5 355.4 586.6 356.9 586.8 358.4 587.0 360.0 587.2 361.5 587.3 363.0 587.4 364.5 587.6 366.1 587.7 367.6 587.9 369.1 588.0 370.6 588.1 372.2 588.3 373.7 588.4 375.2 588.5 376.7 588.7 378.3 588.8 379.8 588.9 381.3 589.1 382.8 589.2 384.4 589.4 385.9 589.5 387.4 589.6 388.9 589.8 390.4 589.9 392.0 590.0 393.5 590.2 395.0 590.3 396.5 590.4 398.0 590.6 399.5 590.7 401.1 590.9 402.6 591.0 404.1 591.1 405.6 591.3 407.1 591.4 408.6 591.5 410.1 591.7 411.6 591.8 413.1 591.9 414.7 592.1 416.2 592.2 417.7 592.4 419.2 592.5 420.7 592.6 422.2 592.8 423.7 592.9 425.2 593.0 426.7 593.2 428.2 593.3 429.7 593.5 431.2 593.6 432.7 593.7 434.3 593.9 435.8 594.0 437.3 594.1 438.8 594.3 440.3 594.4 441.8 594.5 443.3 594.7 444.8 594.8 446.3 595.0 447.8 595.1 449.3 595.2 450.8 595.4 452.3 595.5 453.8 595.6 455.3 595.8 456.8 595.9 458.3 596.1 459.8 596.2 461.3 596.3 462.8 596.5 464.3 596.6 465.8 596.7 467.3 596.9 468.8 597.0 470.3 597.1 471.8 597.3 473.2 597.4 474.7 597.5 476.2 597.7 477.7 597.8 479.2 598.0 480.7 598.1 482.2 598.2 483.7 598.4 485.2 598.5 486.7 598.6 488.2 598.8 489.7 598.9 491.2 599.0 492.7 599.2 494.2 599.3 495.7 599.4 497.2 599.6 498.7 599.7 500.2 599.8 501.6 600.0 503.1 600.1 504.6 600.2 506.1 600.4 507.6 600.5 509.1 600.6 510.6 600.8 512.1 600.9 513.6 601.1 515.1 601.2 516.6 601.3 518.1 601.4 519.6 601.6 521.0 601.7 522.5 601.8 524.0 602.0 525.5 602.1 527.0 602.2 528.5 602.4 530.0 602.5 531.5 602.6 533.0 602.8 534.5 602.9 536.0 603.0 537.5 603.2 539.0 603.3 540.4 603.4 541.9 603.6 543.4 603.7 544.9 603.8 546.4 603.9 547.9 604.1 549.4 604.2 550.9 604.3 552.4 604.5 553.9 604.6 555.4 604.7 556.9 604.9 558.4 605.0 559.9 605.1 561.3 605.2 562.8 605.4 564.3 605.5 565.8 605.6 567.3 605.8 568.8 605.9 570.3 606.0 571.8 606.1 573.3 606.3 574.8 606.4 576.3 606.5 577.8 606.6 579.3 606.8 580.8 606.9 582.3 607.0 583.8 607.1 585.3 607.3 586.7 607.4 588.2 607.5 589.7 607.6 591.2 607.8 592.7 607.9 594.2 608.0 595.7 608.1 597.2 608.3 598.7 608.4 600.2 608.5 601.7 608.6 603.2 608.8 604.7 608.9 606.2 609.0 607.7 609.1 609.2 609.3 610.7 609.4 612.2 609.5 613.7 609.6 615.2 609.7 616.7 609.9 618.2 610.0 619.6 610.1 621.1 610.2 622.6 610.4 624.1 610.5 625.6 610.6 627.1 610.7 628.6 610.8 630.1 611.0 631.6 611.1 633.1 611.2 634.6 611.3 636.1 611.4 637.6 611.5 639.1 611.7 640.6 611.8 642.1 611.9 643.6 612.0 645.1 612.1 646.6 612.3 648.1 612.4 649.6 612.5 651.1 612.6 652.6 612.7 654.1 612.8 655.6 613.0 657.1 613.1 658.6 613.2 660.1 613.3 661.6 613.4 663.1 613.5 664.6 613.6 666.1 613.8 667.6 613.9 669.1 614.0 670.6 614.1 672.1 614.2 673.6 614.3 675.1 614.4 676.6 614.6 678.1 614.7 679.6 614.8 681.1 614.9 682.6 615.0 684.1 615.1 685.6 615.2 687.1 615.3 688.6 615.4 690.1 615.6 691.6 615.7 693.1 615.8 694.6 615.9 696.1 616.0 697.6 616.1 699.0 616.2 700.5 616.3 702.0 616.4 703.5 616.5 705.0 616.7 706.5 616.8 708.0 616.9 709.5 617.0 711.0 617.1 712.5 617.2 714.0 617.3 715.5 617.4 717.0 617.5 718.5 617.6 720.0 617.7 721.5 617.8 723.0 617.9 724.5 618.0 726.0 618.1 727.5 618.3 729.0 618.4 730.5 618.5 732.1 618.6 733.6 618.7 735.1 618.8 736.6 618.9 738.1 619.0 739.6 619.1 741.1 619.2 742.6 619.3 744.1 619.4 745.6 619.5 747.1 619.6 748.6 619.7 750.1 619.8 751.6 619.9 753.1 620.0 754.6 620.1 756.1 620.2 757.6 620.3 759.1 620.4 760.6 620.5 762.1 620.6 763.6 620.7 765.1 620.8 766.6 620.9 768.1 621.0 769.6 621.1 771.1 621.2 772.6 621.3 774.1 621.4 775.6 621.5 777.1 621.6 778.6 621.7 780.1 621.8 781.6 621.8 783.1 621.9 784.6 622.0 786.1 622.1 787.6 622.2 789.1 622.3 790.6 622.4 792.1 622.5 793.6 622.6 795.1 622.7 796.6 622.8 798.1 622.9 799.6 623.0 801.1 623.1 802.6 623.2 804.1 623.2 805.6 623.3 807.1 623.4 808.6 623.5 810.1 623.6 811.6 623.7 813.1 623.8 814.6 623.9 816.1 624.0 817.6 624.0 819.1 624.1 820.6 624.2 822.1 624.3 823.6 624.4 825.1 624.5 826.6 624.6 828.1 624.7 829.6 624.7 831.1 624.8 832.6 624.9 834.1 625.0 835.6 625.1 837.1 625.2 838.7 625.3 840.2 625.3 841.7 625.4 843.2 625.5 844.7 625.6 846.2 625.7 847.7 625.8 849.2 625.8 850.7 625.9 852.2 626.0 853.7 626.1 855.2 626.2 856.7 626.2 858.2 626.3 859.7 626.4 861.2 626.5 862.7 626.6 864.2 626.6 865.7 626.7 867.2 626.8 868.7 626.9 870.2 627.0 871.7 627.0 873.2 627.1 874.7 627.2 876.2 627.3 877.7 627.3 879.2 627.4 880.7 627.5 882.2 627.6 883.7 627.6 885.2 627.7 886.7 627.8 888.2 627.9 889.7 627.9 891.2 628.0 892.7 628.1 894.2 628.2 895.7 628.2 897.2 628.3 898.7 628.4 900.2 628.4 901.7 628.5 903.2 628.6 904.7 628.7 906.2 628.7 907.7 628.8 909.2 628.9 910.7 628.9 912.2 629.0 913.7 629.1 915.2 629.1 916.8 629.2 918.3 629.3 919.8 629.3 921.3 629.4 922.8 629.5 924.3 629.5 925.8 629.6 927.3 629.7 928.8 629.7 930.3 629.8 931.8 629.9 933.3 629.9 934.8 630.0 936.3 630.1 937.8 630.1 939.3 630.2 940.8 630.2 942.3 630.3 943.8 630.4 945.3 630.4 946.8 630.5 948.3 630.6 949.8 630.6 951.3 630.7 952.8 630.7 954.3 630.8 955.8 630.8 957.3 630.9 958.8 631.0 960.3 631.0 961.8 631.1 963.3 631.1 964.8 631.2 966.3 631.2 967.8 631.3 969.3 631.4 970.8 631.4 972.3 631.5 973.8 631.5 975.3 631.6 976.8 631.6 978.3 631.7 979.8 631.7 981.3 631.8 982.8 631.8 984.3 631.9 985.8 631.9 987.3 632.0 988.8 632.0 990.3 632.1 991.8 632.1 993.3 632.2 994.8 632.2 996.3 632.3 997.8 632.3 999.3 632.4 1000.8 632.4 1002.3 632.5 1003.8 632.5 1005.3 632.6 1006.8 632.6 1008.3 632.7 1009.8 632.7 1011.3 632.8 1012.8 632.8 1014.3 632.9 1015.8 632.9 1017.3 632.9 1018.8 633.0 1020.3 633.0 1021.8 633.1 1023.3 633.1 1024.8 633.2 1026.3 633.2" stroke="#8000ff" stroke-width="2.6" fill="none" stroke-linejoin="round"/>
<path d="M188.7 238.0L188.7 239.5 188.6 241.0 188.6 242.5 188.6 244.0 188.6 245.5 188.5 247.0 188.5 248.5 188.5 250.0 188.5 251.5 188.5 253.0 188.5 254.5 188.5 256.0 188.5 257.5 188.5 259.0 188.5 260.5 188.5 262.0 188.5 263.5 188.5 265.0 188.5 266.5 188.5 268.0 188.5 269.5 188.6 271.0 188.6 272.5 188.6 274.0 188.6 275.5 188.7 277.0 188.7 278.5 188.7 280.0 188.8 281.5 188.8 283.0 188.8 284.5 188.9 286.0 188.9 287.5 188.9 289.0 189.0 290.5 189.0 292.0 189.1 293.5 189.1 295.0 189.2 296.5 189.2 298.0 189.3 299.6 189.4 301.1 189.4 302.6 189.5 304.1 189.5 305.6 189.6 307.1 189.7 308.6 189.7 310.1 189.8 311.6 189.9 313.1 189.9 314.6 190.0 316.1 190.1 317.6 190.2 319.1 190.2 320.6 190.3 322.1 190.4 323.6 190.5 325.1 190.6 326.6 190.6 328.1 190.7 329.6 190.8 331.1 190.9 332.7 191.0 334.2 191.1 335.7 191.2 337.2 191.3 338.7 191.4 340.2 191.5 341.7 191.5 343.2 191.6 344.7 191.7 346.2 191.8 347.7 191.9 349.2 192.0 350.7 192.1 352.2 192.2 353.7 192.3 355.2 192.4 356.7 192.6 358.2 192.7 359.7 192.8 361.2 192.9 362.7 193.0 364.2 193.1 365.7 193.2 367.2 193.3 368.7 193.4 370.2 193.5 371.7 193.6 373.2 193.7 374.7 193.9 376.2 194.0 377.7 194.1 379.2 194.2 380.7 194.3 382.2 194.4 383.7 194.5 385.2 194.7 386.7 194.8 388.2 194.9 389.7 195.0 391.2 195.1 392.7 195.2 394.2 195.4 395.7 195.5 397.2 195.6 398.7 195.7 400.2 195.8 401.7 195.9 403.2 196.1 404.7 196.2 406.2 196.3 407.7 196.4 409.2 196.5 410.7 196.7 412.2 196.8 413.7 196.9 415.2 197.0 416.7 197.1 418.2 197.2 419.7 197.4 421.2 197.5 422.7 197.6 424.1 197.7 425.6 197.8 427.1 197.9 428.6 198.1 430.1 198.2 431.6 198.3 433.1 198.4 434.6 198.5 436.1 198.6 437.6 198.8 439.1 198.9 440.5 199.0 442.0 199.1 443.5 199.2 445.0 199.3 446.5 199.4 448.0 199.5 449.5 199.6 451.0 199.7 452.5 199.9 453.9 200.0 455.4 200.1 456.9 200.2 458.4 200.3 459.9 200.4 461.4 200.5 462.9 200.6 464.4 200.7 465.9 200.8 467.4 200.9 468.9 201.0 470.4 201.1 471.8 201.2 473.3 201.3 474.8 201.4 476.3 201.5 477.8 201.5 479.3 201.6 480.8 201.7 482.3 201.8 483.8 201.9 485.3 202.0 486.8 202.1 488.3 202.1 489.8 202.2 491.3 202.3 492.8 202.4 494.3 202.5 495.8 202.5 497.3 202.6 498.8 202.7 500.3 202.8 501.8 202.8 503.3 202.9 504.9 203.0 506.4 203.0 507.9 203.1 509.4 203.1 510.9 203.2 512.4 203.3 513.9 203.3 515.4 203.4 517.0 203.4 518.5 203.5 520.0 203.5 521.5 203.6 523.0 203.6 524.6 203.6 526.1 203.7 527.6 203.7 529.1 203.8 530.7 203.8 532.2 203.8 533.7 203.9 535.3 203.9 536.8 204.0 538.3 204.0 539.9 204.0 541.4 204.1 542.9 204.1 544.4 204.2 546.0 204.3 547.5 204.3 549.0 204.4 550.6 204.5 552.1 204.6 553.6 204.7 555.1 204.8 556.6 204.9 558.1 205.1 559.7 205.2 561.2 205.4 562.7 205.5 564.2 205.7 565.7 205.9 567.2 206.1 568.7 206.4 570.1 206.6 571.6 206.8 573.1 207.1 574.6 207.4 576.0 207.7 577.5 208.0 579.0 208.4 580.4 208.8 581.9 209.1 583.3 209.6 584.7 210.0 586.2 210.5 587.6 210.9 588.9 211.5 590.3 212.0 591.7 212.6 593.0 213.2 594.3 213.9 595.6 214.5 596.8 215.3 598.0 216.0 599.2 216.8 600.4 217.7 601.5 218.6 602.5 219.5 603.6 220.5 604.6 221.6 605.5 222.6 606.4 223.8 607.2 225.0 608.0 226.2 608.8 227.5 609.5 228.8 610.2 230.1 610.9 231.5 611.5 232.9 612.1 234.3 612.7 235.7 613.3 237.1 613.9 238.5 614.4 240.0 615.0 241.4 615.6 242.8 616.2 244.2 616.8 245.6 617.4 247.0 618.0 248.4 618.6 249.8 619.2 251.1 619.8 252.5 620.5 253.9 621.1 255.2 621.7 256.6 622.4 257.9 623.0 259.3 623.7 260.6 624.4 262.0 625.0 263.3 625.7 264.6 626.4 266.0 627.1 267.3 627.8 268.6 628.4 270.0 629.1 271.3 629.8 272.6 630.5 273.9 631.2 275.3 632.0 276.6 632.7 277.9 633.4 279.3 634.1 280.6 634.8 281.9 635.5 283.3 636.3 284.6 637.0 286.0 637.7 287.3 638.4 288.6 639.2 290.0 639.9 291.3 640.7 292.6 641.4 294.0 642.2 295.3 643.0 296.6 643.7 297.9 644.5 299.2 645.3 300.5 646.1 301.8 646.9 303.1 647.7 304.4 648.5 305.7 649.3 307.0 650.1 308.2 651.0 309.5 651.8 310.7 652.6 312.0 653.5 313.2 654.4 314.4 655.3 315.6 656.2 316.8 657.1 318.0 658.0 319.2 658.9 320.3 659.8 321.5 660.8 322.6 661.7 323.7 662.7 324.8 663.7 325.9 664.6 327.0 665.6 328.1 666.6 329.2 667.7 330.2 668.7 331.3 669.7 332.3 670.8 333.3 671.8 334.3 672.9 335.3 673.9 336.3 675.0 337.3 676.1 338.3 677.2 339.3 678.3 340.3 679.4 341.2 680.5 342.2 681.6 343.1 682.7 344.1 683.9 345.0 685.0 346.0 686.2 346.9 687.3 347.9 688.5 348.8 689.6 349.7 690.8 350.7 691.9 351.6 693.1 352.5 694.3 353.4 695.5 354.4 696.7 355.3 697.8 356.2 699.0 357.1 700.2 358.1 701.4 359.0 702.6 359.9 703.8 360.8 705.0 361.8 706.2 362.7 707.4 363.7 708.6 364.6 709.8 365.5 711.0 366.5 712.2 367.4 713.4 368.4 714.6 369.3 715.8 370.3 717.0 371.2 718.2 372.2 719.4 373.2 720.5 374.2 721.7 375.1 722.9 376.1 724.1 377.1 725.2 378.1 726.4 379.1 727.5 380.1 728.7 381.1 729.8 382.1 731.0 383.2 732.1 384.2 733.2 385.2 734.3 386.3 735.4 387.3 736.5 388.4 737.6 389.4 738.6 390.5 739.7 391.6 740.7 392.7 741.8 393.8 742.8 394.9 743.8 396.0 744.8 397.1 745.8 398.2 746.8 399.4 747.7 400.5 748.7 401.7 749.6 402.9 750.5 404.1 751.4 405.2 752.3 406.4 753.2 407.7 754.0 408.9 754.9 410.1 755.7 411.4 756.5 412.6 757.3 413.9 758.1 415.2 758.8 416.5 759.6 417.8 760.3 419.1 761.0 420.4 761.7 421.7 762.4 423.1 763.0 424.4 763.7 425.7 764.3 427.1 764.9 428.5 765.5 429.9 766.1 431.2 766.7 432.6 767.3 434.0 767.8 435.4 768.4 436.8 768.9 438.2 769.4 439.7 769.9 441.1 770.4 442.5 770.9 444.0 771.4 445.4 771.9 446.8 772.4 448.3 772.8 449.7 773.3 451.2 773.7 452.6 774.1 454.1 774.6 455.5 775.0 457.0 775.4 458.5 775.8 459.9 776.2 461.4 776.6 462.9 777.0 464.3 777.4 465.8 777.8 467.3 778.1 468.7 778.5 470.2 778.9 471.7 779.2 473.1 779.6 474.6 779.9 476.1 780.3 477.5 780.6 479.0 781.0 480.5 781.3 481.9 781.6 483.4 782.0 484.9 782.3 486.4 782.6 487.8 782.9 489.3 783.2 490.8 783.5 492.3 783.8 493.7 784.1 495.2 784.4 496.7 784.7 498.2 784.9 499.7 785.2 501.1 785.5 502.6 785.8 504.1 786.0 505.6 786.3 507.1 786.5 508.5 786.8 510.0 787.0 511.5 787.3 513.0 787.5 514.5 787.8 516.0 788.0 517.4 788.2 518.9 788.4 520.4 788.7 521.9 788.9 523.4 789.1 524.9 789.3 526.4 789.5 527.8 789.7 529.3 789.9 530.8 790.1 532.3 790.3 533.8 790.5 535.3 790.7 536.8 790.9 538.3 791.1 539.8 791.2 541.2 791.4 542.7 791.6 544.2 791.8 545.7 791.9 547.2 792.1 548.7 792.3 550.2 792.4 551.7 792.6 553.2 792.7 554.7 792.9 556.2 793.0 557.7 793.2 559.2 793.3 560.6 793.5 562.1 793.6 563.6 793.8 565.1 793.9 566.6 794.0 568.1 794.2 569.6 794.3 571.1 794.4 572.6 794.5 574.1 794.7 575.6 794.8 577.1 794.9 578.6 795.0 580.1 795.1 581.6 795.3 583.1 795.4 584.6 795.5 586.1 795.6 587.6 795.7 589.1 795.8 590.6 795.9 592.1 796.0 593.6 796.1 595.1 796.2 596.6 796.3 598.1 796.4 599.6 796.5 601.1 796.6 602.6 796.7 604.1 796.8 605.6 796.9 607.1 797.0 608.6 797.1 610.1 797.2 611.6 797.2 613.1 797.3 614.6 797.4 616.1 797.5 617.6 797.6 619.1 797.7 620.6 797.7 622.1 797.8 623.6 797.9 625.1 798.0 626.6 798.1 628.1 798.2 629.6 798.2 631.1 798.3 632.6 798.4 634.1 798.5 635.6 798.6 637.1 798.6 638.6 798.7 640.1 798.8 641.6 798.9 643.1 798.9 644.6 799.0 646.1 799.1 647.6 799.2 649.1 799.2 650.6 799.3 652.1 799.4 653.6 799.5 655.1 799.5 656.6 799.6 658.1 799.7 659.6 799.8 661.2 799.8 662.7 799.9 664.2 800.0 665.7 800.1 667.2 800.1 668.7 800.2 670.2 800.3 671.7 800.3 673.2 800.4 674.7 800.5 676.2 800.6 677.7 800.6 679.2 800.7 680.7 800.8 682.2 800.8 683.7 800.9 685.2 801.0 686.7 801.0 688.2 801.1 689.7 801.2 691.2 801.2 692.7 801.3 694.2 801.4 695.7 801.4 697.2 801.5 698.7 801.6 700.2 801.6 701.7 801.7 703.2 801.8 704.7 801.8 706.2 801.9 707.7 802.0 709.2 802.0 710.7 802.1 712.2 802.1 713.7 802.2 715.2 802.3 716.7 802.3 718.2 802.4 719.7 802.5 721.2 802.5 722.7 802.6 724.2 802.6 725.7 802.7 727.2 802.8 728.7 802.8 730.2 802.9 731.7 802.9 733.2 803.0 734.7 803.1 736.2 803.1 737.8 803.2 739.3 803.2 740.8 803.3 742.3 803.3 743.8 803.4 745.3 803.5 746.8 803.5 748.3 803.6 749.8 803.6 751.3 803.7 752.8 803.7 754.3 803.8 755.8 803.8 757.3 803.9 758.8 803.9 760.3 804.0 761.8 804.1 763.3 804.1 764.8 804.2 766.3 804.2 767.8 804.3 769.3 804.3 770.8 804.4 772.3 804.4 773.8 804.5 775.3 804.5 776.8 804.6 778.3 804.6 779.8 804.7 781.3 804.7 782.8 804.8 784.3 804.8 785.8 804.9 787.3 804.9 788.8 805.0 790.3 805.0 791.8 805.1 793.3 805.1 794.8 805.2 796.3 805.2 797.8 805.3 799.3 805.3 800.9 805.3 802.4 805.4 803.9 805.4 805.4 805.5 806.9 805.5 808.4 805.6 809.9 805.6 811.4 805.7 812.9 805.7 814.4 805.8 815.9 805.8 817.4 805.8 818.9 805.9 820.4 805.9 821.9 806.0 823.4 806.0 824.9 806.1 826.4 806.1 827.9 806.1 829.4 806.2 830.9 806.2 832.4 806.3 833.9 806.3 835.4 806.3 836.9 806.4 838.4 806.4 839.9 806.5 841.4 806.5 842.9 806.5 844.4 806.6 845.9 806.6 847.4 806.7 848.9 806.7 850.4 806.7 851.9 806.8 853.4 806.8 854.9 806.9 856.4 806.9 858.0 806.9 859.5 807.0 861.0 807.0 862.5 807.0 864.0 807.1 865.5 807.1 867.0 807.1 868.5 807.2 870.0 807.2 871.5 807.3 873.0 807.3 874.5 807.3 876.0 807.4 877.5 807.4 879.0 807.4 880.5 807.5 882.0 807.5 883.5 807.5 885.0 807.6 886.5 807.6 888.0 807.6 889.5 807.7 891.0 807.7 892.5 807.7 894.0 807.7 895.5 807.8 897.0 807.8 898.5 807.8 900.0 807.9 901.5 807.9 903.0 807.9 904.5 808.0 906.0 808.0 907.5 808.0 909.1 808.0 910.6 808.1 912.1 808.1 913.6 808.1 915.1 808.2 916.6 808.2 918.1 808.2 919.6 808.2 921.1 808.3 922.6 808.3 924.1 808.3 925.6 808.4 927.1 808.4 928.6 808.4 930.1 808.4 931.6 808.5 933.1 808.5 934.6 808.5 936.1 808.5 937.6 808.6 939.1 808.6 940.6 808.6 942.1 808.6 943.6 808.7 945.1 808.7 946.6 808.7 948.1 808.7 949.6 808.8 951.1 808.8 952.6 808.8 954.1 808.8 955.6 808.8 957.1 808.9 958.7 808.9 960.2 808.9 961.7 808.9 963.2 809.0 964.7 809.0 966.2 809.0 967.7 809.0 969.2 809.0 970.7 809.1 972.2 809.1 973.7 809.1 975.2 809.1 976.7 809.1 978.2 809.2 979.7 809.2 981.2 809.2 982.7 809.2 984.2 809.2 985.7 809.3 987.2 809.3 988.7 809.3 990.2 809.3 991.7 809.3 993.2 809.4 994.7 809.4 996.2 809.4 997.7 809.4 999.2 809.4 1000.7 809.4 1002.2 809.5 1003.7 809.5 1005.3 809.5 1006.8 809.5 1008.3 809.5 1009.8 809.5 1011.3 809.6 1012.8 809.6 1014.3 809.6 1015.8 809.6 1017.3 809.6 1018.8 809.6 1020.3 809.6 1021.8 809.7 1023.3 809.7 1024.8 809.7 1026.3 809.7" stroke="#800000" stroke-width="2.6" fill="none" stroke-linejoin="round"/>
<path d="M188.7 238.0L188.6 239.5 188.6 241.0 188.5 242.5 188.5 244.0 188.4 245.5 188.4 247.0 188.3 248.5 188.3 250.0 188.2 251.5 188.2 253.0 188.2 254.5 188.2 256.0 188.2 257.5 188.1 259.0 188.1 260.5 188.1 262.0 188.1 263.5 188.1 265.0 188.1 266.5 188.2 268.0 188.2 269.5 188.2 271.0 188.2 272.5 188.2 274.0 188.3 275.5 188.3 277.0 188.3 278.5 188.4 280.0 188.4 281.5 188.5 283.0 188.5 284.5 188.6 286.0 188.6 287.5 188.7 289.0 188.7 290.5 188.8 292.0 188.9 293.5 188.9 295.0 189.0 296.5 189.1 298.0 189.2 299.5 189.3 301.0 189.3 302.5 189.4 304.0 189.5 305.5 189.6 307.0 189.7 308.5 189.8 310.0 189.9 311.6 190.0 313.1 190.1 314.6 190.2 316.1 190.3 317.6 190.4 319.1 190.5 320.6 190.6 322.1 190.8 323.6 190.9 325.1 191.0 326.6 191.1 328.1 191.2 329.6 191.4 331.1 191.5 332.6 191.6 334.1 191.7 335.6 191.9 337.1 192.0 338.6 192.1 340.1 192.3 341.6 192.4 343.1 192.5 344.6 192.7 346.1 192.8 347.6 193.0 349.2 193.1 350.7 193.2 352.2 193.4 353.7 193.5 355.2 193.7 356.7 193.8 358.2 194.0 359.7 194.1 361.2 194.2 362.7 194.4 364.2 194.5 365.7 194.7 367.2 194.8 368.7 195.0 370.2 195.1 371.7 195.3 373.2 195.4 374.7 195.6 376.2 195.7 377.7 195.9 379.2 196.0 380.7 196.2 382.2 196.3 383.7 196.5 385.2 196.6 386.7 196.8 388.2 196.9 389.7 197.1 391.2 197.2 392.7 197.4 394.2 197.5 395.7 197.7 397.1 197.8 398.6 197.9 400.1 198.1 401.6 198.2 403.1 198.4 404.6 198.5 406.1 198.7 407.6 198.8 409.1 198.9 410.6 199.1 412.1 199.2 413.6 199.3 415.1 199.5 416.6 199.6 418.1 199.7 419.5 199.9 421.0 200.0 422.5 200.1 424.0 200.2 425.5 200.4 427.0 200.5 428.5 200.6 430.0 200.7 431.5 200.8 432.9 201.0 434.4 201.1 435.9 201.2 437.4 201.3 438.9 201.4 440.4 201.5 441.9 201.6 443.3 201.7 444.8 201.8 446.3 202.0 447.8 202.1 449.3 202.2 450.8 202.3 452.3 202.4 453.7 202.5 455.2 202.6 456.7 202.7 458.2 202.8 459.7 202.9 461.2 203.0 462.7 203.1 464.1 203.2 465.6 203.3 467.1 203.4 468.6 203.5 470.1 203.6 471.6 203.7 473.1 203.8 474.6 203.8 476.0 203.9 477.5 204.0 479.0 204.1 480.5 204.2 482.0 204.3 483.5 204.4 485.0 204.5 486.5 204.6 488.0 204.7 489.5 204.8 491.0 204.9 492.5 205.0 493.9 205.1 495.4 205.2 496.9 205.3 498.4 205.4 499.9 205.5 501.4 205.6 502.9 205.7 504.4 205.8 505.9 205.9 507.4 206.0 508.9 206.1 510.5 206.2 512.0 206.3 513.5 206.4 515.0 206.5 516.5 206.6 518.0 206.7 519.5 206.8 521.0 206.9 522.5 207.0 524.0 207.1 525.6 207.2 527.1 207.3 528.6 207.4 530.1 207.5 531.6 207.7 533.2 207.8 534.7 207.9 536.2 208.0 537.7 208.1 539.3 208.2 540.8 208.4 542.3 208.5 543.9 208.6 545.4 208.7 546.9 208.9 548.5 209.0 550.0 209.1 551.5 209.3 553.1 209.4 554.6 209.5 556.2 209.7 557.7 209.8 559.3 209.9 560.8 210.1 562.4 210.2 563.9 210.4 565.5 210.6 567.0 210.7 568.5 210.9 570.1 211.1 571.6 211.3 573.1 211.6 574.6 211.8 576.1 212.1 577.6 212.4 579.0 212.7 580.5 213.1 581.9 213.4 583.3 213.8 584.7 214.3 586.1 214.7 587.4 215.2 588.7 215.8 590.0 216.3 591.3 217.0 592.5 217.6 593.7 218.3 594.9 219.1 596.1 219.9 597.2 220.7 598.2 221.6 599.3 222.5 600.3 223.5 601.2 224.6 602.1 225.7 603.0 226.9 603.8 228.1 604.6 229.4 605.3 230.7 606.0 232.1 606.7 233.5 607.3 235.0 607.9 236.4 608.5 237.9 609.1 239.4 609.6 240.9 610.2 242.5 610.7 244.0 611.3 245.5 611.8 247.0 612.4 248.4 613.0 249.9 613.6 251.3 614.2 252.7 614.8 254.1 615.4 255.5 616.1 256.8 616.7 258.2 617.3 259.5 618.0 260.9 618.7 262.2 619.3 263.5 620.0 264.8 620.7 266.1 621.3 267.5 622.0 268.8 622.6 270.1 623.3 271.4 623.9 272.8 624.5 274.1 625.2 275.4 625.8 276.8 626.4 278.2 627.0 279.5 627.6 280.9 628.2 282.3 628.7 283.7 629.3 285.1 629.9 286.4 630.5 287.8 631.0 289.2 631.6 290.7 632.1 292.1 632.7 293.5 633.2 294.9 633.7 296.3 634.3 297.7 634.8 299.2 635.3 300.6 635.9 302.0 636.4 303.4 636.9 304.9 637.5 306.3 638.0 307.7 638.5 309.1 639.0 310.6 639.6 312.0 640.1 313.4 640.7 314.9 641.2 316.3 641.7 317.7 642.3 319.1 642.8 320.5 643.4 322.0 643.9 323.4 644.5 324.8 645.1 326.2 645.6 327.6 646.2 329.0 646.8 330.4 647.4 331.7 648.0 333.1 648.6 334.5 649.2 335.9 649.9 337.2 650.5 338.6 651.1 339.9 651.8 341.3 652.5 342.6 653.1 343.9 653.8 345.3 654.5 346.6 655.2 347.9 655.9 349.2 656.7 350.4 657.4 351.7 658.2 353.0 658.9 354.2 659.7 355.5 660.5 356.7 661.3 357.9 662.2 359.1 663.0 360.3 663.9 361.5 664.8 362.7 665.7 363.9 666.6 365.0 667.5 366.2 668.4 367.3 669.4 368.4 670.3 369.5 671.3 370.7 672.3 371.8 673.3 372.8 674.3 373.9 675.3 375.0 676.4 376.1 677.4 377.1 678.4 378.2 679.5 379.2 680.6 380.3 681.6 381.3 682.7 382.4 683.8 383.4 684.9 384.4 686.0 385.4 687.1 386.5 688.2 387.5 689.3 388.5 690.5 389.5 691.6 390.5 692.7 391.5 693.8 392.5 695.0 393.5 696.1 394.5 697.2 395.5 698.4 396.5 699.5 397.6 700.6 398.6 701.8 399.6 702.9 400.6 704.0 401.6 705.2 402.6 706.3 403.6 707.4 404.6 708.5 405.7 709.7 406.7 710.8 407.7 711.9 408.8 713.0 409.8 714.1 410.8 715.2 411.9 716.3 413.0 717.3 414.0 718.4 415.1 719.5 416.2 720.5 417.3 721.5 418.3 722.6 419.4 723.6 420.6 724.6 421.7 725.6 422.8 726.6 423.9 727.6 425.1 728.5 426.2 729.5 427.4 730.4 428.6 731.4 429.8 732.3 431.0 733.2 432.2 734.1 433.4 734.9 434.6 735.8 435.8 736.7 437.1 737.5 438.3 738.3 439.6 739.1 440.8 740.0 442.1 740.7 443.4 741.5 444.7 742.3 446.0 743.1 447.3 743.8 448.6 744.6 449.9 745.3 451.2 746.0 452.5 746.7 453.8 747.5 455.2 748.1 456.5 748.8 457.9 749.5 459.2 750.2 460.6 750.8 461.9 751.5 463.3 752.1 464.6 752.8 466.0 753.4 467.4 754.0 468.8 754.6 470.2 755.2 471.5 755.8 472.9 756.4 474.3 756.9 475.7 757.5 477.1 758.1 478.5 758.6 479.9 759.2 481.3 759.7 482.7 760.2 484.1 760.8 485.5 761.3 486.9 761.8 488.3 762.3 489.7 762.8 491.1 763.3 492.6 763.8 494.0 764.3 495.4 764.7 496.8 765.2 498.2 765.7 499.7 766.1 501.1 766.5 502.5 767.0 504.0 767.4 505.4 767.8 506.8 768.3 508.3 768.7 509.7 769.1 511.1 769.5 512.6 769.9 514.0 770.3 515.5 770.7 516.9 771.1 518.4 771.4 519.8 771.8 521.2 772.2 522.7 772.5 524.2 772.9 525.6 773.2 527.1 773.6 528.5 773.9 530.0 774.2 531.4 774.6 532.9 774.9 534.4 775.2 535.8 775.5 537.3 775.8 538.8 776.1 540.2 776.4 541.7 776.7 543.2 777.0 544.6 777.3 546.1 777.6 547.6 777.9 549.1 778.1 550.5 778.4 552.0 778.7 553.5 778.9 555.0 779.2 556.5 779.4 557.9 779.7 559.4 779.9 560.9 780.2 562.4 780.4 563.9 780.7 565.4 780.9 566.8 781.1 568.3 781.3 569.8 781.6 571.3 781.8 572.8 782.0 574.3 782.2 575.8 782.4 577.3 782.6 578.8 782.8 580.3 783.0 581.8 783.2 583.2 783.4 584.7 783.6 586.2 783.8 587.7 783.9 589.2 784.1 590.7 784.3 592.2 784.5 593.7 784.7 595.2 784.8 596.7 785.0 598.2 785.2 599.7 785.3 601.2 785.5 602.7 785.7 604.2 785.8 605.7 786.0 607.2 786.1 608.7 786.3 610.2 786.4 611.7 786.6 613.2 786.7 614.7 786.9 616.3 787.0 617.8 787.2 619.3 787.3 620.8 787.4 622.3 787.6 623.8 787.7 625.3 787.8 626.8 788.0 628.3 788.1 629.8 788.3 631.3 788.4 632.8 788.5 634.3 788.6 635.8 788.8 637.3 788.9 638.8 789.0 640.3 789.2 641.8 789.3 643.3 789.4 644.8 789.5 646.3 789.7 647.8 789.8 649.3 789.9 650.8 790.0 652.3 790.1 653.8 790.3 655.3 790.4 656.8 790.5 658.3 790.6 659.9 790.7 661.4 790.9 662.9 791.0 664.4 791.1 665.9 791.2 667.4 791.3 668.9 791.4 670.4 791.5 671.9 791.6 673.4 791.8 674.9 791.9 676.4 792.0 677.9 792.1 679.4 792.2 680.9 792.3 682.4 792.4 683.9 792.5 685.4 792.6 686.9 792.7 688.4 792.8 689.9 792.9 691.4 793.0 692.9 793.1 694.4 793.2 695.9 793.3 697.4 793.4 698.9 793.5 700.4 793.6 701.9 793.7 703.4 793.8 704.9 793.9 706.4 794.0 707.9 794.1 709.4 794.2 710.9 794.3 712.4 794.4 713.9 794.4 715.4 794.5 716.9 794.6 718.4 794.7 719.9 794.8 721.4 794.9 722.9 795.0 724.4 795.1 725.9 795.2 727.4 795.2 728.9 795.3 730.4 795.4 731.9 795.5 733.4 795.6 734.9 795.7 736.4 795.7 737.9 795.8 739.4 795.9 740.9 796.0 742.4 796.0 743.9 796.1 745.4 796.2 746.9 796.3 748.4 796.4 749.9 796.4 751.4 796.5 752.9 796.6 754.4 796.7 755.9 796.7 757.4 796.8 758.9 796.9 760.4 796.9 761.9 797.0 763.4 797.1 764.9 797.2 766.4 797.2 767.9 797.3 769.4 797.4 770.9 797.4 772.4 797.5 773.9 797.6 775.4 797.6 776.9 797.7 778.4 797.8 779.9 797.8 781.4 797.9 782.9 798.0 784.4 798.0 785.9 798.1 787.4 798.1 788.9 798.2 790.4 798.3 791.9 798.3 793.4 798.4 794.9 798.4 796.4 798.5 797.9 798.6 799.4 798.6 800.9 798.7 802.4 798.7 803.9 798.8 805.4 798.8 806.9 798.9 808.4 799.0 809.9 799.0 811.4 799.1 812.9 799.1 814.4 799.2 815.9 799.2 817.4 799.3 818.9 799.3 820.4 799.4 821.9 799.4 823.4 799.5 824.9 799.5 826.4 799.6 827.9 799.6 829.4 799.7 830.9 799.7 832.4 799.8 833.9 799.8 835.4 799.9 836.9 799.9 838.4 800.0 839.9 800.0 841.4 800.1 842.9 800.1 844.4 800.2 845.9 800.2 847.4 800.3 848.9 800.3 850.4 800.3 851.9 800.4 853.4 800.4 854.9 800.5 856.4 800.5 857.9 800.6 859.4 800.6 860.9 800.6 862.4 800.7 863.9 800.7 865.4 800.8 866.9 800.8 868.4 800.8 869.9 800.9 871.4 800.9 872.9 801.0 874.4 801.0 875.9 801.0 877.4 801.1 878.9 801.1 880.4 801.2 881.9 801.2 883.5 801.2 885.0 801.3 886.5 801.3 888.0 801.3 889.5 801.4 891.0 801.4 892.5 801.4 894.0 801.5 895.5 801.5 897.0 801.6 898.5 801.6 900.0 801.6 901.5 801.7 903.0 801.7 904.5 801.7 906.0 801.8 907.5 801.8 909.0 801.8 910.5 801.9 912.0 801.9 913.5 801.9 915.0 802.0 916.5 802.0 918.0 802.0 919.5 802.1 921.0 802.1 922.5 802.1 924.0 802.1 925.5 802.2 927.0 802.2 928.5 802.2 930.0 802.3 931.5 802.3 933.0 802.3 934.5 802.4 936.0 802.4 937.5 802.4 939.0 802.4 940.5 802.5 942.0 802.5 943.5 802.5 945.0 802.6 946.5 802.6 948.0 802.6 949.5 802.6 951.0 802.7 952.5 802.7 954.1 802.7 955.6 802.8 957.1 802.8 958.6 802.8 960.1 802.8 961.6 802.9 963.1 802.9 964.6 802.9 966.1 802.9 967.6 803.0 969.1 803.0 970.6 803.0 972.1 803.1 973.6 803.1 975.1 803.1 976.6 803.1 978.1 803.2 979.6 803.2 981.1 803.2 982.6 803.2 984.1 803.3 985.6 803.3 987.1 803.3 988.6 803.3 990.2 803.4 991.7 803.4 993.2 803.4 994.7 803.5 996.2 803.5 997.7 803.5 999.2 803.5 1000.7 803.6 1002.2 803.6 1003.7 803.6 1005.2 803.6 1006.7 803.7 1008.2 803.7 1009.7 803.7 1011.2 803.7 1012.7 803.8 1014.2 803.8 1015.8 803.8 1017.3 803.8 1018.8 803.9 1020.3 803.9 1021.8 803.9 1023.3 803.9 1024.8 804.0 1026.3 804.0" stroke="#000080" stroke-width="2.6" fill="none" stroke-linejoin="round"/>
<path d="M188.7 238.0L188.6 239.5 188.5 241.0 188.5 242.5 188.4 244.0 188.4 245.5 188.3 247.0 188.3 248.5 188.2 250.1 188.2 251.6 188.2 253.1 188.1 254.6 188.1 256.1 188.1 257.6 188.1 259.1 188.1 260.6 188.1 262.1 188.1 263.6 188.2 265.1 188.2 266.6 188.2 268.1 188.2 269.6 188.3 271.1 188.3 272.6 188.4 274.1 188.4 275.6 188.5 277.1 188.5 278.6 188.6 280.1 188.7 281.6 188.8 283.1 188.8 284.6 188.9 286.1 189.0 287.6 189.1 289.1 189.2 290.6 189.3 292.1 189.4 293.6 189.5 295.1 189.6 296.6 189.7 298.1 189.9 299.6 190.0 301.1 190.1 302.6 190.2 304.1 190.4 305.6 190.5 307.1 190.6 308.6 190.8 310.1 190.9 311.6 191.1 313.1 191.2 314.6 191.4 316.1 191.5 317.6 191.7 319.1 191.8 320.6 192.0 322.1 192.2 323.6 192.3 325.0 192.5 326.5 192.7 328.0 192.8 329.5 193.0 331.0 193.2 332.5 193.4 334.0 193.6 335.5 193.7 337.0 193.9 338.5 194.1 340.0 194.3 341.5 194.5 343.0 194.7 344.5 194.9 346.0 195.1 347.5 195.3 349.0 195.5 350.4 195.6 351.9 195.8 353.4 196.0 354.9 196.2 356.4 196.4 357.9 196.6 359.4 196.8 360.9 197.0 362.4 197.2 363.9 197.4 365.4 197.6 366.9 197.8 368.4 198.0 369.8 198.2 371.3 198.4 372.8 198.6 374.3 198.9 375.8 199.1 377.3 199.3 378.8 199.5 380.3 199.7 381.8 199.8 383.3 200.0 384.8 200.2 386.3 200.4 387.7 200.6 389.2 200.8 390.7 201.0 392.2 201.2 393.7 201.4 395.2 201.6 396.7 201.8 398.2 202.0 399.7 202.2 401.2 202.3 402.6 202.5 404.1 202.7 405.6 202.9 407.1 203.1 408.6 203.2 410.1 203.4 411.6 203.6 413.1 203.8 414.6 203.9 416.1 204.1 417.5 204.2 419.0 204.4 420.5 204.6 422.0 204.7 423.5 204.9 425.0 205.0 426.5 205.2 428.0 205.3 429.5 205.5 431.0 205.6 432.4 205.7 433.9 205.9 435.4 206.0 436.9 206.1 438.4 206.3 439.9 206.4 441.4 206.5 442.9 206.6 444.4 206.8 445.9 206.9 447.3 207.0 448.8 207.1 450.3 207.3 451.8 207.4 453.3 207.5 454.8 207.6 456.3 207.7 457.8 207.8 459.3 207.9 460.8 208.1 462.3 208.2 463.7 208.3 465.2 208.4 466.7 208.5 468.2 208.6 469.7 208.7 471.2 208.8 472.7 209.0 474.2 209.1 475.7 209.2 477.2 209.3 478.7 209.4 480.2 209.5 481.7 209.6 483.2 209.8 484.7 209.9 486.1 210.0 487.6 210.1 489.1 210.2 490.6 210.3 492.1 210.5 493.6 210.6 495.1 210.7 496.6 210.8 498.1 211.0 499.6 211.1 501.1 211.2 502.6 211.4 504.1 211.5 505.6 211.6 507.1 211.8 508.6 211.9 510.1 212.1 511.6 212.2 513.1 212.4 514.6 212.5 516.1 212.7 517.6 212.8 519.1 213.0 520.6 213.1 522.1 213.3 523.7 213.5 525.2 213.6 526.7 213.8 528.2 214.0 529.7 214.2 531.2 214.3 532.7 214.5 534.2 214.7 535.7 214.9 537.2 215.1 538.7 215.3 540.2 215.5 541.8 215.7 543.3 215.9 544.8 216.2 546.3 216.4 547.8 216.6 549.3 216.8 550.8 217.1 552.4 217.3 553.9 217.5 555.4 217.8 556.9 218.1 558.4 218.3 559.9 218.6 561.5 218.8 563.0 219.1 564.5 219.4 566.0 219.7 567.5 220.0 569.0 220.3 570.5 220.7 572.0 221.0 573.5 221.4 574.9 221.8 576.4 222.2 577.8 222.7 579.2 223.1 580.6 223.6 582.0 224.1 583.3 224.7 584.6 225.2 585.9 225.8 587.2 226.5 588.5 227.1 589.7 227.8 590.9 228.6 592.0 229.3 593.2 230.1 594.3 231.0 595.3 231.9 596.4 232.8 597.3 233.8 598.3 234.8 599.2 235.9 600.0 237.0 600.9 238.1 601.7 239.3 602.4 240.5 603.2 241.8 603.8 243.0 604.5 244.4 605.2 245.7 605.8 247.1 606.4 248.5 606.9 249.9 607.5 251.3 608.0 252.8 608.5 254.2 609.0 255.7 609.5 257.2 609.9 258.7 610.4 260.2 610.8 261.8 611.2 263.3 611.7 264.8 612.1 266.4 612.5 267.9 612.9 269.5 613.3 271.0 613.7 272.5 614.1 274.1 614.5 275.6 614.9 277.1 615.4 278.6 615.8 280.1 616.2 281.6 616.7 283.0 617.1 284.5 617.6 286.0 618.0 287.4 618.5 288.9 618.9 290.3 619.4 291.8 619.9 293.2 620.3 294.6 620.8 296.1 621.3 297.5 621.7 298.9 622.2 300.3 622.7 301.8 623.1 303.2 623.6 304.6 624.1 306.0 624.5 307.4 625.0 308.8 625.5 310.2 625.9 311.7 626.4 313.1 626.8 314.5 627.3 315.9 627.7 317.3 628.2 318.8 628.6 320.2 629.1 321.6 629.5 323.0 629.9 324.5 630.3 325.9 630.8 327.4 631.2 328.8 631.6 330.2 632.0 331.7 632.4 333.1 632.8 334.6 633.2 336.0 633.6 337.5 634.0 338.9 634.4 340.4 634.8 341.8 635.2 343.3 635.7 344.7 636.1 346.2 636.5 347.6 636.9 349.0 637.3 350.5 637.8 351.9 638.2 353.4 638.7 354.8 639.1 356.2 639.6 357.6 640.0 359.1 640.5 360.5 641.0 361.9 641.5 363.3 642.0 364.7 642.5 366.1 643.0 367.5 643.5 368.9 644.1 370.3 644.6 371.7 645.2 373.0 645.8 374.4 646.4 375.8 647.0 377.1 647.6 378.5 648.2 379.8 648.9 381.2 649.5 382.5 650.2 383.8 650.9 385.1 651.6 386.5 652.3 387.8 653.0 389.1 653.7 390.4 654.4 391.7 655.1 393.0 655.9 394.3 656.6 395.6 657.4 396.9 658.2 398.1 658.9 399.4 659.7 400.7 660.5 402.0 661.3 403.2 662.1 404.5 662.9 405.8 663.7 407.0 664.6 408.3 665.4 409.5 666.2 410.8 667.1 412.0 667.9 413.3 668.8 414.5 669.6 415.7 670.5 417.0 671.4 418.2 672.2 419.4 673.1 420.7 674.0 421.9 674.9 423.1 675.8 424.4 676.6 425.6 677.5 426.8 678.4 428.0 679.3 429.3 680.2 430.5 681.1 431.7 682.0 432.9 682.9 434.1 683.9 435.4 684.8 436.6 685.7 437.8 686.6 439.0 687.5 440.2 688.4 441.4 689.3 442.7 690.2 443.9 691.1 445.1 692.0 446.3 692.9 447.5 693.8 448.7 694.7 450.0 695.6 451.2 696.5 452.4 697.4 453.6 698.3 454.8 699.2 456.1 700.1 457.3 701.0 458.5 701.9 459.8 702.8 461.0 703.6 462.2 704.5 463.5 705.4 464.7 706.2 465.9 707.1 467.2 708.0 468.4 708.8 469.7 709.6 470.9 710.5 472.2 711.3 473.4 712.1 474.7 713.0 475.9 713.8 477.2 714.6 478.5 715.4 479.7 716.2 481.0 716.9 482.3 717.7 483.6 718.5 484.9 719.2 486.1 720.0 487.4 720.7 488.7 721.5 490.0 722.2 491.3 722.9 492.6 723.6 494.0 724.3 495.3 725.0 496.6 725.6 497.9 726.3 499.3 727.0 500.6 727.6 501.9 728.3 503.3 728.9 504.6 729.5 506.0 730.1 507.3 730.7 508.7 731.3 510.0 731.9 511.4 732.5 512.8 733.1 514.2 733.6 515.5 734.2 516.9 734.7 518.3 735.3 519.7 735.8 521.1 736.3 522.5 736.9 523.9 737.4 525.3 737.9 526.7 738.4 528.1 738.9 529.5 739.4 530.9 739.8 532.3 740.3 533.7 740.8 535.1 741.2 536.5 741.7 538.0 742.1 539.4 742.6 540.8 743.0 542.3 743.4 543.7 743.8 545.1 744.3 546.6 744.7 548.0 745.1 549.5 745.5 550.9 745.9 552.3 746.2 553.8 746.6 555.3 747.0 556.7 747.4 558.2 747.7 559.6 748.1 561.1 748.5 562.5 748.8 564.0 749.1 565.5 749.5 566.9 749.8 568.4 750.2 569.9 750.5 571.3 750.8 572.8 751.1 574.3 751.5 575.8 751.8 577.2 752.1 578.7 752.4 580.2 752.7 581.7 753.0 583.2 753.3 584.7 753.6 586.1 753.9 587.6 754.1 589.1 754.4 590.6 754.7 592.1 755.0 593.6 755.3 595.1 755.5 596.6 755.8 598.0 756.1 599.5 756.3 601.0 756.6 602.5 756.8 604.0 757.1 605.5 757.4 607.0 757.6 608.5 757.9 610.0 758.1 611.5 758.4 613.0 758.6 614.5 758.9 616.0 759.1 617.4 759.3 618.9 759.6 620.4 759.8 621.9 760.1 623.4 760.3 624.9 760.5 626.4 760.8 627.9 761.0 629.4 761.2 630.9 761.5 632.4 761.7 633.9 761.9 635.4 762.2 636.9 762.4 638.4 762.6 639.9 762.8 641.3 763.0 642.8 763.3 644.3 763.5 645.8 763.7 647.3 763.9 648.8 764.1 650.3 764.4 651.8 764.6 653.3 764.8 654.8 765.0 656.3 765.2 657.8 765.4 659.3 765.6 660.8 765.8 662.3 766.0 663.7 766.2 665.2 766.4 666.7 766.6 668.2 766.8 669.7 767.0 671.2 767.2 672.7 767.4 674.2 767.6 675.7 767.8 677.2 768.0 678.7 768.2 680.2 768.4 681.7 768.6 683.2 768.8 684.7 769.0 686.2 769.2 687.6 769.3 689.1 769.5 690.6 769.7 692.1 769.9 693.6 770.1 695.1 770.3 696.6 770.4 698.1 770.6 699.6 770.8 701.1 771.0 702.6 771.1 704.1 771.3 705.6 771.5 707.1 771.7 708.6 771.8 710.1 772.0 711.5 772.2 713.0 772.3 714.5 772.5 716.0 772.7 717.5 772.8 719.0 773.0 720.5 773.2 722.0 773.3 723.5 773.5 725.0 773.6 726.5 773.8 728.0 773.9 729.5 774.1 731.0 774.3 732.5 774.4 734.0 774.6 735.4 774.7 736.9 774.9 738.4 775.0 739.9 775.2 741.4 775.3 742.9 775.5 744.4 775.6 745.9 775.8 747.4 775.9 748.9 776.0 750.4 776.2 751.9 776.3 753.4 776.5 754.9 776.6 756.4 776.8 757.9 776.9 759.4 777.0 760.9 777.2 762.3 777.3 763.8 777.4 765.3 777.6 766.8 777.7 768.3 777.8 769.8 778.0 771.3 778.1 772.8 778.2 774.3 778.4 775.8 778.5 777.3 778.6 778.8 778.7 780.3 778.9 781.8 779.0 783.3 779.1 784.8 779.2 786.3 779.4 787.8 779.5 789.3 779.6 790.8 779.7 792.2 779.8 793.7 779.9 795.2 780.1 796.7 780.2 798.2 780.3 799.7 780.4 801.2 780.5 802.7 780.6 804.2 780.8 805.7 780.9 807.2 781.0 808.7 781.1 810.2 781.2 811.7 781.3 813.2 781.4 814.7 781.5 816.2 781.6 817.7 781.7 819.2 781.8 820.7 781.9 822.2 782.0 823.7 782.1 825.2 782.2 826.6 782.3 828.1 782.4 829.6 782.5 831.1 782.6 832.6 782.7 834.1 782.8 835.6 782.9 837.1 783.0 838.6 783.1 840.1 783.2 841.6 783.3 843.1 783.4 844.6 783.5 846.1 783.6 847.6 783.7 849.1 783.8 850.6 783.9 852.1 784.0 853.6 784.0 855.1 784.1 856.6 784.2 858.1 784.3 859.6 784.4 861.1 784.5 862.6 784.6 864.1 784.6 865.6 784.7 867.1 784.8 868.6 784.9 870.1 785.0 871.6 785.1 873.1 785.1 874.6 785.2 876.1 785.3 877.6 785.4 879.1 785.5 880.6 785.5 882.1 785.6 883.6 785.7 885.1 785.8 886.6 785.8 888.0 785.9 889.5 786.0 891.0 786.1 892.5 786.1 894.0 786.2 895.5 786.3 897.0 786.4 898.5 786.4 900.0 786.5 901.5 786.6 903.0 786.6 904.5 786.7 906.0 786.8 907.5 786.9 909.0 786.9 910.5 787.0 912.0 787.1 913.5 787.1 915.0 787.2 916.5 787.3 918.0 787.3 919.5 787.4 921.0 787.4 922.5 787.5 924.0 787.6 925.5 787.6 927.0 787.7 928.5 787.8 930.0 787.8 931.5 787.9 933.0 787.9 934.5 788.0 936.1 788.1 937.6 788.1 939.1 788.2 940.6 788.2 942.1 788.3 943.6 788.4 945.1 788.4 946.6 788.5 948.1 788.5 949.6 788.6 951.1 788.7 952.6 788.7 954.1 788.8 955.6 788.8 957.1 788.9 958.6 788.9 960.1 789.0 961.6 789.0 963.1 789.1 964.6 789.1 966.1 789.2 967.6 789.2 969.1 789.3 970.6 789.4 972.1 789.4 973.6 789.5 975.1 789.5 976.6 789.6 978.1 789.6 979.6 789.7 981.1 789.7 982.6 789.8 984.1 789.8 985.6 789.9 987.1 789.9 988.7 790.0 990.2 790.0 991.7 790.1 993.2 790.1 994.7 790.1 996.2 790.2 997.7 790.2 999.2 790.3 1000.7 790.3 1002.2 790.4 1003.7 790.4 1005.2 790.5 1006.7 790.5 1008.2 790.6 1009.7 790.6 1011.2 790.7 1012.7 790.7 1014.2 790.7 1015.8 790.8 1017.3 790.8 1018.8 790.9 1020.3 790.9 1021.8 791.0 1023.3 791.0 1024.8 791.1 1026.3 791.1" stroke="#ff00ff" stroke-width="2.6" fill="none" stroke-linejoin="round"/>
<path d="M188.7 238.0L188.6 239.5 188.5 241.0 188.4 242.5 188.3 244.0 188.3 245.5 188.2 247.1 188.1 248.6 188.1 250.1 188.0 251.6 188.0 253.1 188.0 254.6 187.9 256.1 187.9 257.6 187.9 259.1 187.9 260.6 187.9 262.1 187.8 263.6 187.8 265.1 187.9 266.6 187.9 268.1 187.9 269.6 187.9 271.1 187.9 272.6 188.0 274.1 188.0 275.6 188.0 277.1 188.1 278.6 188.1 280.1 188.2 281.6 188.3 283.1 188.3 284.6 188.4 286.1 188.5 287.6 188.6 289.1 188.6 290.6 188.7 292.1 188.8 293.6 188.9 295.1 189.0 296.6 189.1 298.1 189.2 299.6 189.3 301.1 189.4 302.6 189.5 304.1 189.7 305.6 189.8 307.1 189.9 308.6 190.0 310.1 190.2 311.6 190.3 313.1 190.4 314.6 190.6 316.1 190.7 317.6 190.9 319.1 191.0 320.6 191.2 322.1 191.3 323.6 191.5 325.1 191.7 326.6 191.8 328.1 192.0 329.6 192.1 331.0 192.3 332.5 192.5 334.0 192.6 335.5 192.8 337.0 193.0 338.5 193.2 340.0 193.4 341.5 193.5 343.0 193.7 344.5 193.9 346.0 194.1 347.5 194.3 349.0 194.4 350.5 194.6 351.9 194.8 353.4 195.0 354.9 195.2 356.4 195.4 357.9 195.6 359.4 195.8 360.9 196.0 362.4 196.2 363.9 196.4 365.4 196.5 366.9 196.7 368.4 196.9 369.8 197.1 371.3 197.3 372.8 197.5 374.3 197.7 375.8 197.9 377.3 198.1 378.8 198.3 380.3 198.5 381.8 198.7 383.3 198.9 384.8 199.1 386.2 199.2 387.7 199.4 389.2 199.6 390.7 199.8 392.2 200.0 393.7 200.2 395.2 200.4 396.7 200.5 398.2 200.7 399.7 200.9 401.2 201.1 402.6 201.3 404.1 201.4 405.6 201.6 407.1 201.8 408.6 201.9 410.1 202.1 411.6 202.3 413.1 202.4 414.6 202.6 416.1 202.8 417.5 202.9 419.0 203.1 420.5 203.2 422.0 203.4 423.5 203.5 425.0 203.7 426.5 203.8 428.0 203.9 429.5 204.1 431.0 204.2 432.5 204.3 434.0 204.5 435.4 204.6 436.9 204.7 438.4 204.9 439.9 205.0 441.4 205.1 442.9 205.2 444.4 205.3 445.9 205.5 447.4 205.6 448.9 205.7 450.4 205.8 451.9 205.9 453.3 206.0 454.8 206.2 456.3 206.3 457.8 206.4 459.3 206.5 460.8 206.6 462.3 206.7 463.8 206.8 465.3 206.9 466.8 207.0 468.3 207.2 469.8 207.3 471.3 207.4 472.8 207.5 474.3 207.6 475.7 207.7 477.2 207.8 478.7 207.9 480.2 208.0 481.7 208.2 483.2 208.3 484.7 208.4 486.2 208.5 487.7 208.6 489.2 208.8 490.7 208.9 492.2 209.0 493.7 209.1 495.2 209.2 496.7 209.4 498.2 209.5 499.7 209.6 501.2 209.8 502.7 209.9 504.2 210.0 505.7 210.2 507.2 210.3 508.7 210.5 510.2 210.6 511.7 210.8 513.2 210.9 514.7 211.1 516.2 211.2 517.7 211.4 519.2 211.6 520.7 211.7 522.2 211.9 523.7 212.1 525.2 212.2 526.7 212.4 528.2 212.6 529.7 212.8 531.2 213.0 532.7 213.2 534.2 213.4 535.7 213.6 537.2 213.8 538.7 214.0 540.2 214.2 541.7 214.4 543.2 214.7 544.7 214.9 546.2 215.1 547.7 215.4 549.2 215.6 550.7 215.9 552.2 216.1 553.7 216.4 555.2 216.6 556.7 216.9 558.2 217.2 559.8 217.4 561.3 217.7 562.8 218.0 564.3 218.3 565.8 218.6 567.3 219.0 568.8 219.3 570.2 219.7 571.7 220.0 573.2 220.4 574.6 220.8 576.1 221.2 577.5 221.7 578.9 222.1 580.3 222.6 581.7 223.1 583.1 223.6 584.4 224.2 585.8 224.8 587.1 225.4 588.4 226.0 589.6 226.7 590.9 227.4 592.1 228.1 593.3 228.8 594.5 229.6 595.6 230.5 596.7 231.3 597.8 232.2 598.8 233.2 599.8 234.2 600.8 235.2 601.8 236.2 602.7 237.3 603.6 238.4 604.4 239.6 605.3 240.8 606.1 242.0 606.8 243.2 607.6 244.5 608.3 245.8 609.1 247.1 609.7 248.4 610.4 249.8 611.1 251.2 611.7 252.5 612.3 254.0 612.9 255.4 613.5 256.8 614.1 258.3 614.7 259.7 615.2 261.2 615.8 262.7 616.3 264.2 616.8 265.6 617.3 267.1 617.9 268.6 618.4 270.1 618.9 271.6 619.4 273.1 619.9 274.6 620.4 276.1 620.9 277.6 621.4 279.1 621.9 280.6 622.4 282.0 623.0 283.5 623.5 285.0 624.0 286.5 624.5 287.9 625.0 289.4 625.5 290.9 626.0 292.3 626.5 293.8 627.0 295.3 627.6 296.7 628.1 298.2 628.6 299.6 629.1 301.1 629.6 302.5 630.2 304.0 630.7 305.4 631.2 306.8 631.8 308.3 632.3 309.7 632.8 311.1 633.4 312.5 633.9 314.0 634.5 315.4 635.0 316.8 635.6 318.2 636.1 319.6 636.7 321.0 637.3 322.4 637.9 323.8 638.4 325.2 639.0 326.5 639.6 327.9 640.2 329.3 640.8 330.7 641.4 332.0 642.0 333.4 642.6 334.8 643.3 336.1 643.9 337.5 644.5 338.8 645.2 340.1 645.8 341.5 646.5 342.8 647.1 344.1 647.8 345.4 648.4 346.8 649.1 348.1 649.8 349.4 650.5 350.7 651.2 352.0 651.9 353.2 652.6 354.5 653.4 355.8 654.1 357.1 654.8 358.3 655.6 359.6 656.4 360.8 657.1 362.1 657.9 363.3 658.7 364.6 659.5 365.8 660.3 367.0 661.1 368.2 661.9 369.4 662.8 370.6 663.6 371.8 664.5 373.0 665.3 374.2 666.2 375.4 667.1 376.6 668.0 377.7 668.9 378.9 669.8 380.0 670.8 381.2 671.7 382.3 672.7 383.5 673.6 384.6 674.6 385.7 675.6 386.8 676.6 387.9 677.6 389.0 678.6 390.1 679.6 391.2 680.7 392.3 681.7 393.4 682.8 394.4 683.8 395.5 684.9 396.6 685.9 397.7 687.0 398.7 688.1 399.8 689.2 400.9 690.2 401.9 691.3 403.0 692.4 404.0 693.5 405.1 694.6 406.1 695.7 407.2 696.8 408.3 697.9 409.3 699.0 410.4 700.1 411.4 701.2 412.5 702.3 413.6 703.3 414.6 704.4 415.7 705.5 416.8 706.6 417.9 707.7 418.9 708.7 420.0 709.8 421.1 710.8 422.2 711.9 423.3 712.9 424.4 714.0 425.5 715.0 426.6 716.0 427.7 717.0 428.9 718.0 430.0 719.0 431.1 720.0 432.3 720.9 433.4 721.9 434.6 722.8 435.8 723.7 437.0 724.6 438.1 725.5 439.3 726.4 440.6 727.3 441.8 728.2 443.0 729.0 444.2 729.8 445.5 730.6 446.7 731.4 448.0 732.2 449.3 733.0 450.6 733.7 451.8 734.5 453.1 735.2 454.4 735.9 455.8 736.6 457.1 737.3 458.4 738.0 459.7 738.7 461.1 739.3 462.4 740.0 463.8 740.6 465.1 741.3 466.5 741.9 467.9 742.5 469.3 743.1 470.6 743.7 472.0 744.2 473.4 744.8 474.8 745.4 476.2 745.9 477.6 746.4 479.0 747.0 480.5 747.5 481.9 748.0 483.3 748.5 484.7 749.0 486.2 749.5 487.6 750.0 489.0 750.5 490.5 750.9 491.9 751.4 493.3 751.9 494.8 752.3 496.2 752.8 497.7 753.2 499.1 753.6 500.6 754.1 502.0 754.5 503.5 754.9 505.0 755.3 506.4 755.7 507.9 756.1 509.3 756.5 510.8 756.9 512.2 757.3 513.7 757.7 515.2 758.1 516.6 758.5 518.1 758.9 519.5 759.2 521.0 759.6 522.5 760.0 523.9 760.3 525.4 760.7 526.8 761.1 528.3 761.4 529.8 761.8 531.2 762.1 532.7 762.4 534.2 762.8 535.6 763.1 537.1 763.4 538.6 763.8 540.1 764.1 541.5 764.4 543.0 764.7 544.5 765.0 545.9 765.3 547.4 765.6 548.9 765.9 550.3 766.2 551.8 766.5 553.3 766.8 554.8 767.1 556.2 767.4 557.7 767.7 559.2 768.0 560.7 768.2 562.1 768.5 563.6 768.8 565.1 769.0 566.6 769.3 568.1 769.6 569.5 769.8 571.0 770.1 572.5 770.3 574.0 770.6 575.5 770.8 576.9 771.1 578.4 771.3 579.9 771.6 581.4 771.8 582.9 772.0 584.3 772.3 585.8 772.5 587.3 772.7 588.8 772.9 590.3 773.2 591.8 773.4 593.2 773.6 594.7 773.8 596.2 774.0 597.7 774.2 599.2 774.4 600.7 774.6 602.2 774.8 603.6 775.0 605.1 775.2 606.6 775.4 608.1 775.6 609.6 775.8 611.1 776.0 612.6 776.2 614.1 776.4 615.6 776.6 617.0 776.7 618.5 776.9 620.0 777.1 621.5 777.3 623.0 777.5 624.5 777.6 626.0 777.8 627.5 778.0 629.0 778.1 630.5 778.3 631.9 778.5 633.4 778.6 634.9 778.8 636.4 779.0 637.9 779.1 639.4 779.3 640.9 779.4 642.4 779.6 643.9 779.7 645.4 779.9 646.9 780.1 648.4 780.2 649.9 780.4 651.4 780.5 652.9 780.6 654.3 780.8 655.8 780.9 657.3 781.1 658.8 781.2 660.3 781.4 661.8 781.5 663.3 781.7 664.8 781.8 666.3 781.9 667.8 782.1 669.3 782.2 670.8 782.3 672.3 782.5 673.8 782.6 675.3 782.7 676.8 782.9 678.3 783.0 679.8 783.1 681.3 783.3 682.8 783.4 684.3 783.5 685.8 783.7 687.3 783.8 688.7 783.9 690.2 784.1 691.7 784.2 693.2 784.3 694.7 784.4 696.2 784.6 697.7 784.7 699.2 784.8 700.7 785.0 702.2 785.1 703.7 785.2 705.2 785.3 706.7 785.4 708.2 785.6 709.7 785.7 711.2 785.8 712.7 785.9 714.2 786.0 715.7 786.2 717.2 786.3 718.7 786.4 720.2 786.5 721.7 786.6 723.2 786.8 724.7 786.9 726.2 787.0 727.7 787.1 729.2 787.2 730.7 787.3 732.2 787.4 733.7 787.6 735.2 787.7 736.7 787.8 738.2 787.9 739.7 788.0 741.2 788.1 742.7 788.2 744.2 788.3 745.7 788.4 747.2 788.6 748.7 788.7 750.1 788.8 751.6 788.9 753.1 789.0 754.6 789.1 756.1 789.2 757.6 789.3 759.1 789.4 760.6 789.5 762.1 789.6 763.6 789.7 765.1 789.8 766.6 789.9 768.1 790.0 769.6 790.1 771.1 790.2 772.6 790.3 774.1 790.4 775.6 790.5 777.1 790.6 778.6 790.7 780.1 790.8 781.6 790.9 783.1 791.0 784.6 791.1 786.1 791.2 787.6 791.3 789.1 791.4 790.6 791.5 792.1 791.6 793.6 791.6 795.1 791.7 796.6 791.8 798.1 791.9 799.6 792.0 801.1 792.1 802.6 792.2 804.1 792.3 805.6 792.4 807.1 792.5 808.6 792.5 810.1 792.6 811.6 792.7 813.1 792.8 814.6 792.9 816.1 793.0 817.6 793.1 819.1 793.1 820.6 793.2 822.1 793.3 823.6 793.4 825.1 793.5 826.6 793.6 828.1 793.6 829.6 793.7 831.1 793.8 832.6 793.9 834.1 794.0 835.6 794.0 837.1 794.1 838.6 794.2 840.1 794.3 841.6 794.4 843.1 794.4 844.6 794.5 846.1 794.6 847.6 794.7 849.1 794.7 850.6 794.8 852.1 794.9 853.6 795.0 855.1 795.0 856.6 795.1 858.1 795.2 859.6 795.2 861.1 795.3 862.6 795.4 864.1 795.5 865.6 795.5 867.2 795.6 868.7 795.7 870.2 795.7 871.7 795.8 873.2 795.9 874.7 795.9 876.2 796.0 877.7 796.1 879.2 796.1 880.7 796.2 882.2 796.3 883.7 796.3 885.2 796.4 886.7 796.5 888.2 796.5 889.7 796.6 891.2 796.7 892.7 796.7 894.2 796.8 895.7 796.8 897.2 796.9 898.7 797.0 900.2 797.0 901.7 797.1 903.2 797.1 904.7 797.2 906.2 797.3 907.7 797.3 909.2 797.4 910.7 797.4 912.2 797.5 913.7 797.6 915.2 797.6 916.7 797.7 918.2 797.7 919.7 797.8 921.2 797.8 922.7 797.9 924.2 797.9 925.7 798.0 927.2 798.0 928.7 798.1 930.2 798.2 931.7 798.2 933.2 798.3 934.7 798.3 936.2 798.4 937.7 798.4 939.2 798.5 940.7 798.5 942.2 798.6 943.7 798.6 945.2 798.7 946.7 798.7 948.2 798.8 949.7 798.8 951.2 798.9 952.7 798.9 954.2 799.0 955.7 799.0 957.2 799.0 958.7 799.1 960.2 799.1 961.7 799.2 963.2 799.2 964.7 799.3 966.2 799.3 967.7 799.4 969.2 799.4 970.8 799.4 972.3 799.5 973.8 799.5 975.3 799.6 976.8 799.6 978.3 799.7 979.8 799.7 981.3 799.7 982.8 799.8 984.3 799.8 985.8 799.9 987.3 799.9 988.8 799.9 990.3 800.0 991.8 800.0 993.3 800.0 994.8 800.1 996.3 800.1 997.8 800.2 999.3 800.2 1000.8 800.2 1002.3 800.3 1003.8 800.3 1005.3 800.3 1006.8 800.4 1008.3 800.4 1009.8 800.4 1011.3 800.5 1012.8 800.5 1014.3 800.5 1015.8 800.6 1017.3 800.6 1018.8 800.6 1020.3 800.7 1021.8 800.7 1023.3 800.7 1024.8 800.8 1026.3 800.8" stroke="#808000" stroke-width="2.6" fill="none" stroke-linejoin="round"/>
<path d="M188.7 238.0L188.6 239.5 188.6 241.0 188.6 242.5 188.5 244.0 188.5 245.5 188.5 247.0 188.4 248.6 188.4 250.1 188.4 251.6 188.4 253.1 188.4 254.6 188.4 256.1 188.4 257.6 188.4 259.1 188.5 260.6 188.5 262.1 188.5 263.6 188.5 265.1 188.6 266.6 188.6 268.1 188.7 269.6 188.7 271.1 188.8 272.6 188.8 274.1 188.9 275.6 189.0 277.1 189.0 278.6 189.1 280.1 189.2 281.6 189.3 283.1 189.4 284.6 189.5 286.1 189.6 287.6 189.7 289.1 189.8 290.6 189.9 292.1 190.0 293.6 190.1 295.1 190.2 296.6 190.3 298.1 190.5 299.6 190.6 301.1 190.7 302.6 190.9 304.1 191.0 305.6 191.1 307.1 191.3 308.6 191.4 310.1 191.6 311.6 191.7 313.1 191.9 314.6 192.1 316.1 192.2 317.6 192.4 319.0 192.6 320.5 192.7 322.0 192.9 323.5 193.1 325.0 193.3 326.5 193.5 328.0 193.6 329.5 193.8 331.0 194.0 332.5 194.2 334.0 194.4 335.5 194.6 337.0 194.8 338.4 195.0 339.9 195.2 341.4 195.4 342.9 195.6 344.4 195.9 345.9 196.1 347.4 196.3 348.9 196.5 350.4 196.7 351.8 196.9 353.3 197.2 354.8 197.4 356.3 197.6 357.8 197.8 359.3 198.1 360.8 198.3 362.3 198.5 363.7 198.7 365.2 199.0 366.7 199.2 368.2 199.5 369.7 199.7 371.2 199.9 372.7 200.2 374.1 200.4 375.6 200.6 377.1 200.9 378.6 201.1 380.1 201.4 381.6 201.6 383.0 201.9 384.5 202.1 386.0 202.4 387.5 202.6 389.0 202.9 390.5 203.1 391.9 203.3 393.4 203.6 394.9 203.8 396.4 204.1 397.9 204.3 399.4 204.6 400.8 204.8 402.3 205.1 403.8 205.3 405.3 205.6 406.8 205.8 408.2 206.1 409.7 206.3 411.2 206.6 412.7 206.8 414.2 207.1 415.6 207.3 417.1 207.6 418.6 207.8 420.1 208.1 421.6 208.3 423.0 208.6 424.5 208.8 426.0 209.0 427.5 209.3 428.9 209.5 430.4 209.8 431.9 210.0 433.4 210.2 434.9 210.5 436.3 210.7 437.8 210.9 439.3 211.2 440.8 211.4 442.3 211.6 443.7 211.9 445.2 212.1 446.7 212.3 448.2 212.5 449.7 212.7 451.1 212.9 452.6 213.2 454.1 213.4 455.6 213.6 457.1 213.8 458.6 214.0 460.0 214.2 461.5 214.3 463.0 214.5 464.5 214.7 466.0 214.9 467.5 215.1 469.0 215.2 470.5 215.4 471.9 215.6 473.4 215.7 474.9 215.9 476.4 216.0 477.9 216.2 479.4 216.3 480.9 216.5 482.4 216.6 483.9 216.7 485.4 216.8 486.9 216.9 488.4 217.1 489.9 217.2 491.4 217.3 492.9 217.4 494.4 217.5 495.9 217.6 497.5 217.7 499.0 217.8 500.5 217.9 502.0 218.0 503.5 218.1 505.0 218.2 506.5 218.3 508.0 218.4 509.5 218.5 511.0 218.6 512.6 218.7 514.1 218.8 515.6 218.9 517.1 219.0 518.6 219.2 520.1 219.3 521.6 219.4 523.1 219.5 524.6 219.7 526.2 219.8 527.7 220.0 529.2 220.1 530.7 220.3 532.2 220.5 533.7 220.6 535.2 220.8 536.7 221.0 538.2 221.2 539.7 221.4 541.2 221.6 542.7 221.9 544.2 222.1 545.7 222.4 547.2 222.6 548.7 222.9 550.2 223.2 551.7 223.5 553.1 223.8 554.6 224.1 556.1 224.4 557.6 224.8 559.1 225.1 560.6 225.5 562.0 225.9 563.5 226.3 565.0 226.7 566.4 227.1 567.9 227.6 569.3 228.1 570.7 228.6 572.2 229.1 573.6 229.6 574.9 230.2 576.3 230.7 577.7 231.3 579.0 232.0 580.3 232.6 581.6 233.3 582.9 234.0 584.1 234.7 585.3 235.5 586.5 236.3 587.7 237.1 588.8 238.0 589.9 238.9 591.0 239.8 592.1 240.7 593.1 241.7 594.0 242.7 595.0 243.8 595.9 244.9 596.7 246.0 597.5 247.2 598.3 248.4 599.0 249.6 599.7 250.9 600.4 252.2 601.0 253.5 601.5 254.9 602.1 256.3 602.6 257.7 603.1 259.1 603.5 260.6 603.9 262.1 604.3 263.6 604.7 265.1 605.1 266.6 605.4 268.1 605.7 269.6 606.1 271.2 606.4 272.7 606.6 274.3 606.9 275.8 607.2 277.4 607.5 278.9 607.7 280.5 608.0 282.0 608.3 283.6 608.5 285.1 608.8 286.7 609.0 288.2 609.3 289.8 609.5 291.3 609.8 292.9 610.1 294.4 610.3 295.9 610.6 297.4 610.9 298.9 611.2 300.4 611.5 301.9 611.8 303.4 612.1 304.9 612.4 306.4 612.8 307.9 613.1 309.3 613.5 310.8 613.8 312.3 614.2 313.7 614.5 315.2 614.9 316.6 615.3 318.1 615.6 319.5 616.0 320.9 616.4 322.4 616.8 323.8 617.2 325.2 617.6 326.7 618.0 328.1 618.4 329.5 618.8 331.0 619.2 332.4 619.6 333.8 620.0 335.2 620.4 336.7 620.8 338.1 621.2 339.5 621.6 340.9 622.0 342.4 622.4 343.8 622.8 345.2 623.2 346.7 623.6 348.1 624.0 349.6 624.4 351.0 624.8 352.4 625.2 353.9 625.6 355.3 626.0 356.8 626.4 358.2 626.7 359.6 627.1 361.1 627.5 362.5 627.9 364.0 628.3 365.4 628.7 366.9 629.1 368.3 629.5 369.8 629.9 371.2 630.3 372.7 630.7 374.1 631.1 375.6 631.5 377.0 631.9 378.5 632.3 379.9 632.7 381.4 633.1 382.9 633.5 384.3 633.9 385.8 634.3 387.2 634.7 388.7 635.1 390.1 635.5 391.6 635.9 393.0 636.3 394.5 636.7 395.9 637.2 397.4 637.6 398.8 638.0 400.3 638.4 401.7 638.8 403.2 639.2 404.6 639.7 406.1 640.1 407.5 640.5 409.0 640.9 410.4 641.4 411.9 641.8 413.3 642.2 414.8 642.7 416.2 643.1 417.7 643.5 419.1 644.0 420.6 644.4 422.0 644.9 423.4 645.3 424.9 645.8 426.3 646.2 427.8 646.7 429.2 647.1 430.6 647.6 432.1 648.1 433.5 648.5 434.9 649.0 436.4 649.5 437.8 650.0 439.2 650.4 440.6 650.9 442.1 651.4 443.5 651.9 444.9 652.4 446.3 652.9 447.7 653.4 449.1 653.9 450.6 654.4 452.0 654.9 453.4 655.5 454.8 656.0 456.2 656.5 457.6 657.1 459.0 657.6 460.4 658.2 461.8 658.8 463.1 659.3 464.5 659.9 465.9 660.5 467.3 661.1 468.6 661.7 470.0 662.3 471.4 662.9 472.7 663.6 474.1 664.2 475.4 664.9 476.8 665.5 478.1 666.2 479.4 666.9 480.8 667.6 482.1 668.3 483.4 669.0 484.7 669.7 486.0 670.5 487.4 671.2 488.7 672.0 490.0 672.7 491.3 673.5 492.6 674.3 493.8 675.0 495.1 675.8 496.4 676.6 497.7 677.4 499.0 678.2 500.3 679.0 501.6 679.8 502.9 680.6 504.1 681.4 505.4 682.2 506.7 683.0 508.0 683.8 509.3 684.6 510.6 685.4 511.8 686.2 513.1 687.0 514.4 687.8 515.7 688.6 517.0 689.3 518.3 690.1 519.6 690.9 520.9 691.7 522.2 692.4 523.5 693.2 524.8 693.9 526.1 694.6 527.5 695.4 528.8 696.1 530.1 696.8 531.4 697.5 532.7 698.2 534.1 698.9 535.4 699.6 536.7 700.3 538.1 701.0 539.4 701.6 540.8 702.3 542.1 703.0 543.5 703.6 544.8 704.3 546.2 704.9 547.5 705.5 548.9 706.2 550.3 706.8 551.6 707.4 553.0 708.0 554.4 708.6 555.7 709.2 557.1 709.8 558.5 710.4 559.9 711.0 561.2 711.6 562.6 712.2 564.0 712.7 565.4 713.3 566.8 713.8 568.2 714.4 569.6 714.9 571.0 715.5 572.4 716.0 573.8 716.6 575.2 717.1 576.6 717.6 578.0 718.1 579.4 718.6 580.8 719.2 582.2 719.7 583.6 720.2 585.1 720.7 586.5 721.1 587.9 721.6 589.3 722.1 590.7 722.6 592.2 723.1 593.6 723.5 595.0 724.0 596.4 724.4 597.9 724.9 599.3 725.4 600.7 725.8 602.2 726.2 603.6 726.7 605.0 727.1 606.5 727.5 607.9 728.0 609.4 728.4 610.8 728.8 612.2 729.2 613.7 729.6 615.1 730.0 616.6 730.5 618.0 730.9 619.5 731.2 620.9 731.6 622.4 732.0 623.8 732.4 625.3 732.8 626.8 733.2 628.2 733.6 629.7 733.9 631.1 734.3 632.6 734.7 634.0 735.0 635.5 735.4 637.0 735.7 638.4 736.1 639.9 736.4 641.4 736.8 642.8 737.1 644.3 737.5 645.7 737.8 647.2 738.2 648.7 738.5 650.2 738.8 651.6 739.2 653.1 739.5 654.6 739.8 656.0 740.1 657.5 740.4 659.0 740.8 660.4 741.1 661.9 741.4 663.4 741.7 664.8 742.0 666.3 742.3 667.8 742.6 669.3 742.9 670.7 743.2 672.2 743.5 673.7 743.8 675.2 744.1 676.6 744.4 678.1 744.7 679.6 744.9 681.1 745.2 682.5 745.5 684.0 745.8 685.5 746.1 687.0 746.3 688.5 746.6 689.9 746.9 691.4 747.1 692.9 747.4 694.4 747.7 695.9 747.9 697.3 748.2 698.8 748.4 700.3 748.7 701.8 749.0 703.3 749.2 704.7 749.5 706.2 749.7 707.7 749.9 709.2 750.2 710.7 750.4 712.2 750.7 713.6 750.9 715.1 751.1 716.6 751.4 718.1 751.6 719.6 751.8 721.1 752.1 722.6 752.3 724.0 752.5 725.5 752.7 727.0 753.0 728.5 753.2 730.0 753.4 731.5 753.6 733.0 753.8 734.5 754.1 735.9 754.3 737.4 754.5 738.9 754.7 740.4 754.9 741.9 755.1 743.4 755.3 744.9 755.5 746.4 755.7 747.9 755.9 749.4 756.1 750.8 756.3 752.3 756.5 753.8 756.7 755.3 756.9 756.8 757.1 758.3 757.3 759.8 757.5 761.3 757.7 762.8 757.8 764.3 758.0 765.8 758.2 767.3 758.4 768.8 758.6 770.2 758.8 771.7 758.9 773.2 759.1 774.7 759.3 776.2 759.5 777.7 759.7 779.2 759.8 780.7 760.0 782.2 760.2 783.7 760.4 785.2 760.5 786.7 760.7 788.2 760.9 789.7 761.0 791.2 761.2 792.7 761.4 794.2 761.5 795.7 761.7 797.1 761.9 798.6 762.0 800.1 762.2 801.6 762.4 803.1 762.5 804.6 762.7 806.1 762.8 807.6 763.0 809.1 763.2 810.6 763.3 812.1 763.5 813.6 763.6 815.1 763.8 816.6 763.9 818.1 764.1 819.6 764.2 821.1 764.4 822.6 764.5 824.1 764.7 825.6 764.9 827.1 765.0 828.6 765.2 830.1 765.3 831.6 765.5 833.1 765.6 834.5 765.8 836.0 765.9 837.5 766.1 839.0 766.2 840.5 766.4 842.0 766.5 843.5 766.6 845.0 766.8 846.5 766.9 848.0 767.1 849.5 767.2 851.0 767.4 852.5 767.5 854.0 767.7 855.5 767.8 857.0 768.0 858.5 768.1 860.0 768.2 861.5 768.4 863.0 768.5 864.5 768.7 866.0 768.8 867.5 769.0 869.0 769.1 870.5 769.2 872.0 769.4 873.5 769.5 874.9 769.7 876.4 769.8 877.9 769.9 879.4 770.1 880.9 770.2 882.4 770.4 883.9 770.5 885.4 770.6 886.9 770.8 888.4 770.9 889.9 771.0 891.4 771.2 892.9 771.3 894.4 771.4 895.9 771.6 897.4 771.7 898.9 771.8 900.4 772.0 901.9 772.1 903.4 772.2 904.9 772.4 906.4 772.5 907.9 772.6 909.4 772.8 910.9 772.9 912.4 773.0 913.9 773.1 915.3 773.3 916.8 773.4 918.3 773.5 919.8 773.7 921.3 773.8 922.8 773.9 924.3 774.0 925.8 774.2 927.3 774.3 928.8 774.4 930.3 774.5 931.8 774.7 933.3 774.8 934.8 774.9 936.3 775.0 937.8 775.1 939.3 775.3 940.8 775.4 942.3 775.5 943.8 775.6 945.3 775.7 946.8 775.8 948.3 776.0 949.8 776.1 951.3 776.2 952.8 776.3 954.3 776.4 955.8 776.5 957.3 776.7 958.8 776.8 960.3 776.9 961.8 777.0 963.3 777.1 964.8 777.2 966.3 777.3 967.8 777.4 969.3 777.5 970.8 777.6 972.3 777.8 973.8 777.9 975.3 778.0 976.8 778.1 978.3 778.2 979.8 778.3 981.3 778.4 982.8 778.5 984.3 778.6 985.8 778.7 987.3 778.8 988.8 778.9 990.3 779.0 991.8 779.1 993.3 779.2 994.8 779.3 996.3 779.4 997.8 779.5 999.3 779.6 1000.8 779.7 1002.3 779.8 1003.8 779.9 1005.3 780.0 1006.8 780.1 1008.3 780.1 1009.8 780.2 1011.3 780.3 1012.8 780.4 1014.3 780.5 1015.8 780.6 1017.3 780.7 1018.8 780.8 1020.3 780.9 1021.8 780.9 1023.3 781.0 1024.8 781.1 1026.3 781.2" stroke="#008080" stroke-width="2.6" fill="none" stroke-linejoin="round"/>
<path d="M188.7 238.0L188.7 239.5 188.6 241.0 188.6 242.5 188.6 244.0 188.6 245.5 188.6 247.1 188.6 248.6 188.6 250.1 188.6 251.6 188.6 253.1 188.6 254.6 188.6 256.1 188.7 257.6 188.7 259.1 188.8 260.6 188.8 262.1 188.9 263.6 188.9 265.1 189.0 266.6 189.1 268.1 189.1 269.6 189.2 271.1 189.3 272.6 189.4 274.1 189.5 275.6 189.6 277.1 189.7 278.6 189.8 280.1 189.9 281.6 190.0 283.1 190.1 284.6 190.3 286.1 190.4 287.6 190.5 289.1 190.7 290.6 190.8 292.0 191.0 293.5 191.1 295.0 191.3 296.5 191.4 298.0 191.6 299.5 191.7 301.0 191.9 302.5 192.1 304.0 192.3 305.5 192.4 307.0 192.6 308.5 192.8 309.9 193.0 311.4 193.2 312.9 193.4 314.4 193.6 315.9 193.8 317.4 194.0 318.9 194.2 320.4 194.4 321.9 194.6 323.3 194.8 324.8 195.1 326.3 195.3 327.8 195.5 329.3 195.7 330.8 195.9 332.3 196.2 333.7 196.4 335.2 196.6 336.7 196.9 338.2 197.1 339.7 197.4 341.2 197.6 342.6 197.8 344.1 198.1 345.6 198.3 347.1 198.6 348.6 198.8 350.1 199.1 351.5 199.3 353.0 199.6 354.5 199.8 356.0 200.1 357.5 200.4 359.0 200.6 360.4 200.9 361.9 201.1 363.4 201.4 364.9 201.7 366.4 201.9 367.8 202.2 369.3 202.5 370.8 202.7 372.3 203.0 373.8 203.2 375.2 203.5 376.7 203.8 378.2 204.0 379.7 204.3 381.2 204.6 382.6 204.8 384.1 205.1 385.6 205.4 387.1 205.6 388.6 205.9 390.0 206.2 391.5 206.4 393.0 206.7 394.5 207.0 395.9 207.2 397.4 207.5 398.9 207.8 400.4 208.0 401.9 208.3 403.3 208.6 404.8 208.8 406.3 209.1 407.8 209.3 409.3 209.6 410.7 209.8 412.2 210.1 413.7 210.3 415.2 210.6 416.6 210.8 418.1 211.1 419.6 211.3 421.1 211.6 422.6 211.8 424.0 212.1 425.5 212.3 427.0 212.6 428.5 212.8 430.0 213.0 431.4 213.3 432.9 213.5 434.4 213.7 435.9 213.9 437.3 214.2 438.8 214.4 440.3 214.6 441.8 214.8 443.3 215.0 444.7 215.3 446.2 215.5 447.7 215.7 449.2 215.9 450.7 216.1 452.2 216.3 453.6 216.5 455.1 216.7 456.6 216.9 458.1 217.1 459.6 217.3 461.1 217.4 462.6 217.6 464.0 217.8 465.5 218.0 467.0 218.2 468.5 218.3 470.0 218.5 471.5 218.7 473.0 218.8 474.5 219.0 476.0 219.1 477.5 219.3 479.0 219.4 480.5 219.6 482.0 219.7 483.5 219.9 485.0 220.0 486.5 220.2 488.0 220.3 489.5 220.4 491.0 220.6 492.5 220.7 494.0 220.8 495.5 220.9 497.0 221.1 498.5 221.2 500.0 221.3 501.5 221.5 503.0 221.6 504.5 221.7 506.0 221.9 507.6 222.0 509.1 222.1 510.6 222.3 512.1 222.4 513.6 222.6 515.1 222.7 516.6 222.9 518.1 223.0 519.6 223.2 521.1 223.4 522.6 223.6 524.1 223.7 525.6 223.9 527.1 224.1 528.6 224.3 530.1 224.5 531.6 224.8 533.1 225.0 534.6 225.2 536.1 225.5 537.6 225.7 539.1 226.0 540.6 226.2 542.1 226.5 543.6 226.8 545.1 227.1 546.6 227.4 548.1 227.7 549.6 228.1 551.1 228.4 552.5 228.8 554.0 229.1 555.5 229.5 557.0 229.9 558.5 230.3 559.9 230.7 561.4 231.2 562.9 231.6 564.3 232.1 565.8 232.6 567.2 233.1 568.6 233.6 570.1 234.2 571.4 234.8 572.8 235.4 574.2 236.0 575.5 236.7 576.8 237.4 578.1 238.1 579.3 238.9 580.5 239.7 581.7 240.5 582.9 241.4 584.0 242.3 585.0 243.3 586.0 244.3 587.0 245.3 588.0 246.4 588.9 247.5 589.7 248.7 590.5 249.8 591.3 251.0 592.1 252.3 592.8 253.6 593.5 254.8 594.1 256.2 594.8 257.5 595.4 258.9 595.9 260.3 596.5 261.7 597.0 263.1 597.5 264.5 598.0 265.9 598.4 267.4 598.9 268.9 599.3 270.3 599.7 271.8 600.1 273.3 600.5 274.8 600.9 276.3 601.2 277.8 601.6 279.3 601.9 280.8 602.2 282.2 602.6 283.7 602.9 285.2 603.2 286.7 603.5 288.2 603.8 289.7 604.1 291.2 604.3 292.7 604.6 294.2 604.9 295.7 605.2 297.2 605.4 298.7 605.7 300.2 606.0 301.7 606.2 303.2 606.5 304.7 606.8 306.2 607.0 307.7 607.3 309.2 607.6 310.7 607.8 312.2 608.1 313.7 608.4 315.2 608.7 316.6 608.9 318.1 609.2 319.6 609.5 321.1 609.8 322.6 610.1 324.0 610.4 325.5 610.8 327.0 611.1 328.4 611.4 329.9 611.7 331.4 612.1 332.8 612.4 334.3 612.8 335.7 613.1 337.2 613.5 338.6 613.8 340.1 614.2 341.5 614.5 343.0 614.9 344.4 615.2 345.9 615.6 347.3 616.0 348.8 616.4 350.2 616.7 351.7 617.1 353.1 617.5 354.6 617.8 356.0 618.2 357.5 618.6 358.9 619.0 360.4 619.3 361.8 619.7 363.2 620.1 364.7 620.4 366.1 620.8 367.6 621.2 369.0 621.5 370.5 621.9 371.9 622.2 373.4 622.6 374.8 622.9 376.3 623.3 377.8 623.6 379.2 624.0 380.7 624.3 382.1 624.6 383.6 625.0 385.0 625.3 386.5 625.6 388.0 626.0 389.4 626.3 390.9 626.6 392.4 626.9 393.8 627.3 395.3 627.6 396.8 627.9 398.2 628.2 399.7 628.5 401.2 628.9 402.6 629.2 404.1 629.5 405.6 629.8 407.0 630.1 408.5 630.4 410.0 630.7 411.4 631.0 412.9 631.3 414.4 631.6 415.9 631.9 417.3 632.2 418.8 632.6 420.3 632.9 421.7 633.2 423.2 633.5 424.7 633.8 426.2 634.1 427.6 634.4 429.1 634.7 430.6 635.0 432.1 635.3 433.5 635.6 435.0 635.9 436.5 636.2 438.0 636.5 439.4 636.8 440.9 637.1 442.4 637.4 443.9 637.7 445.3 638.0 446.8 638.3 448.3 638.6 449.8 638.9 451.2 639.2 452.7 639.5 454.2 639.8 455.7 640.2 457.1 640.5 458.6 640.8 460.1 641.1 461.5 641.4 463.0 641.7 464.5 642.0 466.0 642.4 467.4 642.7 468.9 643.0 470.4 643.3 471.8 643.7 473.3 644.0 474.8 644.3 476.2 644.7 477.7 645.0 479.2 645.3 480.6 645.7 482.1 646.0 483.6 646.4 485.0 646.7 486.5 647.1 488.0 647.4 489.4 647.8 490.9 648.1 492.3 648.5 493.8 648.9 495.3 649.2 496.7 649.6 498.2 650.0 499.6 650.3 501.1 650.7 502.5 651.1 504.0 651.5 505.4 651.9 506.9 652.3 508.3 652.7 509.8 653.1 511.2 653.5 512.7 653.9 514.1 654.3 515.6 654.7 517.0 655.1 518.5 655.5 519.9 656.0 521.3 656.4 522.8 656.8 524.2 657.3 525.6 657.7 527.1 658.2 528.5 658.6 529.9 659.1 531.4 659.5 532.8 660.0 534.2 660.5 535.7 661.0 537.1 661.4 538.5 661.9 539.9 662.4 541.3 662.9 542.7 663.4 544.2 663.9 545.6 664.4 547.0 664.9 548.4 665.5 549.8 666.0 551.2 666.5 552.6 667.1 554.0 667.6 555.4 668.2 556.8 668.7 558.2 669.3 559.6 669.8 561.0 670.4 562.4 671.0 563.7 671.6 565.1 672.2 566.5 672.8 567.9 673.4 569.2 674.0 570.6 674.6 572.0 675.2 573.4 675.8 574.7 676.5 576.1 677.1 577.4 677.8 578.8 678.4 580.1 679.1 581.5 679.8 582.8 680.4 584.2 681.1 585.5 681.8 586.9 682.5 588.2 683.2 589.6 683.8 590.9 684.5 592.2 685.2 593.6 685.9 594.9 686.6 596.3 687.3 597.6 688.0 598.9 688.6 600.3 689.3 601.6 690.0 603.0 690.7 604.3 691.3 605.7 692.0 607.0 692.6 608.4 693.3 609.8 693.9 611.1 694.5 612.5 695.2 613.9 695.8 615.2 696.4 616.6 697.0 618.0 697.5 619.4 698.1 620.8 698.7 622.2 699.2 623.6 699.8 625.0 700.3 626.4 700.8 627.8 701.3 629.2 701.8 630.6 702.3 632.1 702.8 633.5 703.3 634.9 703.8 636.3 704.2 637.8 704.7 639.2 705.1 640.6 705.6 642.1 706.0 643.5 706.5 645.0 706.9 646.4 707.3 647.8 707.8 649.3 708.2 650.7 708.6 652.2 709.0 653.6 709.4 655.1 709.8 656.5 710.2 658.0 710.6 659.4 711.0 660.9 711.4 662.3 711.8 663.8 712.2 665.2 712.6 666.7 713.0 668.1 713.3 669.6 713.7 671.0 714.1 672.5 714.4 674.0 714.8 675.4 715.2 676.9 715.5 678.3 715.9 679.8 716.2 681.2 716.6 682.7 716.9 684.2 717.3 685.6 717.6 687.1 718.0 688.6 718.3 690.0 718.6 691.5 719.0 692.9 719.3 694.4 719.6 695.9 720.0 697.3 720.3 698.8 720.6 700.3 720.9 701.8 721.2 703.2 721.5 704.7 721.9 706.2 722.2 707.6 722.5 709.1 722.8 710.6 723.1 712.0 723.4 713.5 723.7 715.0 724.0 716.5 724.3 717.9 724.5 719.4 724.8 720.9 725.1 722.4 725.4 723.8 725.7 725.3 726.0 726.8 726.2 728.3 726.5 729.7 726.8 731.2 727.1 732.7 727.3 734.2 727.6 735.7 727.9 737.1 728.1 738.6 728.4 740.1 728.7 741.6 728.9 743.1 729.2 744.5 729.4 746.0 729.7 747.5 729.9 749.0 730.2 750.5 730.4 751.9 730.7 753.4 730.9 754.9 731.2 756.4 731.4 757.9 731.7 759.4 731.9 760.9 732.2 762.3 732.4 763.8 732.6 765.3 732.9 766.8 733.1 768.3 733.3 769.8 733.6 771.3 733.8 772.7 734.0 774.2 734.3 775.7 734.5 777.2 734.7 778.7 734.9 780.2 735.2 781.7 735.4 783.1 735.6 784.6 735.8 786.1 736.1 787.6 736.3 789.1 736.5 790.6 736.7 792.1 736.9 793.6 737.1 795.1 737.4 796.5 737.6 798.0 737.8 799.5 738.0 801.0 738.2 802.5 738.4 804.0 738.6 805.5 738.9 807.0 739.1 808.5 739.3 810.0 739.5 811.4 739.7 812.9 739.9 814.4 740.1 815.9 740.3 817.4 740.5 818.9 740.7 820.4 740.9 821.9 741.2 823.4 741.4 824.9 741.6 826.3 741.8 827.8 742.0 829.3 742.2 830.8 742.4 832.3 742.6 833.8 742.8 835.3 743.0 836.8 743.2 838.3 743.4 839.8 743.6 841.2 743.8 842.7 744.0 844.2 744.2 845.7 744.5 847.2 744.7 848.7 744.9 850.2 745.1 851.7 745.3 853.2 745.5 854.6 745.7 856.1 745.9 857.6 746.1 859.1 746.3 860.6 746.5 862.1 746.7 863.6 746.9 865.1 747.1 866.6 747.3 868.0 747.5 869.5 747.7 871.0 747.9 872.5 748.1 874.0 748.3 875.5 748.6 877.0 748.8 878.5 749.0 880.0 749.2 881.4 749.4 882.9 749.6 884.4 749.8 885.9 750.0 887.4 750.2 888.9 750.4 890.4 750.6 891.9 750.8 893.4 751.0 894.8 751.2 896.3 751.4 897.8 751.6 899.3 751.8 900.8 752.0 902.3 752.1 903.8 752.3 905.3 752.5 906.8 752.7 908.2 752.9 909.7 753.1 911.2 753.3 912.7 753.5 914.2 753.7 915.7 753.9 917.2 754.1 918.7 754.3 920.2 754.5 921.7 754.6 923.1 754.8 924.6 755.0 926.1 755.2 927.6 755.4 929.1 755.6 930.6 755.8 932.1 755.9 933.6 756.1 935.1 756.3 936.6 756.5 938.0 756.7 939.5 756.9 941.0 757.0 942.5 757.2 944.0 757.4 945.5 757.6 947.0 757.7 948.5 757.9 950.0 758.1 951.5 758.3 953.0 758.4 954.5 758.6 955.9 758.8 957.4 758.9 958.9 759.1 960.4 759.3 961.9 759.4 963.4 759.6 964.9 759.8 966.4 759.9 967.9 760.1 969.4 760.2 970.9 760.4 972.4 760.6 973.9 760.7 975.4 760.9 976.9 761.0 978.4 761.2 979.8 761.3 981.3 761.5 982.8 761.6 984.3 761.8 985.8 761.9 987.3 762.1 988.8 762.2 990.3 762.4 991.8 762.5 993.3 762.7 994.8 762.8 996.3 762.9 997.8 763.1 999.3 763.2 1000.8 763.3 1002.3 763.5 1003.8 763.6 1005.3 763.7 1006.8 763.9 1008.3 764.0 1009.8 764.1 1011.3 764.2 1012.8 764.4 1014.3 764.5 1015.8 764.6 1017.3 764.7 1018.8 764.8 1020.3 765.0 1021.8 765.1 1023.3 765.2 1024.8 765.3 1026.3 765.4" stroke="#ff0000" stroke-width="2.6" fill="none" stroke-linejoin="round"/>
<path d="M188.7 238.0L188.6 239.5 188.6 241.0 188.5 242.6 188.5 244.1 188.5 245.6 188.4 247.1 188.4 248.6 188.4 250.2 188.4 251.7 188.4 253.2 188.5 254.7 188.5 256.2 188.5 257.7 188.6 259.2 188.6 260.7 188.7 262.2 188.7 263.7 188.8 265.2 188.9 266.7 189.0 268.2 189.1 269.7 189.2 271.2 189.3 272.7 189.4 274.2 189.5 275.7 189.7 277.2 189.8 278.7 189.9 280.2 190.1 281.7 190.3 283.2 190.4 284.7 190.6 286.1 190.8 287.6 190.9 289.1 191.1 290.6 191.3 292.1 191.5 293.6 191.7 295.0 191.9 296.5 192.1 298.0 192.3 299.5 192.5 301.0 192.8 302.4 193.0 303.9 193.2 305.4 193.4 306.9 193.7 308.3 193.9 309.8 194.2 311.3 194.4 312.8 194.7 314.2 194.9 315.7 195.2 317.2 195.5 318.7 195.7 320.1 196.0 321.6 196.3 323.1 196.5 324.6 196.8 326.0 197.1 327.5 197.4 329.0 197.7 330.4 197.9 331.9 198.2 333.4 198.5 334.8 198.8 336.3 199.1 337.8 199.4 339.2 199.7 340.7 200.0 342.2 200.3 343.7 200.6 345.1 200.9 346.6 201.2 348.1 201.5 349.5 201.8 351.0 202.1 352.5 202.4 353.9 202.7 355.4 203.0 356.9 203.3 358.3 203.6 359.8 203.9 361.3 204.2 362.8 204.5 364.2 204.8 365.7 205.1 367.2 205.4 368.6 205.7 370.1 206.0 371.6 206.3 373.1 206.6 374.5 206.9 376.0 207.2 377.5 207.5 379.0 207.8 380.4 208.1 381.9 208.4 383.4 208.6 384.9 208.9 386.3 209.2 387.8 209.5 389.3 209.8 390.8 210.1 392.2 210.3 393.7 210.6 395.2 210.9 396.7 211.2 398.1 211.4 399.6 211.7 401.1 212.0 402.6 212.2 404.0 212.5 405.5 212.8 407.0 213.0 408.5 213.3 410.0 213.5 411.4 213.8 412.9 214.1 414.4 214.3 415.9 214.5 417.4 214.8 418.8 215.0 420.3 215.3 421.8 215.5 423.3 215.7 424.8 216.0 426.2 216.2 427.7 216.4 429.2 216.7 430.7 216.9 432.2 217.1 433.6 217.3 435.1 217.5 436.6 217.7 438.1 218.0 439.6 218.2 441.1 218.4 442.5 218.6 444.0 218.8 445.5 219.0 447.0 219.2 448.5 219.4 450.0 219.6 451.4 219.7 452.9 219.9 454.4 220.1 455.9 220.3 457.4 220.5 458.9 220.7 460.4 220.9 461.8 221.0 463.3 221.2 464.8 221.4 466.3 221.6 467.8 221.8 469.3 221.9 470.8 222.1 472.3 222.3 473.8 222.4 475.2 222.6 476.7 222.8 478.2 222.9 479.7 223.1 481.2 223.3 482.7 223.4 484.2 223.6 485.7 223.8 487.2 223.9 488.7 224.1 490.2 224.2 491.7 224.4 493.2 224.6 494.7 224.7 496.1 224.9 497.6 225.1 499.1 225.2 500.6 225.4 502.1 225.6 503.6 225.7 505.1 225.9 506.6 226.1 508.1 226.2 509.6 226.4 511.1 226.6 512.6 226.8 514.1 227.0 515.6 227.2 517.1 227.4 518.6 227.6 520.1 227.8 521.6 228.0 523.1 228.2 524.6 228.4 526.1 228.6 527.6 228.9 529.1 229.1 530.6 229.3 532.1 229.6 533.6 229.8 535.1 230.1 536.5 230.4 538.0 230.6 539.5 230.9 541.0 231.2 542.5 231.5 544.0 231.8 545.5 232.1 547.0 232.4 548.5 232.7 550.0 233.0 551.5 233.4 553.0 233.7 554.5 234.1 556.0 234.4 557.4 234.8 558.9 235.2 560.4 235.6 561.9 236.0 563.4 236.4 564.9 236.9 566.3 237.3 567.8 237.8 569.2 238.3 570.7 238.8 572.1 239.4 573.5 239.9 574.8 240.5 576.2 241.2 577.5 241.8 578.8 242.5 580.0 243.3 581.3 244.0 582.4 244.8 583.6 245.7 584.7 246.6 585.8 247.5 586.8 248.5 587.8 249.5 588.8 250.6 589.7 251.7 590.5 252.9 591.4 254.0 592.2 255.2 592.9 256.5 593.7 257.7 594.4 259.0 595.0 260.3 595.7 261.7 596.3 263.0 596.9 264.4 597.4 265.8 598.0 267.2 598.5 268.6 599.0 270.1 599.5 271.5 599.9 273.0 600.4 274.5 600.8 275.9 601.2 277.4 601.6 278.9 602.0 280.4 602.4 281.9 602.8 283.4 603.1 284.9 603.5 286.3 603.8 287.8 604.1 289.3 604.5 290.9 604.8 292.4 605.1 293.9 605.4 295.4 605.7 296.9 606.0 298.4 606.4 299.9 606.7 301.4 607.0 302.9 607.3 304.4 607.6 305.9 607.9 307.3 608.3 308.8 608.6 310.3 608.9 311.8 609.3 313.3 609.6 314.7 610.0 316.2 610.3 317.6 610.7 319.1 611.1 320.5 611.5 322.0 611.9 323.4 612.4 324.8 612.8 326.2 613.2 327.7 613.7 329.1 614.2 330.5 614.6 331.9 615.1 333.3 615.5 334.7 616.0 336.1 616.4 337.5 616.9 339.0 617.3 340.4 617.8 341.8 618.2 343.2 618.6 344.7 619.0 346.1 619.4 347.5 619.8 349.0 620.2 350.4 620.6 351.9 620.9 353.3 621.3 354.8 621.7 356.2 622.0 357.7 622.4 359.1 622.7 360.6 623.1 362.1 623.4 363.5 623.7 365.0 624.1 366.4 624.4 367.9 624.7 369.4 625.0 370.8 625.4 372.3 625.7 373.8 626.0 375.2 626.4 376.7 626.7 378.2 627.0 379.6 627.3 381.1 627.7 382.6 628.0 384.0 628.3 385.5 628.6 387.0 629.0 388.4 629.3 389.9 629.6 391.4 630.0 392.8 630.3 394.3 630.6 395.8 630.9 397.2 631.3 398.7 631.6 400.2 631.9 401.6 632.3 403.1 632.6 404.6 632.9 406.0 633.3 407.5 633.6 409.0 633.9 410.4 634.3 411.9 634.6 413.3 635.0 414.8 635.3 416.3 635.6 417.7 636.0 419.2 636.3 420.7 636.7 422.1 637.0 423.6 637.4 425.1 637.7 426.5 638.1 428.0 638.4 429.4 638.8 430.9 639.1 432.4 639.5 433.8 639.8 435.3 640.2 436.7 640.5 438.2 640.9 439.6 641.3 441.1 641.6 442.6 642.0 444.0 642.4 445.5 642.8 446.9 643.1 448.4 643.5 449.8 643.9 451.3 644.3 452.7 644.6 454.2 645.0 455.6 645.4 457.1 645.8 458.5 646.2 460.0 646.6 461.4 647.0 462.9 647.4 464.3 647.8 465.8 648.2 467.2 648.6 468.6 649.0 470.1 649.4 471.5 649.8 473.0 650.3 474.4 650.7 475.8 651.1 477.3 651.5 478.7 652.0 480.2 652.4 481.6 652.8 483.0 653.3 484.4 653.7 485.9 654.2 487.3 654.6 488.7 655.1 490.2 655.5 491.6 656.0 493.0 656.4 494.4 656.9 495.9 657.4 497.3 657.9 498.7 658.3 500.1 658.8 501.5 659.3 503.0 659.8 504.4 660.3 505.8 660.8 507.2 661.3 508.6 661.8 510.0 662.3 511.4 662.8 512.9 663.3 514.3 663.8 515.7 664.3 517.1 664.9 518.5 665.4 519.9 665.9 521.3 666.5 522.7 667.0 524.1 667.6 525.5 668.1 526.9 668.7 528.2 669.2 529.6 669.8 531.0 670.4 532.4 670.9 533.8 671.5 535.2 672.1 536.6 672.7 538.0 673.3 539.4 673.8 540.7 674.4 542.1 675.0 543.5 675.6 544.9 676.2 546.3 676.8 547.6 677.4 549.0 678.0 550.4 678.6 551.8 679.2 553.2 679.8 554.5 680.4 555.9 681.0 557.3 681.6 558.7 682.3 560.0 682.9 561.4 683.5 562.8 684.1 564.2 684.7 565.5 685.3 566.9 685.9 568.3 686.6 569.7 687.2 571.0 687.8 572.4 688.4 573.8 689.0 575.2 689.6 576.5 690.2 577.9 690.9 579.3 691.5 580.7 692.1 582.0 692.7 583.4 693.3 584.8 693.9 586.2 694.5 587.5 695.1 588.9 695.7 590.3 696.3 591.7 696.9 593.0 697.5 594.4 698.1 595.8 698.7 597.2 699.3 598.6 699.9 599.9 700.5 601.3 701.1 602.7 701.7 604.1 702.2 605.5 702.8 606.9 703.4 608.3 703.9 609.7 704.5 611.0 705.1 612.4 705.6 613.8 706.2 615.2 706.7 616.6 707.3 618.0 707.8 619.4 708.4 620.8 708.9 622.2 709.4 623.6 710.0 625.0 710.5 626.4 711.0 627.8 711.5 629.2 712.0 630.7 712.5 632.1 713.0 633.5 713.5 634.9 714.0 636.3 714.4 637.7 714.9 639.2 715.4 640.6 715.8 642.0 716.3 643.4 716.7 644.9 717.2 646.3 717.6 647.7 718.0 649.2 718.5 650.6 718.9 652.0 719.3 653.5 719.7 654.9 720.1 656.4 720.5 657.8 720.8 659.3 721.2 660.7 721.6 662.2 721.9 663.6 722.3 665.1 722.6 666.6 723.0 668.0 723.3 669.5 723.7 671.0 724.0 672.4 724.3 673.9 724.6 675.4 724.9 676.8 725.2 678.3 725.5 679.8 725.8 681.3 726.1 682.7 726.4 684.2 726.7 685.7 727.0 687.2 727.3 688.7 727.6 690.2 727.9 691.6 728.1 693.1 728.4 694.6 728.7 696.1 728.9 697.6 729.2 699.1 729.5 700.5 729.7 702.0 730.0 703.5 730.2 705.0 730.5 706.5 730.8 708.0 731.0 709.5 731.3 711.0 731.5 712.5 731.8 713.9 732.0 715.4 732.3 716.9 732.5 718.4 732.8 719.9 733.1 721.4 733.3 722.9 733.6 724.3 733.8 725.8 734.1 727.3 734.4 728.8 734.6 730.3 734.9 731.8 735.2 733.3 735.4 734.7 735.7 736.2 736.0 737.7 736.3 739.2 736.5 740.7 736.8 742.1 737.1 743.6 737.4 745.1 737.7 746.6 737.9 748.0 738.2 749.5 738.5 751.0 738.8 752.5 739.1 754.0 739.4 755.4 739.7 756.9 739.9 758.4 740.2 759.8 740.5 761.3 740.8 762.8 741.1 764.3 741.4 765.7 741.7 767.2 742.0 768.7 742.3 770.2 742.6 771.6 742.9 773.1 743.2 774.6 743.5 776.0 743.7 777.5 744.0 779.0 744.3 780.5 744.6 781.9 744.9 783.4 745.2 784.9 745.5 786.3 745.8 787.8 746.1 789.3 746.4 790.7 746.7 792.2 747.0 793.7 747.3 795.2 747.5 796.6 747.8 798.1 748.1 799.6 748.4 801.0 748.7 802.5 749.0 804.0 749.3 805.5 749.6 806.9 749.8 808.4 750.1 809.9 750.4 811.3 750.7 812.8 750.9 814.3 751.2 815.8 751.5 817.2 751.8 818.7 752.0 820.2 752.3 821.7 752.6 823.1 752.8 824.6 753.1 826.1 753.4 827.6 753.6 829.0 753.9 830.5 754.2 832.0 754.4 833.5 754.7 834.9 754.9 836.4 755.2 837.9 755.4 839.4 755.6 840.9 755.9 842.3 756.1 843.8 756.4 845.3 756.6 846.8 756.8 848.3 757.1 849.7 757.3 851.2 757.5 852.7 757.7 854.2 758.0 855.7 758.2 857.2 758.4 858.7 758.6 860.1 758.8 861.6 759.0 863.1 759.2 864.6 759.5 866.1 759.7 867.6 759.9 869.1 760.1 870.6 760.3 872.0 760.5 873.5 760.6 875.0 760.8 876.5 761.0 878.0 761.2 879.5 761.4 881.0 761.6 882.5 761.8 884.0 762.0 885.5 762.1 887.0 762.3 888.5 762.5 889.9 762.7 891.4 762.8 892.9 763.0 894.4 763.2 895.9 763.3 897.4 763.5 898.9 763.7 900.4 763.8 901.9 764.0 903.4 764.1 904.9 764.3 906.4 764.4 907.9 764.6 909.4 764.8 910.9 764.9 912.4 765.1 913.9 765.2 915.4 765.3 916.9 765.5 918.4 765.6 919.9 765.8 921.4 765.9 922.9 766.0 924.4 766.2 925.9 766.3 927.4 766.4 928.9 766.6 930.4 766.7 931.9 766.8 933.4 767.0 934.9 767.1 936.4 767.2 937.9 767.3 939.4 767.5 940.9 767.6 942.4 767.7 943.9 767.8 945.4 767.9 946.9 768.0 948.4 768.2 949.9 768.3 951.4 768.4 952.9 768.5 954.4 768.6 955.9 768.7 957.4 768.8 958.9 768.9 960.4 769.0 961.9 769.1 963.4 769.2 964.9 769.3 966.4 769.4 967.9 769.5 969.4 769.6 970.9 769.7 972.4 769.8 973.9 769.9 975.4 770.0 976.9 770.1 978.4 770.2 979.9 770.3 981.4 770.4 982.9 770.5 984.4 770.6 985.9 770.7 987.4 770.8 988.9 770.8 990.4 770.9 991.9 771.0 993.4 771.1 994.9 771.2 996.4 771.3 997.9 771.3 999.4 771.4 1000.9 771.5 1002.4 771.6 1003.9 771.7 1005.4 771.8 1006.9 771.8 1008.3 771.9 1009.8 772.0 1011.3 772.1 1012.8 772.1 1014.3 772.2 1015.8 772.3 1017.3 772.4 1018.8 772.4 1020.3 772.5 1021.8 772.6 1023.3 772.7 1024.8 772.7 1026.3 772.8" stroke="#0000ff" stroke-width="2.6" fill="none" stroke-linejoin="round"/>
<path d="M188.7 238.0L188.8 239.5 188.8 241.0 188.9 242.5 189.0 244.0 189.0 245.5 189.1 247.0 189.1 248.5 189.2 250.0 189.2 251.5 189.3 253.0 189.3 254.5 189.4 256.0 189.4 257.5 189.5 259.0 189.5 260.5 189.6 262.0 189.7 263.5 189.7 265.0 189.8 266.5 189.8 268.0 189.9 269.5 189.9 271.0 190.0 272.5 190.1 274.0 190.1 275.5 190.2 277.0 190.3 278.6 190.4 280.1 190.4 281.6 190.5 283.1 190.6 284.6 190.7 286.1 190.8 287.6 190.9 289.1 191.0 290.6 191.1 292.1 191.2 293.6 191.3 295.1 191.4 296.6 191.6 298.1 191.7 299.6 191.8 301.1 192.0 302.6 192.1 304.1 192.3 305.6 192.4 307.1 192.6 308.6 192.8 310.0 193.0 311.5 193.2 313.0 193.4 314.5 193.6 316.0 193.8 317.5 194.0 319.0 194.2 320.4 194.5 321.9 194.7 323.4 195.0 324.9 195.3 326.3 195.5 327.8 195.8 329.3 196.1 330.7 196.4 332.2 196.7 333.7 197.0 335.1 197.4 336.6 197.7 338.1 198.1 339.5 198.4 341.0 198.7 342.4 199.1 343.9 199.5 345.3 199.8 346.8 200.2 348.2 200.5 349.7 200.9 351.1 201.3 352.6 201.6 354.1 202.0 355.5 202.4 357.0 202.7 358.4 203.1 359.9 203.4 361.3 203.8 362.8 204.1 364.3 204.4 365.7 204.8 367.2 205.1 368.7 205.4 370.1 205.7 371.6 206.0 373.1 206.3 374.6 206.6 376.0 206.9 377.5 207.2 379.0 207.4 380.5 207.7 381.9 208.0 383.4 208.3 384.9 208.5 386.4 208.8 387.9 209.1 389.4 209.3 390.8 209.6 392.3 209.8 393.8 210.1 395.3 210.3 396.8 210.5 398.3 210.8 399.8 211.0 401.3 211.3 402.7 211.5 404.2 211.7 405.7 212.0 407.2 212.2 408.7 212.4 410.2 212.6 411.7 212.9 413.2 213.1 414.6 213.3 416.1 213.5 417.6 213.8 419.1 214.0 420.6 214.2 422.1 214.4 423.5 214.7 425.0 214.9 426.5 215.1 428.0 215.3 429.5 215.6 430.9 215.8 432.4 216.0 433.9 216.3 435.4 216.5 436.8 216.7 438.3 216.9 439.8 217.2 441.3 217.4 442.8 217.6 444.2 217.8 445.7 218.0 447.2 218.3 448.7 218.5 450.1 218.7 451.6 218.9 453.1 219.1 454.6 219.3 456.0 219.6 457.5 219.8 459.0 220.0 460.5 220.2 461.9 220.4 463.4 220.6 464.9 220.8 466.4 221.0 467.9 221.2 469.3 221.4 470.8 221.6 472.3 221.8 473.8 222.0 475.3 222.2 476.8 222.4 478.3 222.6 479.7 222.7 481.2 222.9 482.7 223.1 484.2 223.3 485.7 223.4 487.2 223.6 488.7 223.8 490.2 223.9 491.7 224.1 493.2 224.3 494.7 224.4 496.2 224.6 497.7 224.8 499.2 224.9 500.7 225.1 502.2 225.3 503.7 225.4 505.2 225.6 506.7 225.8 508.2 225.9 509.7 226.1 511.2 226.3 512.7 226.5 514.2 226.6 515.8 226.8 517.3 227.0 518.8 227.2 520.3 227.4 521.8 227.6 523.3 227.8 524.8 228.0 526.3 228.2 527.8 228.4 529.3 228.7 530.8 228.9 532.3 229.1 533.8 229.4 535.3 229.6 536.8 229.9 538.3 230.1 539.8 230.4 541.3 230.7 542.8 231.0 544.3 231.3 545.8 231.6 547.3 231.9 548.8 232.2 550.3 232.5 551.8 232.8 553.3 233.2 554.7 233.6 556.2 233.9 557.7 234.3 559.2 234.7 560.7 235.1 562.2 235.5 563.6 235.9 565.1 236.4 566.5 236.9 568.0 237.3 569.4 237.8 570.8 238.4 572.2 238.9 573.6 239.5 575.0 240.1 576.3 240.8 577.6 241.4 578.9 242.1 580.1 242.9 581.4 243.7 582.6 244.5 583.7 245.3 584.8 246.2 585.9 247.1 587.0 248.1 588.0 249.1 588.9 250.2 589.8 251.3 590.7 252.4 591.6 253.5 592.4 254.7 593.2 255.9 594.0 257.2 594.7 258.4 595.4 259.7 596.1 261.0 596.7 262.4 597.4 263.7 598.0 265.1 598.5 266.5 599.1 267.9 599.6 269.3 600.1 270.7 600.6 272.1 601.1 273.6 601.6 275.0 602.0 276.5 602.4 278.0 602.9 279.4 603.3 280.9 603.6 282.4 604.0 283.9 604.4 285.4 604.8 286.8 605.1 288.3 605.5 289.8 605.8 291.3 606.1 292.8 606.5 294.3 606.8 295.8 607.1 297.3 607.4 298.8 607.7 300.4 608.0 301.9 608.4 303.4 608.7 304.9 609.0 306.4 609.3 307.9 609.6 309.3 610.0 310.8 610.3 312.3 610.6 313.8 611.0 315.3 611.3 316.8 611.7 318.2 612.1 319.7 612.4 321.1 612.8 322.6 613.2 324.0 613.6 325.5 614.1 326.9 614.5 328.4 614.9 329.8 615.4 331.2 615.8 332.6 616.3 334.0 616.7 335.5 617.2 336.9 617.7 338.3 618.1 339.7 618.6 341.1 619.1 342.5 619.6 343.9 620.1 345.3 620.5 346.7 621.0 348.1 621.5 349.5 622.0 350.9 622.5 352.3 622.9 353.7 623.4 355.1 623.9 356.5 624.3 357.9 624.8 359.3 625.2 360.7 625.7 362.2 626.1 363.6 626.6 365.0 627.0 366.4 627.4 367.9 627.8 369.3 628.2 370.7 628.6 372.2 628.9 373.6 629.3 375.1 629.6 376.5 630.0 378.0 630.3 379.5 630.6 380.9 630.9 382.4 631.3 383.9 631.6 385.3 631.8 386.8 632.1 388.3 632.4 389.8 632.7 391.3 633.0 392.8 633.2 394.3 633.5 395.8 633.7 397.3 634.0 398.7 634.2 400.2 634.5 401.7 634.7 403.2 635.0 404.7 635.2 406.2 635.5 407.7 635.7 409.2 636.0 410.7 636.2 412.2 636.4 413.7 636.7 415.2 636.9 416.7 637.2 418.2 637.5 419.7 637.7 421.2 638.0 422.7 638.3 424.2 638.5 425.7 638.8 427.2 639.1 428.7 639.4 430.2 639.7 431.6 640.0 433.1 640.3 434.6 640.6 436.1 641.0 437.5 641.3 439.0 641.7 440.5 642.0 441.9 642.4 443.4 642.8 444.8 643.2 446.3 643.6 447.7 644.0 449.1 644.4 450.6 644.8 452.0 645.3 453.4 645.7 454.8 646.2 456.3 646.6 457.7 647.1 459.1 647.6 460.5 648.1 461.9 648.6 463.3 649.1 464.7 649.6 466.1 650.1 467.5 650.6 468.9 651.1 470.3 651.7 471.7 652.2 473.1 652.8 474.5 653.3 475.9 653.9 477.3 654.5 478.6 655.0 480.0 655.6 481.4 656.2 482.8 656.8 484.1 657.4 485.5 658.0 486.9 658.6 488.3 659.2 489.6 659.8 491.0 660.4 492.4 661.0 493.7 661.6 495.1 662.2 496.5 662.9 497.8 663.5 499.2 664.1 500.5 664.7 501.9 665.4 503.3 666.0 504.6 666.6 506.0 667.3 507.3 667.9 508.7 668.6 510.1 669.2 511.4 669.8 512.8 670.5 514.1 671.1 515.5 671.7 516.9 672.4 518.2 673.0 519.6 673.7 521.0 674.3 522.3 674.9 523.7 675.6 525.0 676.2 526.4 676.8 527.8 677.5 529.1 678.1 530.5 678.7 531.9 679.3 533.3 680.0 534.6 680.6 536.0 681.2 537.4 681.8 538.7 682.5 540.1 683.1 541.5 683.7 542.9 684.3 544.2 684.9 545.6 685.5 547.0 686.1 548.4 686.7 549.7 687.3 551.1 688.0 552.5 688.6 553.9 689.2 555.3 689.8 556.6 690.3 558.0 690.9 559.4 691.5 560.8 692.1 562.2 692.7 563.6 693.3 565.0 693.9 566.3 694.5 567.7 695.0 569.1 695.6 570.5 696.2 571.9 696.8 573.3 697.3 574.7 697.9 576.1 698.4 577.5 699.0 578.9 699.6 580.3 700.1 581.7 700.7 583.1 701.2 584.5 701.8 585.9 702.3 587.3 702.8 588.7 703.4 590.1 703.9 591.5 704.4 592.9 705.0 594.3 705.5 595.7 706.0 597.1 706.5 598.5 707.0 599.9 707.6 601.4 708.1 602.8 708.6 604.2 709.1 605.6 709.6 607.0 710.1 608.4 710.6 609.9 711.0 611.3 711.5 612.7 712.0 614.1 712.5 615.5 712.9 617.0 713.4 618.4 713.9 619.8 714.3 621.2 714.8 622.7 715.2 624.1 715.7 625.5 716.1 627.0 716.6 628.4 717.0 629.8 717.4 631.3 717.9 632.7 718.3 634.2 718.7 635.6 719.1 637.0 719.5 638.5 719.9 639.9 720.3 641.4 720.7 642.8 721.1 644.3 721.5 645.7 721.9 647.2 722.3 648.6 722.6 650.1 723.0 651.5 723.4 653.0 723.7 654.4 724.1 655.9 724.4 657.4 724.8 658.8 725.1 660.3 725.4 661.7 725.8 663.2 726.1 664.7 726.4 666.1 726.7 667.6 727.1 669.1 727.4 670.5 727.7 672.0 728.0 673.5 728.3 675.0 728.6 676.4 728.9 677.9 729.2 679.4 729.4 680.9 729.7 682.3 730.0 683.8 730.3 685.3 730.6 686.8 730.8 688.2 731.1 689.7 731.4 691.2 731.6 692.7 731.9 694.2 732.2 695.6 732.4 697.1 732.7 698.6 733.0 700.1 733.2 701.6 733.5 703.1 733.7 704.5 734.0 706.0 734.2 707.5 734.5 709.0 734.7 710.5 735.0 712.0 735.2 713.4 735.5 714.9 735.7 716.4 736.0 717.9 736.2 719.4 736.5 720.9 736.7 722.3 737.0 723.8 737.2 725.3 737.5 726.8 737.7 728.3 738.0 729.8 738.2 731.3 738.5 732.7 738.7 734.2 739.0 735.7 739.2 737.2 739.5 738.7 739.7 740.1 740.0 741.6 740.2 743.1 740.5 744.6 740.7 746.1 741.0 747.6 741.2 749.0 741.5 750.5 741.8 752.0 742.0 753.5 742.3 755.0 742.5 756.4 742.8 757.9 743.0 759.4 743.3 760.9 743.6 762.4 743.8 763.8 744.1 765.3 744.3 766.8 744.6 768.3 744.8 769.8 745.1 771.2 745.4 772.7 745.6 774.2 745.9 775.7 746.1 777.2 746.4 778.6 746.6 780.1 746.9 781.6 747.1 783.1 747.4 784.6 747.7 786.0 747.9 787.5 748.2 789.0 748.4 790.5 748.7 792.0 748.9 793.4 749.2 794.9 749.4 796.4 749.7 797.9 749.9 799.4 750.2 800.8 750.4 802.3 750.7 803.8 750.9 805.3 751.2 806.8 751.4 808.2 751.6 809.7 751.9 811.2 752.1 812.7 752.4 814.2 752.6 815.6 752.9 817.1 753.1 818.6 753.3 820.1 753.6 821.6 753.8 823.1 754.0 824.5 754.3 826.0 754.5 827.5 754.7 829.0 755.0 830.5 755.2 832.0 755.4 833.4 755.6 834.9 755.9 836.4 756.1 837.9 756.3 839.4 756.5 840.9 756.7 842.3 757.0 843.8 757.2 845.3 757.4 846.8 757.6 848.3 757.8 849.8 758.0 851.3 758.2 852.8 758.4 854.2 758.7 855.7 758.9 857.2 759.1 858.7 759.3 860.2 759.5 861.7 759.7 863.2 759.9 864.7 760.1 866.2 760.2 867.6 760.4 869.1 760.6 870.6 760.8 872.1 761.0 873.6 761.2 875.1 761.4 876.6 761.6 878.1 761.8 879.6 761.9 881.1 762.1 882.5 762.3 884.0 762.5 885.5 762.6 887.0 762.8 888.5 763.0 890.0 763.2 891.5 763.3 893.0 763.5 894.5 763.7 896.0 763.8 897.5 764.0 899.0 764.2 900.5 764.3 902.0 764.5 903.5 764.7 904.9 764.8 906.4 765.0 907.9 765.1 909.4 765.3 910.9 765.5 912.4 765.6 913.9 765.8 915.4 765.9 916.9 766.1 918.4 766.2 919.9 766.4 921.4 766.5 922.9 766.6 924.4 766.8 925.9 766.9 927.4 767.1 928.9 767.2 930.4 767.3 931.9 767.5 933.4 767.6 934.9 767.8 936.4 767.9 937.9 768.0 939.4 768.2 940.9 768.3 942.4 768.4 943.8 768.5 945.3 768.7 946.8 768.8 948.3 768.9 949.8 769.0 951.3 769.2 952.8 769.3 954.3 769.4 955.8 769.5 957.3 769.6 958.8 769.7 960.3 769.9 961.8 770.0 963.3 770.1 964.8 770.2 966.3 770.3 967.8 770.4 969.3 770.5 970.8 770.6 972.3 770.7 973.8 770.8 975.3 770.9 976.8 771.0 978.3 771.1 979.8 771.2 981.3 771.3 982.8 771.4 984.3 771.5 985.8 771.6 987.3 771.7 988.8 771.8 990.3 771.9 991.8 772.0 993.3 772.1 994.8 772.2 996.3 772.3 997.8 772.4 999.3 772.4 1000.8 772.5 1002.3 772.6 1003.8 772.7 1005.3 772.8 1006.8 772.9 1008.3 772.9 1009.8 773.0 1011.3 773.1 1012.8 773.2 1014.3 773.2 1015.8 773.3 1017.3 773.4 1018.8 773.5 1020.3 773.5 1021.8 773.6 1023.3 773.7 1024.8 773.7 1026.3 773.8" stroke="#000000" stroke-width="2.6" fill="none" stroke-linejoin="round"/>
<line x1="168.9" y1="484.1" x2="1088" y2="484.1" stroke="#5a4fe0" stroke-width="3.2" stroke-dasharray="3.2 4.305"/>
<rect x="168.3" y="22.5" width="1090.0" height="817.9" fill="none" stroke="#000" stroke-width="3"/>
<path d="M210.2 840.4v-9.0M252.2 840.4v-16.0M294.1 840.4v-9.0M336.0 840.4v-16.0M377.9 840.4v-9.0M419.9 840.4v-16.0M461.8 840.4v-9.0M503.7 840.4v-16.0M545.6 840.4v-9.0M587.5 840.4v-16.0M629.5 840.4v-9.0M671.4 840.4v-16.0M713.3 840.4v-9.0M755.2 840.4v-16.0M797.2 840.4v-9.0M839.1 840.4v-16.0M881.0 840.4v-9.0M923.0 840.4v-16.0M964.9 840.4v-9.0M1006.8 840.4v-16.0M1048.7 840.4v-9.0M1090.6 840.4v-16.0M1132.6 840.4v-9.0M1174.5 840.4v-16.0M1216.4 840.4v-9.0M168.3 65.1h9.0M168.3 107.7h16.5M168.3 150.3h9.0M168.3 192.9h16.5M168.3 235.5h9.0M168.3 278.1h16.5M168.3 320.7h9.0M168.3 363.3h16.5M168.3 405.9h9.0M168.3 448.5h16.5M168.3 491.1h9.0M168.3 533.7h16.5M168.3 576.3h9.0M168.3 618.9h16.5M168.3 661.5h9.0M168.3 704.1h16.5M168.3 746.7h9.0M168.3 789.3h16.5M168.3 831.9h9.0" stroke="#000" stroke-width="3"/>
<line x1="1074.5" y1="182.5" x2="1017.0" y2="315.3" stroke="#000" stroke-width="2"/>
<line x1="1063.4" y1="343.9" x2="1005.0" y2="478.0" stroke="#000" stroke-width="2"/>
<line x1="1059.8" y1="410.0" x2="1002.0" y2="543.0" stroke="#000" stroke-width="2"/>
<line x1="1075.5" y1="447.4" x2="1019.0" y2="581.7" stroke="#000" stroke-width="2"/>
<line x1="1071.4" y1="627.7" x2="1013.7" y2="762.0" stroke="#000" stroke-width="2"/>
<text x="151" y="31.7" text-anchor="end" font-family='"Liberation Sans", sans-serif' font-size="30.5" transform="translate(151 0) scale(1.08 1) translate(-151 0)">0.00</text>
<text x="151" y="116.9" text-anchor="end" font-family='"Liberation Sans", sans-serif' font-size="30.5" transform="translate(151 0) scale(1.08 1) translate(-151 0)">-0.25</text>
<text x="151" y="202.1" text-anchor="end" font-family='"Liberation Sans", sans-serif' font-size="30.5" transform="translate(151 0) scale(1.08 1) translate(-151 0)">-0.50</text>
<text x="151" y="287.3" text-anchor="end" font-family='"Liberation Sans", sans-serif' font-size="30.5" transform="translate(151 0) scale(1.08 1) translate(-151 0)">-0.75</text>
<text x="151" y="372.5" text-anchor="end" font-family='"Liberation Sans", sans-serif' font-size="30.5" transform="translate(151 0) scale(1.08 1) translate(-151 0)">-1.00</text>
<text x="151" y="457.7" text-anchor="end" font-family='"Liberation Sans", sans-serif' font-size="30.5" transform="translate(151 0) scale(1.08 1) translate(-151 0)">-1.25</text>
<text x="151" y="542.9" text-anchor="end" font-family='"Liberation Sans", sans-serif' font-size="30.5" transform="translate(151 0) scale(1.08 1) translate(-151 0)">-1.50</text>
<text x="151" y="628.1" text-anchor="end" font-family='"Liberation Sans", sans-serif' font-size="30.5" transform="translate(151 0) scale(1.08 1) translate(-151 0)">-1.75</text>
<text x="151" y="713.3" text-anchor="end" font-family='"Liberation Sans", sans-serif' font-size="30.5" transform="translate(151 0) scale(1.08 1) translate(-151 0)">-2.00</text>
<text x="151" y="798.5" text-anchor="end" font-family='"Liberation Sans", sans-serif' font-size="30.5" transform="translate(151 0) scale(1.08 1) translate(-151 0)">-2.25</text>
<text x="168.3" y="884" text-anchor="middle" font-family='"Liberation Sans", sans-serif' font-size="30.5" transform="translate(168.3 0) scale(1.08 1) translate(-168.3 0)">0</text>
<text x="252.2" y="884" text-anchor="middle" font-family='"Liberation Sans", sans-serif' font-size="30.5" transform="translate(252.2 0) scale(1.08 1) translate(-252.2 0)">1</text>
<text x="336.0" y="884" text-anchor="middle" font-family='"Liberation Sans", sans-serif' font-size="30.5" transform="translate(336.0 0) scale(1.08 1) translate(-336.0 0)">2</text>
<text x="419.9" y="884" text-anchor="middle" font-family='"Liberation Sans", sans-serif' font-size="30.5" transform="translate(419.9 0) scale(1.08 1) translate(-419.9 0)">3</text>
<text x="503.7" y="884" text-anchor="middle" font-family='"Liberation Sans", sans-serif' font-size="30.5" transform="translate(503.7 0) scale(1.08 1) translate(-503.7 0)">4</text>
<text x="587.5" y="884" text-anchor="middle" font-family='"Liberation Sans", sans-serif' font-size="30.5" transform="translate(587.5 0) scale(1.08 1) translate(-587.5 0)">5</text>
<text x="671.4" y="884" text-anchor="middle" font-family='"Liberation Sans", sans-serif' font-size="30.5" transform="translate(671.4 0) scale(1.08 1) translate(-671.4 0)">6</text>
<text x="755.2" y="884" text-anchor="middle" font-family='"Liberation Sans", sans-serif' font-size="30.5" transform="translate(755.2 0) scale(1.08 1) translate(-755.2 0)">7</text>
<text x="839.1" y="884" text-anchor="middle" font-family='"Liberation Sans", sans-serif' font-size="30.5" transform="translate(839.1 0) scale(1.08 1) translate(-839.1 0)">8</text>
<text x="923.0" y="884" text-anchor="middle" font-family='"Liberation Sans", sans-serif' font-size="30.5" transform="translate(923.0 0) scale(1.08 1) translate(-923.0 0)">9</text>
<text x="1006.8" y="884" text-anchor="middle" font-family='"Liberation Sans", sans-serif' font-size="30.5" transform="translate(1006.8 0) scale(1.08 1) translate(-1006.8 0)">10</text>
<text x="1090.6" y="884" text-anchor="middle" font-family='"Liberation Sans", sans-serif' font-size="30.5" transform="translate(1090.6 0) scale(1.08 1) translate(-1090.6 0)">11</text>
<text x="1174.5" y="884" text-anchor="middle" font-family='"Liberation Sans", sans-serif' font-size="30.5" transform="translate(1174.5 0) scale(1.08 1) translate(-1174.5 0)">12</text>
<text x="1258.3" y="884" text-anchor="middle" font-family='"Liberation Sans", sans-serif' font-size="30.5" transform="translate(1258.3 0) scale(1.08 1) translate(-1258.3 0)">13</text>
<text x="714" y="958" text-anchor="middle" font-family='"Liberation Serif", serif' font-size="55">t/s</text>
<text transform="translate(44 447.2) rotate(-90)" text-anchor="middle" font-family='"Liberation Serif", serif' font-size="52">E/V vs Ag/AgCl</text>
<text x="1086.0" y="187.8" font-family='"Liberation Serif", serif' font-size="46.5" transform="translate(0 187.8) scale(1 1.045) translate(0 -187.8)">-15 mA</text>
<text x="1067.0" y="361.8" font-family='"Liberation Serif", serif' font-size="46.5" transform="translate(0 361.8) scale(1 1.045) translate(0 -361.8)">-30 mA</text>
<text x="1067.0" y="418.2" font-family='"Liberation Serif", serif' font-size="46.5" transform="translate(0 418.2) scale(1 1.045) translate(0 -418.2)">-35 mA</text>
<text x="1086.5" y="465.0" font-family='"Liberation Serif", serif' font-size="46.5" transform="translate(0 465.0) scale(1 1.045) translate(0 -465.0)">-40 mA</text>
<text x="1075.5" y="629.2" font-family='"Liberation Serif", serif' font-size="46.5" transform="translate(0 629.2) scale(1 1.045) translate(0 -629.2)">-190 mA</text>
<text x="957.0" y="294.8" font-family='"Liberation Serif", serif' font-size="50">C</text>
<text x="951.0" y="455.5" font-family='"Liberation Serif", serif' font-size="50">G</text>
<text x="952.0" y="536.0" font-family='"Liberation Serif", serif' font-size="50">E</text>
<text x="1037.0" y="588.0" font-family='"Liberation Serif", serif' font-size="50">B</text>
<text x="967.0" y="747.3" font-family='"Liberation Serif", serif' font-size="50">A</text></svg>
</body></html>
